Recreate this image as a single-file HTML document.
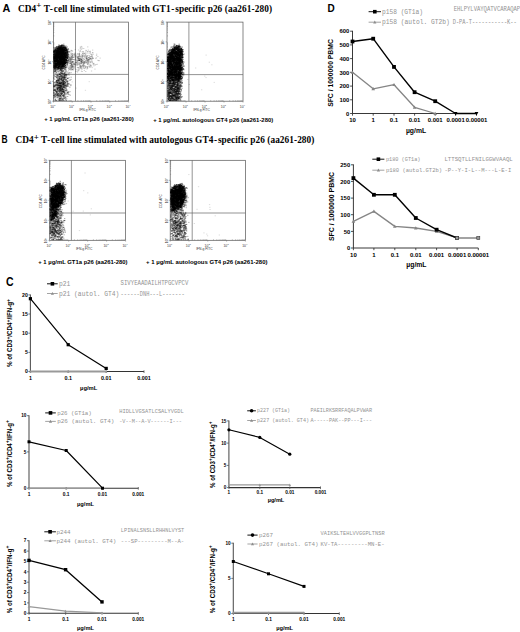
<!DOCTYPE html>
<html><head><meta charset="utf-8"><style>
html,body{margin:0;padding:0;background:#fff;}
svg{display:block;}
.S{font-family:"Liberation Sans", sans-serif;font-weight:bold;}
.R{font-family:"Liberation Serif", serif;font-weight:bold;}
.M{font-family:"Liberation Mono", monospace;}
.SN{font-family:"Liberation Sans", sans-serif;font-weight:normal;}
</style></head><body>
<svg width="520" height="632" viewBox="0 0 520 632">
<rect width="520" height="632" fill="#fff"/>
<text x="2.5" y="11.8" class="S" font-size="10.8">A</text>
<text x="18.0" y="11.6" class="R" font-size="9.3" textLength="254" lengthAdjust="spacing">CD4<tspan dy="-3.4" font-size="9">+</tspan><tspan dy="3.4"> T</tspan><tspan dx="0.7">-</tspan><tspan dx="0.7">cell line stimulated with GT1</tspan><tspan dx="0.7">-</tspan><tspan dx="0.7">specific p26 (aa261-280)</tspan></text>
<rect x="53.4" y="22.1" width="75.2" height="79.1" fill="none" stroke="#555" stroke-width="0.7"/>
<line x1="75.5" y1="22.1" x2="75.5" y2="101.2" stroke="#666" stroke-width="0.7"/>
<line x1="53.4" y1="74.4" x2="128.6" y2="74.4" stroke="#666" stroke-width="0.7"/>
<path d="M56.4 52.3h.3M60.1 58.1h.3M62.5 47.6h.3M53.9 58.4h.3M55.1 56.2h.3M67.4 58.0h.3M53.9 62.7h.3M56.2 55.4h.3M62.8 65.8h.3M59.6 51.5h.3M60.4 51.9h.3M62.7 58.1h.3M59.0 48.8h.3M64.8 60.3h.3M62.8 62.1h.3M59.8 47.8h.3M65.8 59.8h.3M59.8 56.7h.3M54.5 67.4h.3M61.4 45.3h.3M61.9 48.6h.3M59.8 45.9h.3M62.6 58.0h.3M56.3 64.3h.3M65.1 57.3h.3M55.1 57.7h.3M58.9 47.6h.3M57.7 46.7h.3M55.1 50.8h.3M61.8 63.1h.3M54.0 67.7h.3M62.5 57.5h.3M57.2 51.2h.3M67.3 52.9h.3M54.2 54.8h.3M57.0 59.5h.3M56.4 60.4h.3M62.8 68.3h.3M67.5 54.4h.3M62.9 47.8h.3M58.0 66.7h.3M53.9 47.7h.3M56.7 53.9h.3M59.5 62.0h.3M64.0 66.6h.3M53.9 52.1h.3M56.8 59.2h.3M60.6 62.8h.3M59.4 48.1h.3M56.3 51.5h.3M54.2 57.4h.3M55.4 55.9h.3M53.9 64.0h.3M61.5 48.3h.3M55.0 49.8h.3M62.9 54.7h.3M55.0 66.2h.3M53.9 66.8h.3M62.2 68.0h.3M67.4 50.1h.3M53.9 52.4h.3M64.8 52.7h.3M57.6 58.7h.3M54.6 64.1h.3M55.8 56.4h.3M62.3 60.1h.3M62.2 61.1h.3M64.5 53.5h.3M59.0 57.3h.3M57.8 50.4h.3M59.7 51.8h.3M64.9 54.4h.3M58.5 53.2h.3M58.7 46.9h.3M56.8 68.0h.3M62.0 59.0h.3M56.5 67.2h.3M54.8 60.8h.3M60.5 45.9h.3M65.9 48.7h.3M61.5 55.3h.3M60.2 50.0h.3M61.3 54.9h.3M63.8 66.6h.3M54.6 61.4h.3M62.4 61.9h.3M54.3 52.3h.3M60.0 48.5h.3M65.4 52.2h.3M66.0 60.8h.3M62.5 52.2h.3M53.9 57.9h.3M58.0 56.5h.3M55.6 66.7h.3M56.6 55.6h.3M56.5 52.6h.3M56.7 50.0h.3M56.3 65.1h.3M67.3 49.7h.3M61.8 49.8h.3M56.6 53.9h.3M61.1 61.1h.3M53.9 59.2h.3M62.3 45.2h.3M56.2 60.2h.3M53.9 61.7h.3M55.6 63.7h.3M62.3 51.4h.3M62.8 47.3h.3M56.0 54.3h.3M61.8 52.5h.3M57.9 68.3h.3M56.3 60.4h.3M56.7 54.3h.3M60.4 63.0h.3M66.3 61.2h.3M53.9 50.9h.3M61.5 51.4h.3M65.6 57.7h.3M62.0 49.7h.3M54.7 67.3h.3M67.5 56.3h.3M63.3 67.5h.3M55.3 59.8h.3M54.1 55.4h.3M66.1 60.3h.3M62.8 57.5h.3M65.4 62.1h.3M64.4 46.8h.3M66.0 47.5h.3M57.6 61.2h.3M56.0 49.7h.3M59.6 63.3h.3M60.9 63.7h.3M59.2 48.1h.3M61.8 47.0h.3M59.8 61.0h.3M56.9 61.1h.3M62.0 66.6h.3M58.9 54.5h.3M64.9 47.6h.3M57.3 63.6h.3M64.6 59.1h.3M58.8 66.7h.3M61.5 53.8h.3M62.4 45.5h.3M59.8 45.6h.3M55.9 66.5h.3M65.3 55.7h.3M62.1 60.6h.3M53.9 55.1h.3M55.3 65.1h.3M64.5 60.3h.3M63.5 52.3h.3M62.9 60.4h.3M67.9 54.0h.3M62.1 59.2h.3M57.0 51.1h.3M62.1 53.3h.3M59.5 48.9h.3M65.3 48.3h.3M57.8 55.9h.3M56.6 60.7h.3M64.7 60.9h.3M63.6 49.3h.3M64.0 55.0h.3M61.3 55.3h.3M66.3 50.3h.3M60.2 60.1h.3M61.7 51.9h.3M63.5 63.3h.3M64.9 51.0h.3M63.5 54.9h.3M64.6 62.0h.3M59.8 48.1h.3M65.1 56.4h.3M54.8 60.1h.3M66.2 51.2h.3M60.5 48.2h.3M55.2 54.9h.3M61.3 51.3h.3M58.9 53.5h.3M57.5 49.2h.3M66.1 55.0h.3M55.1 66.9h.3M63.0 45.4h.3M59.3 59.4h.3M60.8 55.8h.3M61.2 65.1h.3M57.5 62.9h.3M60.7 56.5h.3M65.5 50.5h.3M56.0 66.6h.3M53.9 65.4h.3M55.3 66.2h.3M59.5 50.1h.3M67.0 56.8h.3M53.9 56.9h.3M69.1 51.7h.3M59.8 52.0h.3M56.9 54.2h.3M59.9 49.2h.3M56.8 68.9h.3M63.1 65.0h.3M62.3 58.9h.3M56.1 58.6h.3M58.3 67.4h.3M65.7 59.3h.3M64.7 63.2h.3M58.8 44.9h.3M60.7 54.2h.3M64.0 51.3h.3M54.0 65.1h.3M56.9 62.9h.3M59.9 55.2h.3M62.2 47.1h.3M54.9 64.4h.3M54.1 52.1h.3M56.5 65.3h.3M60.0 59.1h.3M63.7 62.4h.3M62.9 58.9h.3M53.9 66.5h.3M55.0 53.4h.3M60.3 66.7h.3M66.6 59.1h.3M67.0 63.5h.3M59.8 68.4h.3M65.7 51.3h.3M60.5 61.9h.3M64.1 64.3h.3M58.4 50.6h.3M56.2 55.9h.3M61.1 66.9h.3M55.6 66.1h.3M61.6 69.1h.3M63.9 51.5h.3M67.4 55.7h.3M61.7 54.4h.3M54.3 56.5h.3M65.2 58.1h.3M67.6 51.7h.3M61.4 59.2h.3M62.6 62.7h.3M60.8 60.8h.3M55.8 67.2h.3M58.5 68.6h.3M65.0 63.3h.3M60.6 67.2h.3M62.1 46.8h.3M60.0 61.2h.3M66.7 53.1h.3M54.4 61.3h.3M59.2 61.3h.3M55.8 63.6h.3M62.9 50.9h.3M57.7 57.9h.3M57.0 61.1h.3M62.3 51.8h.3M58.1 66.3h.3M53.9 53.8h.3M60.9 47.9h.3M60.9 51.1h.3M61.7 65.6h.3M66.0 56.0h.3M65.3 50.5h.3M64.0 54.7h.3M60.3 64.2h.3M60.1 51.5h.3M59.6 63.1h.3M58.8 53.8h.3M53.9 51.4h.3M64.0 64.0h.3M57.7 50.8h.3M55.0 71.1h.3M59.8 56.8h.3M59.3 62.0h.3M57.8 64.8h.3M62.9 60.4h.3M56.3 67.8h.3M54.9 61.5h.3M62.7 56.3h.3M60.4 47.7h.3M66.9 51.0h.3M57.4 64.0h.3M53.9 55.0h.3M60.4 57.0h.3M57.3 50.9h.3M55.7 67.7h.3M58.1 64.7h.3M59.0 66.8h.3M59.8 51.9h.3M59.4 68.6h.3M55.4 64.0h.3M61.5 53.6h.3M54.2 55.2h.3M58.1 59.9h.3M58.4 66.9h.3M61.0 57.4h.3M53.9 54.3h.3M60.7 46.6h.3M60.4 52.9h.3M63.1 52.1h.3M67.4 55.9h.3M59.7 56.7h.3M60.6 50.3h.3M61.3 47.9h.3M55.9 60.6h.3M65.4 52.1h.3M64.3 60.9h.3M67.6 60.8h.3M65.4 67.4h.3M67.3 51.7h.3M55.5 70.0h.3M54.3 66.5h.3M54.7 58.2h.3M57.5 56.1h.3M63.6 51.7h.3M59.0 59.0h.3M59.6 49.1h.3M64.5 53.7h.3M62.8 61.2h.3M55.8 60.9h.3M59.2 61.4h.3M63.1 65.7h.3M64.0 57.1h.3M60.0 54.2h.3M58.3 52.1h.3M64.9 57.1h.3M57.2 57.2h.3M53.9 56.2h.3M56.9 51.9h.3M54.2 50.9h.3M64.9 65.7h.3M55.1 70.9h.3M54.6 61.6h.3M57.5 48.5h.3M60.8 55.7h.3M58.1 67.6h.3M60.3 68.0h.3M58.7 65.0h.3M54.6 50.9h.3M58.4 67.2h.3M65.9 50.6h.3M56.7 63.3h.3M56.4 65.6h.3M61.2 45.6h.3M54.8 57.2h.3M59.4 56.0h.3M61.7 65.8h.3M63.9 51.6h.3M62.6 46.3h.3M56.2 65.5h.3M57.0 59.8h.3M66.9 58.5h.3M63.5 60.1h.3M63.8 50.7h.3M59.6 52.2h.3M57.1 69.1h.3M67.0 58.2h.3M63.0 47.2h.3M62.3 63.2h.3M62.8 58.8h.3M56.7 47.2h.3M56.8 57.0h.3M61.5 59.9h.3M60.7 64.0h.3M65.2 60.5h.3M67.9 62.1h.3M66.5 60.0h.3M57.8 55.1h.3M57.5 64.6h.3M60.9 49.4h.3M64.3 61.5h.3M55.8 67.4h.3M59.6 66.8h.3M62.6 58.0h.3M66.3 49.6h.3M65.4 59.4h.3M61.0 60.9h.3M61.2 62.3h.3M55.4 59.4h.3M66.9 62.9h.3M60.5 63.6h.3M67.3 58.6h.3M54.4 51.2h.3M59.8 64.4h.3M59.2 57.4h.3M65.0 61.0h.3M62.3 54.1h.3M59.2 66.4h.3M58.2 54.2h.3M59.9 59.7h.3M58.1 61.6h.3M66.7 58.2h.3M61.2 61.8h.3M59.2 53.5h.3M56.2 50.5h.3M67.4 55.9h.3M57.8 60.8h.3M64.0 47.5h.3M62.4 55.6h.3M56.3 49.4h.3M66.8 62.0h.3M63.5 60.4h.3M61.1 53.5h.3M64.8 68.7h.3M66.6 67.6h.3M60.2 64.8h.3M62.6 50.5h.3M56.9 53.5h.3M53.9 58.8h.3M62.5 63.3h.3M59.5 47.2h.3M65.4 53.2h.3M57.8 60.8h.3M63.8 50.0h.3M57.0 61.7h.3M57.0 52.9h.3M59.5 49.4h.3M54.7 51.8h.3M55.4 49.4h.3M56.8 51.9h.3M63.7 65.1h.3M63.1 53.4h.3M63.3 52.8h.3M59.1 55.9h.3M61.1 59.5h.3M54.4 57.7h.3M57.8 54.3h.3M57.4 54.4h.3M58.6 62.5h.3M58.1 52.5h.3M62.2 63.2h.3M57.6 58.1h.3M57.9 51.1h.3M63.9 62.9h.3M54.4 58.8h.3M54.5 59.7h.3M63.1 57.2h.3M62.3 58.4h.3M65.7 56.5h.3M64.4 53.8h.3M56.2 50.6h.3M65.4 56.8h.3M58.1 61.7h.3M60.1 57.7h.3M61.7 53.4h.3M64.6 50.0h.3M56.9 53.8h.3M60.0 53.6h.3M53.9 50.3h.3M57.0 56.3h.3M68.5 54.7h.3M67.3 57.5h.3M61.3 65.2h.3M64.2 54.7h.3M65.9 60.0h.3M57.0 50.0h.3M62.5 65.9h.3M54.0 63.3h.3M60.1 60.8h.3M64.8 67.5h.3M63.1 66.4h.3M62.6 68.4h.3M55.1 63.9h.3M61.2 67.0h.3M67.3 52.2h.3M61.2 56.9h.3M61.8 45.8h.3M66.6 54.8h.3M57.2 54.7h.3M66.5 60.3h.3M59.5 54.4h.3M65.9 49.8h.3M56.3 56.6h.3M59.6 51.6h.3M64.4 64.1h.3M63.4 61.8h.3M61.6 66.6h.3M55.7 59.9h.3M53.9 51.4h.3M61.6 57.6h.3M65.9 53.1h.3M63.2 58.9h.3M57.5 64.1h.3M55.6 64.7h.3M58.9 56.4h.3M59.1 53.6h.3M60.9 48.4h.3M62.0 66.7h.3M57.7 67.0h.3M65.9 59.7h.3M58.6 64.5h.3M54.4 48.3h.3M59.0 62.6h.3M66.8 53.8h.3M55.4 65.8h.3M58.5 54.7h.3M65.0 56.7h.3M58.5 55.1h.3M63.2 57.4h.3M54.9 65.8h.3M55.7 51.3h.3M56.6 64.9h.3M64.4 66.3h.3M63.6 64.9h.3M66.1 60.5h.3M61.5 68.0h.3M54.2 60.2h.3M64.3 63.0h.3M58.0 67.9h.3M58.5 54.4h.3M59.7 63.8h.3M56.5 50.8h.3M53.9 57.2h.3M57.4 62.7h.3M64.0 64.5h.3M64.8 52.9h.3M64.7 62.8h.3M61.1 50.7h.3M63.4 59.0h.3M60.2 57.9h.3M54.3 69.0h.3M53.9 63.3h.3M65.4 50.3h.3M54.2 67.5h.3M62.8 54.7h.3M60.9 56.8h.3M61.0 57.5h.3M59.7 65.9h.3M55.1 55.9h.3M55.9 65.7h.3M60.4 57.9h.3M63.2 47.3h.3M55.4 63.5h.3M60.6 49.1h.3M62.3 61.7h.3M66.9 55.7h.3M54.6 49.7h.3M55.7 56.6h.3M57.1 54.2h.3M56.6 56.3h.3M56.4 58.0h.3M53.9 57.1h.3M56.0 58.1h.3M60.4 68.6h.3M61.9 63.4h.3M56.8 54.6h.3M55.7 63.7h.3M55.5 52.1h.3M56.2 63.5h.3M55.8 50.1h.3M60.0 48.9h.3M66.7 62.9h.3M66.0 52.6h.3M56.4 58.9h.3M55.8 51.8h.3M59.0 50.0h.3M57.8 68.5h.3M62.7 48.3h.3M55.9 66.3h.3M64.1 50.7h.3M60.5 62.3h.3M61.2 61.3h.3M56.5 52.1h.3M55.5 48.0h.3M60.0 55.9h.3M61.0 53.8h.3M61.4 45.6h.3M65.2 61.7h.3M62.6 67.1h.3M56.0 54.0h.3M63.0 62.6h.3M57.4 55.1h.3M58.1 52.8h.3M55.1 58.5h.3M64.2 61.6h.3M64.0 57.4h.3M64.9 53.8h.3M56.0 66.5h.3M55.9 61.9h.3M60.9 47.1h.3M66.9 64.5h.3M63.8 47.7h.3M66.9 56.9h.3M57.7 48.6h.3M61.0 66.2h.3M55.0 60.9h.3M61.7 61.0h.3M55.9 55.6h.3M61.7 54.3h.3M60.7 46.2h.3M59.0 66.7h.3M59.6 48.5h.3M62.3 58.8h.3M60.5 48.4h.3M60.7 47.5h.3M57.5 53.0h.3M67.1 47.0h.3M59.5 60.4h.3M67.0 50.9h.3M55.4 54.9h.3M55.0 64.9h.3M63.7 51.6h.3M57.3 59.7h.3M65.2 52.7h.3M60.2 69.6h.3M64.5 53.4h.3M61.8 49.4h.3M56.5 60.0h.3M65.2 53.0h.3M57.7 67.6h.3M55.1 60.8h.3M53.9 61.0h.3M58.2 68.9h.3M61.2 53.6h.3M64.8 55.1h.3M57.3 53.7h.3M66.1 51.9h.3M54.8 55.7h.3M56.4 56.4h.3M56.8 48.8h.3M60.1 65.7h.3M66.0 46.1h.3M60.4 47.7h.3M62.5 59.5h.3M57.9 62.7h.3M65.8 62.7h.3M60.3 65.7h.3M64.4 55.6h.3M64.8 51.2h.3M61.0 46.4h.3M57.8 67.1h.3M55.7 61.8h.3M62.1 64.6h.3M64.2 60.4h.3M55.1 62.4h.3M59.3 51.3h.3M58.4 67.6h.3M64.3 57.0h.3M62.6 56.6h.3M56.9 57.4h.3M59.8 58.5h.3M55.1 48.8h.3M63.8 68.5h.3M63.7 52.5h.3M57.7 61.5h.3M63.7 49.5h.3M54.4 67.8h.3M61.0 68.4h.3M65.7 62.6h.3M63.6 44.2h.3M53.9 66.5h.3M67.7 52.0h.3M63.0 58.8h.3M59.7 48.7h.3M58.7 61.9h.3M61.2 62.8h.3M58.7 54.0h.3M56.9 50.5h.3M55.4 64.4h.3M55.0 66.3h.3M54.9 50.4h.3M54.7 70.9h.3M63.1 58.7h.3M61.2 53.9h.3M62.2 55.9h.3M65.1 46.3h.3M54.3 57.6h.3M59.0 59.4h.3M54.6 57.3h.3M59.0 48.3h.3M56.3 61.9h.3M53.9 58.1h.3M57.1 49.4h.3M59.4 65.2h.3M64.6 59.6h.3M63.9 55.6h.3M56.5 63.7h.3M56.0 62.1h.3M60.3 54.9h.3M53.9 62.0h.3M59.7 56.2h.3M59.0 50.8h.3M66.8 48.7h.3M54.9 68.3h.3M65.4 48.6h.3M62.9 57.4h.3M61.1 53.3h.3M53.9 51.5h.3M65.7 53.0h.3M58.6 49.4h.3M66.1 62.4h.3M62.0 52.3h.3M58.3 59.9h.3M62.0 58.1h.3M61.9 67.2h.3M59.7 64.4h.3M62.9 65.0h.3M61.8 52.8h.3M59.8 70.5h.3M62.8 66.5h.3M54.6 60.0h.3M59.3 65.8h.3M60.4 49.6h.3M55.3 68.5h.3M62.9 50.9h.3M63.1 64.4h.3M59.2 64.5h.3M54.6 56.7h.3M62.6 55.3h.3M54.7 53.3h.3M55.9 57.1h.3M59.9 50.9h.3M59.6 54.3h.3M55.2 69.4h.3M66.7 55.2h.3M54.4 65.5h.3M61.2 56.7h.3M58.6 66.7h.3M62.9 63.2h.3M60.3 64.5h.3M58.5 61.6h.3M59.6 60.9h.3M62.7 66.3h.3M63.1 61.2h.3M63.0 65.1h.3M57.4 62.7h.3M56.0 56.0h.3M56.9 51.9h.3M58.7 53.7h.3M62.6 64.0h.3M59.7 51.1h.3M56.8 52.6h.3M54.6 69.0h.3M62.4 61.4h.3M55.7 53.9h.3M60.7 61.0h.3M64.2 57.1h.3M63.4 46.2h.3M54.7 67.0h.3M59.5 47.1h.3M56.1 54.3h.3M63.7 56.3h.3M58.8 55.9h.3M62.8 55.9h.3M59.1 66.3h.3M54.7 54.6h.3M60.4 70.2h.3M53.9 58.0h.3M66.1 66.6h.3M62.8 50.8h.3M60.1 50.6h.3M59.6 51.9h.3M61.5 63.6h.3M68.4 57.2h.3M53.9 63.1h.3M58.5 60.8h.3M60.0 49.5h.3M64.0 57.2h.3M64.5 49.5h.3M59.4 59.1h.3M64.3 62.2h.3M57.7 55.7h.3M55.0 60.1h.3M63.8 55.5h.3M61.2 57.7h.3M58.2 55.1h.3M57.1 54.1h.3M60.4 68.0h.3M59.0 58.4h.3M57.5 48.1h.3M66.2 54.2h.3M60.6 61.9h.3M55.9 57.0h.3M60.8 57.4h.3M66.1 59.7h.3M65.4 62.7h.3M64.6 69.4h.3M65.5 48.7h.3M65.4 67.5h.3M62.3 57.0h.3M58.2 60.4h.3M55.1 56.0h.3M66.2 56.8h.3M61.3 53.1h.3M58.2 56.8h.3M64.3 63.1h.3M56.6 47.0h.3M54.1 51.7h.3M57.3 53.2h.3M61.9 65.5h.3M56.7 68.3h.3M53.9 59.7h.3M57.5 65.9h.3M66.2 55.8h.3M63.2 62.6h.3M58.0 65.9h.3M65.4 62.0h.3M67.3 54.1h.3M58.4 64.2h.3M66.6 62.4h.3M57.4 69.5h.3M58.4 65.1h.3M53.9 56.7h.3M54.9 50.3h.3M54.9 51.3h.3M60.0 63.2h.3M56.4 47.5h.3M65.4 62.6h.3M58.5 53.1h.3M54.7 50.9h.3M57.6 65.4h.3M62.0 49.4h.3M64.4 64.5h.3M64.7 60.3h.3M62.6 53.4h.3M62.8 53.4h.3M62.8 59.3h.3M59.2 50.7h.3M56.3 57.6h.3M64.3 60.0h.3M63.3 52.8h.3M55.8 63.9h.3M58.1 48.9h.3M54.3 63.2h.3M56.5 62.9h.3M65.3 65.0h.3M57.6 67.1h.3M63.4 54.1h.3M54.9 66.6h.3M58.9 46.9h.3M59.3 48.8h.3M60.7 59.9h.3M64.7 58.8h.3M63.6 52.9h.3M63.7 60.8h.3M55.1 57.6h.3M60.8 50.8h.3M57.8 60.7h.3M61.0 70.1h.3M55.3 52.0h.3M63.8 48.4h.3M59.2 48.0h.3M53.9 62.0h.3M58.6 48.5h.3M64.5 63.3h.3M66.1 48.4h.3M55.3 57.0h.3M58.7 48.7h.3M63.5 53.8h.3M61.2 55.3h.3M55.3 56.8h.3M65.0 58.2h.3M59.5 67.9h.3M60.2 58.2h.3M65.5 55.5h.3M56.5 54.7h.3M68.2 56.4h.3M61.8 59.0h.3M62.2 50.6h.3M64.1 49.6h.3M60.4 59.4h.3M62.5 59.8h.3M55.5 56.5h.3M61.2 59.4h.3M64.0 48.7h.3M61.2 46.6h.3M62.0 51.9h.3M60.1 53.2h.3M65.2 62.0h.3M64.3 66.9h.3M54.7 58.0h.3M64.8 65.2h.3M58.3 63.1h.3M55.2 55.2h.3M55.0 58.8h.3M57.5 63.7h.3M61.2 67.9h.3M58.3 63.3h.3M56.7 57.2h.3M63.1 48.1h.3M58.8 51.9h.3M66.6 57.4h.3M58.0 51.4h.3M62.9 63.6h.3M60.0 53.6h.3M65.2 56.9h.3M62.6 54.3h.3M65.8 69.9h.3M55.9 55.3h.3M64.4 61.1h.3M60.8 67.5h.3M64.1 64.1h.3M65.3 63.6h.3M55.7 65.1h.3M53.9 53.1h.3M65.3 52.1h.3M67.6 51.4h.3M65.1 48.3h.3M58.7 47.0h.3M63.9 65.5h.3M55.1 67.7h.3M53.9 64.0h.3M62.9 50.8h.3M61.9 48.6h.3M66.2 61.8h.3M54.4 60.3h.3M58.6 57.8h.3M57.2 59.3h.3M59.9 62.3h.3M61.1 58.0h.3M55.1 59.0h.3M61.7 46.8h.3M60.7 54.5h.3M57.4 54.8h.3M58.4 50.9h.3M58.3 61.9h.3M59.3 65.0h.3M59.9 55.2h.3M59.4 64.1h.3M64.0 59.0h.3M65.0 53.5h.3M60.7 47.9h.3M58.5 51.7h.3M55.8 65.9h.3M54.2 67.6h.3M56.3 60.8h.3M58.9 47.6h.3M58.2 65.2h.3M57.6 51.0h.3M63.7 49.0h.3M59.0 65.1h.3M53.9 56.3h.3M59.5 49.1h.3M66.4 50.5h.3M58.9 49.9h.3M57.9 58.2h.3M64.1 48.0h.3M67.5 57.0h.3M60.3 53.4h.3M64.0 47.8h.3M58.0 56.0h.3M56.6 59.8h.3M61.4 52.9h.3M55.6 53.6h.3M57.3 52.9h.3M55.4 67.8h.3M55.1 66.2h.3M64.7 54.5h.3M62.6 62.4h.3M55.5 65.7h.3M58.0 62.5h.3M63.1 62.6h.3M65.5 47.4h.3M60.5 63.8h.3M63.1 47.5h.3M56.2 67.5h.3M65.1 50.7h.3M65.6 51.0h.3M61.1 57.4h.3M57.2 55.3h.3M63.4 49.8h.3M63.2 68.0h.3M55.3 50.4h.3M57.3 47.3h.3M66.3 53.0h.3M54.7 53.8h.3M53.9 61.4h.3M58.2 57.4h.3M59.5 64.5h.3M66.6 49.3h.3M56.3 59.6h.3M58.7 63.7h.3M60.7 56.5h.3M53.9 62.6h.3M60.3 56.4h.3M62.4 65.7h.3M62.7 57.2h.3M61.5 53.4h.3M61.8 53.3h.3M60.8 60.8h.3M55.1 52.4h.3M63.6 52.9h.3M60.8 67.7h.3M54.7 50.1h.3M59.0 61.1h.3M57.3 48.6h.3M66.6 51.2h.3M57.6 61.1h.3M54.6 55.3h.3M64.4 59.2h.3M65.1 52.7h.3M62.0 62.3h.3M58.8 48.9h.3M60.4 53.6h.3M61.0 52.4h.3M63.0 64.7h.3M68.6 59.4h.3M58.2 52.4h.3M64.0 59.4h.3M54.4 64.0h.3M56.5 52.2h.3M68.1 55.6h.3M56.6 56.1h.3M60.7 59.0h.3M62.9 54.5h.3M60.6 50.2h.3M61.8 47.6h.3M67.6 53.1h.3M67.6 51.2h.3M56.4 61.1h.3M60.4 66.1h.3M56.2 66.7h.3M61.6 66.9h.3M66.5 49.8h.3M53.9 65.7h.3M56.7 48.5h.3M62.9 49.9h.3M64.0 50.7h.3M60.5 59.8h.3M62.0 63.5h.3M65.6 54.1h.3M56.3 54.6h.3M62.9 66.5h.3M63.5 60.5h.3M66.3 57.9h.3M59.2 54.1h.3M57.3 55.1h.3M61.5 50.3h.3M58.7 62.4h.3M59.3 46.9h.3M64.8 58.4h.3M63.8 63.5h.3M63.1 57.4h.3M61.5 56.7h.3M57.6 59.4h.3M60.7 49.6h.3M63.9 46.6h.3M61.7 51.5h.3M63.8 54.0h.3M61.8 53.6h.3M65.3 53.6h.3M62.4 64.9h.3M66.2 61.8h.3M64.3 45.6h.3M64.1 53.6h.3M54.4 56.3h.3M53.9 60.5h.3M67.6 54.1h.3M57.6 60.8h.3M57.6 65.3h.3M54.2 58.1h.3M60.9 52.9h.3M53.9 67.4h.3M62.8 66.6h.3M56.2 56.0h.3M61.0 61.6h.3M64.2 58.1h.3M61.2 62.0h.3M62.0 65.9h.3M65.0 62.7h.3M61.2 45.4h.3M57.2 57.6h.3M53.9 67.8h.3M65.9 50.1h.3M62.6 62.2h.3M55.1 53.2h.3M64.3 56.1h.3M62.0 66.5h.3M59.4 65.1h.3M66.5 54.2h.3M56.7 59.6h.3M54.9 54.0h.3M58.1 57.8h.3M57.3 49.1h.3M65.4 63.7h.3M64.3 49.4h.3M56.9 63.1h.3M63.2 59.6h.3M63.0 61.4h.3M53.9 67.0h.3M59.5 63.4h.3M58.9 45.6h.3M64.8 46.9h.3M58.0 47.7h.3M62.5 52.8h.3M57.8 51.3h.3M53.9 59.7h.3M62.1 54.9h.3M54.6 65.8h.3M61.8 55.7h.3M57.0 65.1h.3M56.8 56.0h.3M62.8 53.2h.3M57.5 62.5h.3M61.8 48.5h.3M63.8 69.0h.3M61.2 57.8h.3M58.9 66.8h.3M67.1 52.7h.3M58.0 68.8h.3M63.4 47.1h.3M60.2 63.5h.3M61.0 47.5h.3M64.5 66.5h.3M58.2 53.1h.3M65.3 59.9h.3M60.3 52.0h.3M62.3 59.5h.3M63.6 56.5h.3M66.9 50.2h.3M58.4 47.6h.3M59.3 67.7h.3M60.4 53.2h.3M57.7 63.0h.3M64.7 61.9h.3M56.5 65.2h.3M67.2 65.8h.3M61.5 62.1h.3M55.4 61.1h.3M65.2 63.2h.3M65.0 50.4h.3M65.4 55.2h.3M55.8 54.9h.3M63.7 61.7h.3M63.6 53.6h.3M61.4 60.9h.3M53.9 54.7h.3M62.5 49.1h.3M59.4 49.7h.3M54.0 67.6h.3M64.7 50.7h.3M65.2 49.7h.3M61.9 55.4h.3M65.0 48.3h.3M63.8 54.2h.3M59.8 66.0h.3M55.4 55.1h.3M56.9 59.0h.3M61.0 58.8h.3M60.6 66.6h.3M57.6 60.8h.3M56.6 62.2h.3M58.5 52.7h.3M57.2 56.3h.3M55.5 48.8h.3M60.2 58.2h.3M61.3 63.9h.3M58.2 54.7h.3M61.2 50.6h.3M61.5 61.4h.3M53.9 52.8h.3M65.6 53.9h.3M62.6 66.9h.3M55.3 58.7h.3M55.0 68.5h.3M64.8 47.9h.3M59.9 62.6h.3M56.6 58.5h.3M60.6 47.0h.3M59.0 62.7h.3M60.0 56.4h.3M58.0 60.1h.3M58.2 49.0h.3M59.3 49.0h.3M64.7 59.7h.3M54.4 57.1h.3M64.4 60.0h.3M54.9 60.3h.3M63.7 58.0h.3M62.1 63.9h.3M57.5 67.5h.3M65.9 49.8h.3M56.9 57.9h.3M61.4 64.2h.3M57.1 65.7h.3M61.6 54.4h.3M61.4 55.0h.3M54.1 63.0h.3M63.6 48.5h.3M60.3 61.8h.3M54.7 61.7h.3M62.1 59.4h.3M56.8 55.9h.3M60.6 53.0h.3M58.7 61.5h.3M53.9 51.6h.3M56.3 46.6h.3M59.5 62.6h.3M64.3 63.6h.3M59.9 52.5h.3M57.5 48.1h.3M53.9 60.1h.3M55.4 47.6h.3M55.5 65.5h.3M65.4 47.8h.3M60.9 50.4h.3M61.9 44.7h.3M61.8 51.7h.3M53.9 52.5h.3M67.6 58.0h.3M57.4 67.5h.3M65.7 57.1h.3M58.7 57.1h.3M63.9 61.9h.3M62.1 58.7h.3M64.9 56.6h.3M59.5 64.5h.3M55.6 64.9h.3M65.7 65.5h.3M59.4 52.7h.3M58.7 56.9h.3M65.7 57.8h.3M63.0 63.7h.3M60.3 51.2h.3M62.5 61.5h.3M53.9 64.8h.3M54.9 62.8h.3M59.1 56.0h.3M61.7 55.5h.3M56.2 63.7h.3M66.1 55.9h.3M59.7 51.2h.3M65.2 66.3h.3M63.6 57.0h.3M66.6 60.6h.3M64.6 58.0h.3M58.2 53.0h.3M67.4 52.5h.3M54.5 60.5h.3M67.0 52.7h.3M59.8 58.9h.3M58.3 57.0h.3M60.2 56.0h.3M60.3 48.2h.3M67.5 64.1h.3M65.3 65.4h.3M62.4 65.2h.3M57.4 50.8h.3M59.0 56.2h.3M53.9 59.7h.3M61.8 63.4h.3M54.0 55.7h.3M60.7 56.2h.3M54.6 69.0h.3M64.9 53.8h.3M57.7 58.4h.3M63.8 51.3h.3M56.9 54.6h.3M64.5 62.6h.3M58.6 57.3h.3M59.7 64.1h.3M61.8 62.7h.3M58.0 57.0h.3M55.5 61.9h.3M62.4 52.3h.3M62.5 50.0h.3M58.1 46.3h.3M56.9 53.9h.3M57.1 48.9h.3M63.9 62.3h.3M57.7 50.7h.3M62.8 56.5h.3M57.8 59.6h.3M54.4 67.6h.3M61.0 53.5h.3M58.3 46.5h.3M57.8 66.3h.3M56.0 51.6h.3M61.1 62.8h.3M64.4 49.5h.3M53.9 64.9h.3M63.0 62.7h.3M57.7 49.0h.3M57.3 52.3h.3M56.4 48.5h.3M62.4 48.8h.3M54.4 58.5h.3M57.9 49.2h.3M55.0 57.5h.3M61.2 49.4h.3M65.4 47.8h.3M53.9 55.1h.3M53.9 62.7h.3M54.6 60.5h.3M58.5 57.6h.3M54.6 57.8h.3M64.9 48.4h.3M67.7 54.1h.3M59.4 47.0h.3M65.7 49.2h.3M63.6 52.8h.3M63.2 49.2h.3M59.3 55.5h.3M55.8 66.6h.3M54.9 63.9h.3M65.2 49.9h.3M61.5 60.9h.3M55.5 50.2h.3M58.8 68.8h.3M57.8 63.6h.3M65.6 55.3h.3M62.2 56.1h.3M65.7 54.9h.3M61.3 64.9h.3M66.4 59.7h.3M68.3 49.7h.3M61.9 49.3h.3M63.0 63.4h.3M57.9 54.1h.3M53.9 56.2h.3M61.7 59.6h.3M54.5 51.4h.3M61.7 62.7h.3M62.6 61.0h.3M63.5 45.6h.3M67.7 62.4h.3M56.6 67.8h.3M67.9 60.5h.3M60.8 50.2h.3M63.2 52.6h.3M61.3 66.9h.3M64.3 63.2h.3M58.1 52.6h.3M53.9 58.2h.3M66.1 53.3h.3M62.9 64.3h.3M62.3 48.6h.3M58.6 68.8h.3M64.3 53.0h.3M63.4 50.9h.3M62.3 66.4h.3M63.4 66.0h.3M61.1 59.8h.3M57.1 50.6h.3M60.0 49.7h.3M58.9 49.8h.3M60.9 46.6h.3M63.2 55.2h.3M63.5 59.9h.3M68.2 48.7h.3M53.9 52.3h.3M64.1 47.5h.3M58.6 47.9h.3M56.7 51.8h.3M61.9 52.2h.3M64.6 48.7h.3M62.9 47.9h.3M57.2 56.0h.3M63.0 46.1h.3M54.8 65.0h.3M54.5 51.5h.3M62.8 52.0h.3M62.7 63.7h.3M64.1 58.5h.3M59.4 66.8h.3M64.3 47.3h.3M60.7 57.3h.3M60.9 48.0h.3M53.9 65.4h.3M66.1 49.5h.3M60.1 58.3h.3M56.5 57.7h.3M62.3 53.2h.3M66.1 57.5h.3M67.2 57.4h.3M58.1 53.1h.3M62.1 56.8h.3M61.1 48.8h.3M62.6 48.5h.3M63.0 58.0h.3M64.5 57.2h.3M64.3 59.2h.3M61.9 58.3h.3M63.5 58.7h.3M56.2 52.3h.3M62.5 69.0h.3M58.4 53.2h.3M59.3 51.8h.3M54.4 53.7h.3M59.6 46.8h.3M61.5 70.5h.3M62.3 67.2h.3M61.6 68.8h.3M56.3 55.0h.3M63.1 64.9h.3M64.3 62.8h.3M60.4 52.0h.3M57.9 57.1h.3M59.1 63.5h.3M55.0 55.0h.3M56.4 60.5h.3M56.5 58.1h.3M60.5 52.0h.3M55.3 64.7h.3M66.5 51.1h.3M66.0 52.6h.3M60.5 60.5h.3" stroke="#000" stroke-opacity="0.62" stroke-width="0.7" stroke-linecap="square" fill="none"/>
<path d="M61.0 52.3h.3M60.4 59.2h.3M58.7 56.5h.3M59.9 57.9h.3M63.2 51.5h.3M63.3 53.4h.3M63.2 62.8h.3M60.8 61.5h.3M58.7 52.6h.3M62.4 58.6h.3M65.0 48.5h.3M57.5 54.8h.3M60.6 53.7h.3M66.4 55.1h.3M59.7 53.2h.3M56.8 55.7h.3M57.6 50.9h.3M60.1 53.8h.3M57.4 50.1h.3M64.7 63.5h.3M57.2 65.0h.3M61.0 51.4h.3M60.0 58.6h.3M57.5 56.7h.3M55.8 58.2h.3M54.8 66.0h.3M59.0 59.7h.3M63.6 63.4h.3M59.7 61.8h.3M60.4 53.7h.3M61.2 64.0h.3M60.9 57.8h.3M61.8 58.2h.3M64.8 61.6h.3M58.3 61.3h.3M56.9 50.6h.3M59.4 54.3h.3M62.3 53.5h.3M62.4 61.9h.3M56.7 64.1h.3M59.9 54.0h.3M59.6 57.9h.3M57.6 50.6h.3M58.2 60.6h.3M64.0 50.9h.3M60.2 64.7h.3M58.6 53.9h.3M62.0 55.1h.3M59.4 51.8h.3M64.8 58.6h.3M57.9 54.5h.3M63.7 54.3h.3M58.9 50.5h.3M58.5 54.1h.3M57.5 60.2h.3M60.5 63.9h.3M64.3 59.5h.3M58.9 51.8h.3M62.8 50.0h.3M66.2 56.6h.3M61.9 49.1h.3M61.8 56.6h.3M62.9 57.1h.3M61.2 49.8h.3M58.1 56.3h.3M57.5 52.9h.3M58.2 56.7h.3M57.7 58.8h.3M63.5 51.6h.3M65.7 58.4h.3M57.3 63.1h.3M57.3 57.3h.3M58.7 55.0h.3M62.4 53.5h.3M59.3 61.3h.3M60.1 54.7h.3M61.1 51.9h.3M61.1 64.1h.3M60.7 58.9h.3M64.2 63.5h.3M63.3 51.0h.3M62.6 59.7h.3M61.3 61.8h.3M59.3 61.2h.3M63.9 56.8h.3M60.8 63.2h.3M58.6 58.0h.3M64.6 60.7h.3M60.9 55.3h.3M62.8 52.2h.3M63.4 53.2h.3M56.4 50.9h.3M59.9 58.7h.3M63.0 54.2h.3M57.8 55.8h.3M57.5 60.6h.3M59.3 60.4h.3M64.4 55.8h.3M66.4 55.9h.3M54.8 62.3h.3M59.2 57.8h.3M64.0 52.3h.3M57.1 56.9h.3M64.7 59.1h.3M62.6 63.8h.3M55.6 54.9h.3M55.8 56.8h.3M65.1 63.3h.3M60.9 51.4h.3M61.5 50.7h.3M58.2 52.3h.3M54.3 66.0h.3M56.3 55.1h.3M57.9 52.4h.3M57.3 62.0h.3M57.1 50.0h.3M58.5 49.3h.3M65.0 55.9h.3M61.1 63.6h.3M59.5 56.2h.3M55.9 58.6h.3M55.1 64.5h.3M60.6 61.7h.3M55.8 59.9h.3M55.4 54.1h.3M61.0 52.3h.3M56.7 56.8h.3M54.9 58.6h.3M61.5 54.1h.3M56.7 60.4h.3M65.4 54.3h.3M58.7 64.4h.3M59.5 48.6h.3M61.0 57.7h.3M61.6 50.4h.3M60.4 59.9h.3M64.4 59.0h.3M60.4 59.7h.3M63.7 58.8h.3M57.5 53.0h.3M59.0 57.6h.3M62.2 57.4h.3M60.6 58.9h.3M59.5 59.6h.3M58.2 57.3h.3M61.9 58.5h.3M57.3 51.5h.3M61.7 48.0h.3M64.6 52.7h.3M56.4 52.6h.3M56.2 61.0h.3M58.6 55.3h.3M60.2 57.2h.3M60.9 56.2h.3M64.7 53.6h.3M55.9 56.9h.3M60.7 58.1h.3M58.8 55.0h.3M55.3 49.7h.3M59.7 52.7h.3M63.7 54.9h.3M64.0 60.2h.3M58.0 51.3h.3M58.7 65.4h.3M62.5 51.2h.3M59.5 59.7h.3M62.8 58.6h.3M64.7 54.2h.3M56.4 54.6h.3M62.4 65.0h.3M63.6 61.7h.3M62.6 50.3h.3M63.3 58.0h.3M56.6 65.0h.3M63.3 64.9h.3M58.0 62.7h.3M55.7 58.3h.3M61.6 51.6h.3M62.0 50.5h.3M63.7 55.1h.3M58.4 53.9h.3M60.9 52.6h.3M58.6 59.8h.3M58.1 58.7h.3M58.0 53.6h.3M65.8 52.2h.3M60.1 63.5h.3M63.2 56.0h.3M63.8 51.1h.3M57.1 61.4h.3M58.0 54.2h.3M62.7 64.3h.3M55.2 65.8h.3M57.6 56.6h.3M58.1 53.5h.3M55.7 56.4h.3M57.0 62.8h.3M64.9 56.3h.3M61.5 55.8h.3M54.7 52.1h.3M58.5 66.4h.3M56.2 63.6h.3M65.9 57.4h.3M60.7 61.1h.3M57.5 60.7h.3M58.1 62.7h.3M58.0 66.2h.3M61.6 58.5h.3M65.1 56.9h.3M57.7 56.5h.3M60.5 61.9h.3M63.6 61.6h.3M65.7 51.9h.3M56.6 52.7h.3M54.8 51.7h.3M60.8 65.6h.3M61.9 63.7h.3M64.3 58.1h.3M59.1 60.5h.3M60.5 55.5h.3M59.6 65.9h.3M58.0 50.7h.3M64.4 55.6h.3M60.5 52.8h.3M60.9 56.9h.3M55.6 61.0h.3M59.7 63.7h.3M54.3 57.7h.3M58.5 55.6h.3M62.2 55.0h.3M61.7 48.6h.3M56.2 59.2h.3M60.3 58.8h.3M58.4 63.6h.3M57.6 64.8h.3M64.6 62.1h.3M60.3 58.7h.3M58.5 49.2h.3M55.1 63.2h.3M60.5 62.9h.3M55.6 56.2h.3M57.4 60.0h.3M62.0 53.9h.3M57.5 62.1h.3M60.8 61.8h.3M62.5 57.7h.3M56.9 57.9h.3M63.2 49.8h.3M59.4 66.0h.3M64.3 49.8h.3M62.9 64.2h.3M65.1 63.6h.3M60.2 62.0h.3M61.6 50.3h.3M61.4 62.8h.3M55.4 63.1h.3M57.0 52.2h.3M59.4 52.7h.3M58.0 63.5h.3M62.2 49.9h.3M64.1 55.6h.3M58.8 50.0h.3M58.3 51.4h.3M60.8 61.1h.3M62.0 60.8h.3M57.6 51.3h.3M61.8 57.3h.3M56.2 53.7h.3M56.9 54.4h.3M58.1 54.3h.3M56.1 63.9h.3M63.2 53.1h.3M66.5 54.5h.3M58.5 61.6h.3M63.4 64.0h.3M60.1 57.5h.3M55.0 56.9h.3M61.7 61.6h.3M58.1 56.0h.3M60.0 58.9h.3M58.1 57.1h.3M61.5 58.8h.3M58.3 63.7h.3M59.9 52.2h.3M61.4 58.4h.3M62.6 49.3h.3M64.1 60.1h.3M58.7 58.5h.3M60.6 51.4h.3M55.9 63.9h.3M58.8 58.6h.3M59.3 58.8h.3M62.8 56.6h.3M64.6 55.1h.3M62.2 56.5h.3M54.7 63.2h.3M60.4 51.5h.3M60.9 49.8h.3M56.5 53.3h.3M61.5 64.6h.3M63.1 54.0h.3M63.8 60.6h.3M56.7 56.6h.3M56.6 56.3h.3M56.1 56.4h.3M55.7 61.7h.3M55.7 61.4h.3M65.7 57.3h.3M63.8 54.1h.3M64.5 55.8h.3M56.7 57.0h.3M64.5 61.4h.3M57.4 50.5h.3M56.5 64.1h.3M61.0 58.8h.3M62.5 52.5h.3M57.8 54.0h.3M63.7 65.2h.3M55.4 61.1h.3M57.9 54.0h.3M55.1 64.0h.3M61.2 52.2h.3M63.1 51.8h.3M62.2 57.1h.3M59.9 58.0h.3M62.1 58.1h.3M63.2 56.0h.3M57.2 58.9h.3M58.5 52.2h.3M58.4 54.8h.3M57.4 65.1h.3M58.8 54.0h.3M61.0 56.2h.3M60.9 59.9h.3M62.6 53.1h.3M63.2 64.0h.3M64.5 63.1h.3M64.1 53.3h.3M57.0 56.6h.3M55.4 62.2h.3M58.2 54.8h.3M56.4 54.7h.3M60.5 56.8h.3M62.9 59.2h.3M59.1 50.7h.3M64.3 58.7h.3M59.5 61.4h.3M62.1 58.0h.3M58.5 60.5h.3M58.0 54.8h.3M58.8 57.4h.3M63.2 58.1h.3M61.5 61.5h.3M62.7 61.4h.3M60.1 51.9h.3M55.1 51.1h.3M58.5 53.0h.3M55.7 63.4h.3M62.7 56.7h.3M60.9 61.9h.3M59.1 56.7h.3M53.9 54.6h.3M59.6 53.8h.3M64.5 64.3h.3M57.2 60.8h.3M56.0 57.4h.3M56.8 58.8h.3M60.0 60.8h.3M61.8 61.4h.3M60.3 56.5h.3M59.0 51.6h.3M59.1 64.9h.3M60.2 48.9h.3M58.1 53.2h.3M63.3 49.6h.3M57.1 66.1h.3M64.9 54.6h.3M61.3 51.1h.3M57.2 62.1h.3M60.4 53.6h.3M58.2 50.2h.3M59.7 49.5h.3M56.2 59.3h.3M58.0 54.6h.3M54.8 52.7h.3M60.7 55.6h.3M62.9 54.5h.3M56.1 60.7h.3M57.8 51.0h.3M63.7 52.0h.3M57.9 58.5h.3M54.7 63.8h.3M56.1 61.0h.3M55.0 61.5h.3M61.0 62.9h.3M63.5 58.5h.3M61.0 58.3h.3M56.1 56.3h.3M61.1 63.5h.3M63.4 63.0h.3M59.7 49.6h.3M63.9 65.0h.3M56.1 63.7h.3M60.5 57.7h.3M63.7 52.2h.3M63.6 61.2h.3M58.5 55.0h.3M58.1 51.4h.3M56.5 64.0h.3M64.5 55.9h.3M57.7 64.0h.3M59.7 63.0h.3M59.2 62.6h.3M64.6 63.0h.3M55.6 52.8h.3M61.8 55.7h.3M58.9 61.7h.3M59.3 53.7h.3M61.5 56.5h.3M63.0 50.7h.3M59.3 51.6h.3M55.4 52.6h.3M55.4 64.0h.3M56.2 57.2h.3M62.7 52.3h.3M64.0 64.0h.3M60.0 62.9h.3M57.5 51.0h.3M60.1 56.2h.3M62.4 56.8h.3M59.5 52.3h.3M57.0 56.6h.3M62.7 55.6h.3M56.7 53.4h.3M58.9 48.8h.3M56.9 58.4h.3M63.1 53.7h.3M62.5 52.4h.3M62.1 60.8h.3M60.8 63.1h.3M54.7 58.5h.3M61.1 57.1h.3M64.7 54.2h.3M60.9 55.8h.3M61.0 60.0h.3M61.1 53.2h.3M63.1 54.1h.3M61.4 50.8h.3M55.1 59.7h.3M60.0 58.6h.3M61.5 47.8h.3M61.7 64.4h.3M61.8 62.3h.3M59.9 54.1h.3M56.9 64.0h.3M60.6 64.6h.3M61.8 56.5h.3M58.3 54.9h.3M63.5 54.1h.3M56.6 60.6h.3M57.0 61.4h.3M59.5 51.7h.3M64.6 55.2h.3M63.3 50.4h.3M55.4 63.2h.3M59.9 65.3h.3M54.7 61.4h.3M57.3 56.2h.3M66.5 55.0h.3M61.4 56.0h.3M55.3 57.3h.3M65.2 53.0h.3M55.6 63.2h.3M66.9 53.2h.3M61.9 52.2h.3M62.3 61.2h.3M60.6 60.5h.3M55.4 56.3h.3M58.8 62.9h.3M65.3 57.6h.3M54.8 53.5h.3M59.1 62.3h.3M62.5 49.2h.3M55.2 57.5h.3M58.0 50.1h.3M63.1 63.4h.3M64.7 50.7h.3M60.0 54.0h.3M60.8 63.1h.3M60.3 54.1h.3M63.4 50.5h.3M60.6 54.4h.3M59.6 61.9h.3M61.4 52.6h.3M57.7 50.1h.3M54.9 61.1h.3M60.7 58.7h.3M54.9 57.9h.3M60.4 57.9h.3M57.8 57.2h.3" stroke="#000" stroke-opacity="0.6" stroke-width="0.7" stroke-linecap="square" fill="none"/>
<path d="M65.6 68.3h.3M64.4 74.8h.3M65.1 98.0h.3M65.7 97.3h.3M65.8 100.4h.3M58.0 75.6h.3M53.9 92.5h.3M60.7 88.3h.3M63.9 74.8h.3M62.1 89.8h.3M60.4 69.2h.3M58.6 91.0h.3M68.1 94.2h.3M67.1 72.1h.3M57.7 75.6h.3M53.9 84.7h.3M60.7 86.4h.3M55.9 69.3h.3M63.5 70.8h.3M65.2 81.1h.3M60.3 93.9h.3M61.4 72.9h.3M58.8 76.7h.3M61.5 71.0h.3M58.5 73.1h.3M60.6 98.6h.3M63.2 82.5h.3M60.4 96.4h.3M67.1 78.6h.3M57.6 88.9h.3M54.9 89.9h.3M64.7 94.6h.3M59.6 77.8h.3M67.5 78.1h.3M55.3 94.1h.3M61.6 82.8h.3M53.9 86.0h.3M59.2 87.5h.3M60.8 68.9h.3M63.3 100.5h.3M67.9 84.3h.3M59.3 82.9h.3M56.4 81.1h.3M63.2 80.2h.3M53.9 87.9h.3M57.0 97.5h.3M56.5 76.5h.3M63.1 80.7h.3M61.7 94.2h.3M65.6 86.9h.3M62.4 83.7h.3M60.4 95.6h.3M57.3 82.9h.3M59.5 74.5h.3M58.7 76.8h.3M56.9 80.8h.3M68.7 72.8h.3M64.5 76.5h.3M54.6 97.0h.3M61.3 73.0h.3M57.1 92.0h.3M61.7 80.1h.3M58.8 71.2h.3M61.6 82.7h.3M71.0 77.2h.3M64.9 75.8h.3M58.6 86.0h.3M67.1 92.6h.3M62.5 88.8h.3M54.3 68.9h.3M64.8 83.7h.3M63.3 87.6h.3M60.4 94.9h.3M59.9 99.5h.3M57.2 95.0h.3M57.6 95.4h.3M56.5 95.1h.3M55.7 95.7h.3M60.1 71.6h.3M63.7 86.5h.3M56.2 73.0h.3M64.9 81.9h.3M65.3 97.4h.3M56.5 77.5h.3M53.9 85.3h.3M56.7 71.2h.3M58.5 83.4h.3M60.1 72.8h.3M61.0 88.0h.3M66.7 84.2h.3M66.0 71.9h.3M56.2 93.3h.3M59.3 91.9h.3M54.2 69.9h.3M63.3 84.8h.3M61.8 68.7h.3M53.9 90.5h.3M63.7 77.4h.3M60.7 96.9h.3M60.8 93.4h.3M56.9 84.7h.3M64.8 92.1h.3M67.4 81.8h.3M53.9 83.7h.3M68.9 94.6h.3M62.2 74.3h.3M56.4 91.4h.3M62.6 91.6h.3M65.1 99.0h.3M64.5 73.3h.3M55.9 91.4h.3M67.9 83.6h.3M68.9 77.7h.3M53.9 72.8h.3M55.9 95.5h.3M58.2 94.2h.3M63.6 98.2h.3M64.0 73.9h.3M64.1 91.9h.3M55.0 89.6h.3M54.4 67.8h.3M61.0 92.1h.3M59.2 85.4h.3M61.3 98.6h.3M65.6 77.9h.3M61.8 99.3h.3M58.7 77.8h.3M59.5 76.1h.3M58.5 81.3h.3M68.9 75.1h.3M64.9 73.9h.3M59.2 89.0h.3M57.6 94.2h.3M63.9 84.2h.3M55.6 98.9h.3M61.2 75.7h.3M67.7 74.3h.3M55.5 100.3h.3M59.7 83.1h.3M57.1 75.5h.3M58.6 71.2h.3M58.6 91.3h.3M60.1 95.5h.3M59.2 73.7h.3M62.5 89.1h.3M60.7 89.9h.3M54.9 93.6h.3M59.4 99.9h.3M55.5 85.7h.3M58.7 69.7h.3M65.3 85.4h.3M60.9 90.1h.3M63.2 83.4h.3M63.9 97.5h.3M65.2 90.7h.3M65.8 76.1h.3M60.8 92.4h.3M64.3 77.0h.3M63.2 96.1h.3M59.6 99.2h.3M66.4 77.3h.3M55.2 70.8h.3M65.6 99.1h.3M56.2 92.7h.3M56.2 92.7h.3M61.5 70.2h.3M53.9 90.4h.3M67.7 85.0h.3M55.2 99.6h.3M61.6 81.0h.3M54.9 73.4h.3M63.3 94.4h.3M54.8 85.4h.3M67.5 78.6h.3M55.0 100.0h.3M56.3 72.3h.3M60.0 90.1h.3M66.6 84.7h.3M62.0 77.4h.3M53.9 71.0h.3M59.2 100.4h.3M62.5 95.9h.3M60.5 72.9h.3M53.9 93.2h.3M53.9 86.5h.3M61.5 90.3h.3M61.4 71.3h.3M56.5 96.1h.3M63.2 73.8h.3M55.7 97.1h.3M63.0 71.8h.3M57.6 70.8h.3M53.9 98.1h.3M63.9 76.0h.3M55.3 94.3h.3M58.2 88.8h.3M54.3 71.6h.3M57.2 73.9h.3M61.1 68.9h.3M55.2 71.1h.3M53.9 95.4h.3M56.7 100.5h.3M61.6 100.5h.3M62.3 71.9h.3M56.3 82.5h.3M66.7 86.5h.3M59.6 88.1h.3M68.0 93.1h.3M61.1 76.4h.3M54.5 82.5h.3M62.8 90.4h.3M64.1 67.8h.3M66.9 81.6h.3M61.6 85.4h.3M62.8 95.8h.3M59.5 74.2h.3M56.3 69.5h.3M59.3 78.8h.3M63.7 92.5h.3M62.8 71.5h.3M60.3 83.7h.3M59.1 99.2h.3M56.5 70.5h.3M65.1 90.0h.3M70.9 79.4h.3M58.5 93.7h.3M58.7 81.4h.3M67.5 81.1h.3M60.5 98.7h.3M62.6 81.2h.3M65.8 75.5h.3M57.4 74.5h.3M69.3 84.2h.3M57.6 93.2h.3M59.7 74.3h.3M66.7 86.4h.3M61.5 87.3h.3M60.9 69.6h.3M61.3 96.0h.3M56.8 81.2h.3M65.3 69.2h.3M63.5 81.1h.3M66.7 94.0h.3M60.9 73.3h.3M63.0 99.0h.3M64.1 75.6h.3M61.8 73.2h.3M61.5 79.1h.3M57.7 71.9h.3M58.2 84.1h.3M58.6 78.2h.3M63.9 87.0h.3M63.2 81.1h.3M61.3 73.3h.3M59.4 98.5h.3M63.7 77.7h.3M59.6 89.6h.3M60.3 91.1h.3M62.7 76.2h.3M64.3 73.3h.3M54.9 71.7h.3M66.1 74.2h.3M57.3 88.1h.3M55.6 84.3h.3M56.1 77.6h.3M54.7 76.1h.3M62.4 72.1h.3M55.0 87.2h.3M60.9 85.7h.3M62.4 98.1h.3M56.5 80.5h.3M60.7 75.3h.3M59.5 74.3h.3M66.5 89.8h.3M63.7 76.9h.3M64.6 79.1h.3M64.7 73.8h.3M53.9 86.3h.3M59.5 98.4h.3M62.3 77.9h.3M58.3 95.4h.3M56.1 80.9h.3M61.7 87.5h.3M59.8 68.0h.3M61.5 71.5h.3M60.9 79.7h.3M57.7 82.4h.3M62.2 69.0h.3M60.2 83.2h.3M55.7 91.3h.3M66.6 98.8h.3M53.9 78.3h.3M65.7 85.7h.3M57.6 76.6h.3M58.9 77.0h.3M64.3 77.2h.3M68.6 83.4h.3M54.8 91.7h.3M61.8 91.7h.3M66.0 80.7h.3M53.9 95.7h.3M62.2 93.3h.3M58.0 98.0h.3M64.4 72.9h.3M60.1 89.6h.3M53.9 89.7h.3M60.0 74.2h.3M67.4 83.7h.3M58.1 99.6h.3M56.2 100.5h.3M68.2 91.8h.3M61.1 80.7h.3M65.1 76.0h.3M66.2 74.9h.3M64.9 70.9h.3M63.9 67.8h.3M62.4 73.4h.3M66.0 90.0h.3M67.5 96.5h.3M62.5 70.8h.3M67.9 78.5h.3M54.7 88.9h.3M60.3 76.6h.3M58.9 84.9h.3M66.2 100.4h.3M59.7 100.5h.3M64.7 78.4h.3M63.1 79.5h.3M56.6 91.9h.3M61.9 86.0h.3M65.7 82.9h.3M61.3 86.4h.3M57.3 88.8h.3M62.3 75.7h.3M54.2 90.5h.3M63.5 91.3h.3M60.2 69.6h.3M57.6 96.9h.3M69.9 91.7h.3M64.6 85.7h.3M53.9 77.7h.3M65.0 82.8h.3M60.8 85.7h.3M63.1 73.4h.3M68.6 73.8h.3M70.7 85.6h.3M70.7 84.7h.3M60.5 100.5h.3M63.9 98.3h.3M65.0 74.6h.3M68.6 92.1h.3M54.0 85.5h.3M62.1 73.8h.3M54.2 75.8h.3M58.7 100.5h.3M57.3 78.5h.3M56.1 85.4h.3M54.5 94.7h.3M58.6 78.8h.3M64.2 77.3h.3M60.4 70.0h.3M58.4 95.5h.3M56.4 75.6h.3M55.6 85.3h.3M58.3 83.5h.3M66.4 93.9h.3M59.5 83.3h.3M56.0 72.1h.3M66.2 79.5h.3M59.4 78.6h.3M63.9 75.8h.3M59.6 97.9h.3M65.2 77.4h.3M59.6 100.5h.3M62.0 100.5h.3M61.4 97.7h.3M57.3 75.8h.3M63.1 79.2h.3M60.4 86.1h.3M62.6 70.3h.3M65.0 94.0h.3M59.2 94.3h.3M58.9 67.2h.3M63.1 99.4h.3M61.9 95.6h.3M55.1 96.8h.3M62.5 82.0h.3M62.4 88.5h.3M59.7 85.5h.3M63.3 82.0h.3M66.4 81.0h.3M67.4 83.0h.3M67.3 82.7h.3M64.5 93.0h.3M64.6 95.2h.3M57.4 95.8h.3M65.0 84.8h.3M67.6 81.3h.3M67.1 86.0h.3M64.8 83.2h.3M59.6 86.9h.3M56.4 94.2h.3M63.0 84.2h.3M57.2 77.7h.3M59.7 98.1h.3M65.1 72.1h.3M53.9 86.4h.3M57.8 95.9h.3M54.2 89.5h.3M58.7 96.3h.3M60.1 98.0h.3M57.0 92.7h.3M57.0 78.0h.3M70.1 95.2h.3M56.9 87.3h.3M63.7 94.9h.3M58.1 79.5h.3M53.9 93.0h.3M60.8 79.0h.3M63.7 83.3h.3M62.1 88.3h.3M64.1 89.9h.3M64.2 81.7h.3M54.7 100.3h.3M58.4 87.8h.3M64.8 72.4h.3M54.8 85.8h.3M57.0 81.6h.3M59.9 96.1h.3M62.2 77.6h.3M60.9 73.8h.3M70.2 80.2h.3M64.8 86.0h.3M57.4 88.6h.3M54.5 96.0h.3M58.7 74.4h.3M63.5 91.9h.3M55.6 76.5h.3M63.7 96.4h.3M65.3 82.6h.3M62.0 99.7h.3M57.4 86.0h.3M63.7 100.5h.3M65.4 90.6h.3M55.1 94.8h.3M59.5 78.7h.3M57.0 83.4h.3M57.3 80.2h.3M65.0 79.5h.3M63.2 78.1h.3M56.7 84.6h.3M64.6 77.6h.3M54.9 90.2h.3M66.7 90.1h.3M67.7 93.0h.3M67.8 92.3h.3M63.5 95.7h.3M69.7 87.2h.3M62.6 99.8h.3M59.9 89.1h.3M61.0 75.6h.3M56.5 93.9h.3M60.6 75.3h.3M55.0 96.4h.3M54.5 79.4h.3M59.8 85.4h.3M56.0 74.3h.3M60.0 90.3h.3M54.8 76.3h.3M57.9 85.7h.3M66.4 76.0h.3M60.7 100.0h.3M65.8 74.5h.3M59.6 88.1h.3M60.8 83.7h.3M55.3 90.5h.3M65.2 88.2h.3M64.1 95.1h.3M59.1 93.2h.3M64.4 78.6h.3M60.8 88.4h.3M60.4 94.1h.3M59.2 90.9h.3M55.4 90.0h.3M57.3 84.5h.3M63.2 95.3h.3M53.9 82.3h.3M61.2 79.9h.3M63.4 85.3h.3M57.5 94.6h.3M57.9 89.8h.3M62.8 81.3h.3M54.7 94.3h.3M53.9 86.9h.3M61.8 93.0h.3M59.3 68.3h.3M55.8 85.6h.3M65.4 74.9h.3M62.7 92.0h.3M64.1 79.0h.3M63.7 96.5h.3M56.0 86.8h.3M60.7 93.5h.3M59.8 79.5h.3M67.6 85.5h.3M59.3 87.8h.3M60.6 85.6h.3M58.7 75.1h.3M57.5 89.6h.3M64.4 96.7h.3M61.1 83.7h.3M63.0 87.5h.3M59.2 84.2h.3M62.9 91.7h.3M62.8 80.9h.3M62.1 75.9h.3M64.6 88.9h.3M68.1 86.4h.3M55.8 84.0h.3M55.9 82.8h.3M66.8 74.0h.3M60.0 74.5h.3M63.3 66.2h.3M65.8 96.3h.3M66.0 70.9h.3M66.0 87.3h.3M60.8 86.5h.3M69.1 80.1h.3M53.9 95.4h.3M57.0 80.4h.3M65.1 77.4h.3M56.3 91.0h.3M64.3 98.3h.3M54.0 97.6h.3M64.2 77.5h.3M59.3 78.1h.3M67.2 92.6h.3M65.9 74.6h.3M66.9 80.8h.3M54.4 67.5h.3M66.8 75.3h.3M62.5 93.3h.3M63.3 70.8h.3M55.2 82.0h.3M66.2 81.8h.3M60.8 72.4h.3M60.1 88.0h.3M62.7 80.3h.3M53.9 96.0h.3M63.5 82.5h.3" stroke="#000" stroke-opacity="0.45" stroke-width="0.7" stroke-linecap="square" fill="none"/>
<path d="M60.9 85.0h.3M60.5 86.2h.3M62.6 87.7h.3M63.1 84.0h.3M58.1 79.8h.3M63.2 86.0h.3M55.7 86.2h.3M62.1 91.8h.3M65.6 83.1h.3M55.0 90.4h.3M63.3 90.7h.3M56.5 92.3h.3M61.5 79.8h.3M61.5 91.7h.3M64.0 81.5h.3M63.9 79.7h.3M61.9 76.6h.3M63.0 91.3h.3M58.7 81.8h.3M56.0 81.8h.3M58.3 84.9h.3M60.4 91.0h.3M64.5 84.7h.3M56.7 91.0h.3M65.4 85.9h.3M62.6 80.2h.3M64.9 92.1h.3M58.1 84.9h.3M57.5 85.8h.3M61.6 91.8h.3M61.3 86.5h.3M61.9 82.5h.3M60.2 82.6h.3M63.0 86.7h.3M55.9 84.3h.3M61.9 86.1h.3M57.8 79.3h.3M59.0 83.0h.3M61.6 82.7h.3M56.9 85.4h.3M62.9 83.1h.3M64.8 93.8h.3M57.9 88.5h.3M59.8 79.8h.3M60.4 83.1h.3M55.1 90.1h.3M61.4 83.9h.3M61.1 90.0h.3M61.1 83.3h.3M61.9 75.8h.3M64.0 83.5h.3M62.7 82.5h.3M59.9 88.5h.3M61.9 93.9h.3M61.6 77.0h.3M65.6 84.7h.3M64.6 93.6h.3M59.6 83.4h.3M56.8 87.5h.3M63.0 89.3h.3M60.6 86.1h.3M59.8 83.3h.3M63.5 79.0h.3M61.6 89.6h.3M62.5 80.3h.3M59.6 79.5h.3M59.5 87.2h.3M59.4 85.9h.3M60.9 90.2h.3M62.6 89.3h.3M63.5 84.3h.3M63.8 86.9h.3M64.4 87.4h.3M64.8 87.1h.3M57.1 83.1h.3M61.7 86.7h.3M62.2 83.7h.3M59.8 76.1h.3M63.7 91.8h.3M63.6 74.5h.3M59.0 82.5h.3M60.8 79.1h.3M66.4 90.8h.3M60.5 83.2h.3M55.9 91.5h.3M61.7 87.7h.3M63.6 80.0h.3M59.4 89.8h.3M56.7 89.4h.3M66.0 88.3h.3M56.8 82.1h.3M55.7 84.4h.3M63.6 89.6h.3M59.5 87.1h.3M60.8 77.5h.3M58.2 87.8h.3M66.4 85.5h.3M61.1 78.5h.3M62.7 76.5h.3M61.9 88.8h.3M60.8 81.8h.3M58.7 93.8h.3M63.5 87.3h.3M63.6 83.2h.3M60.9 81.7h.3M58.8 83.9h.3M64.2 81.7h.3M59.5 85.6h.3M64.9 80.2h.3M59.9 86.8h.3M59.4 83.7h.3M58.0 97.7h.3M57.6 90.5h.3M63.0 84.6h.3M63.2 91.4h.3M63.2 76.6h.3M64.1 90.8h.3M61.6 82.4h.3M64.1 75.5h.3M64.6 87.8h.3M65.2 79.2h.3M58.7 85.1h.3M62.4 98.7h.3M57.4 90.8h.3M59.0 86.6h.3M63.1 84.5h.3M60.8 84.3h.3M60.7 87.8h.3M63.0 83.4h.3M59.5 82.8h.3M58.3 87.4h.3M64.1 93.2h.3M57.5 82.4h.3M60.4 87.5h.3M64.6 84.6h.3M57.8 93.2h.3M64.2 86.4h.3M60.1 78.8h.3M59.9 77.2h.3M60.3 85.4h.3M62.2 92.0h.3M58.4 85.5h.3M61.7 93.7h.3M58.7 90.7h.3M63.7 84.9h.3M65.7 80.2h.3M62.6 84.2h.3M61.3 88.7h.3M66.1 79.3h.3M55.9 88.3h.3M60.8 91.4h.3M59.7 88.8h.3M56.2 82.1h.3M57.4 77.0h.3M60.4 98.9h.3M59.5 91.3h.3M60.0 93.0h.3M57.6 93.6h.3M61.4 78.6h.3M57.7 91.4h.3M61.9 78.4h.3M56.8 81.7h.3M57.5 86.1h.3M58.5 88.7h.3M59.4 81.3h.3M58.1 87.0h.3M62.9 81.0h.3M59.2 96.7h.3M61.1 82.3h.3M57.4 94.2h.3M64.4 85.7h.3M64.0 85.6h.3M60.0 80.4h.3M63.5 83.2h.3M60.5 90.5h.3M64.7 75.7h.3M61.5 89.9h.3M62.6 73.5h.3M62.5 81.7h.3M63.8 95.2h.3M60.5 90.4h.3M59.0 90.7h.3M63.2 85.3h.3M61.5 79.0h.3M62.4 85.9h.3M59.4 94.6h.3M60.4 88.1h.3M61.7 77.2h.3M61.5 94.3h.3M63.2 77.5h.3M57.7 89.3h.3M61.2 97.0h.3M62.2 90.8h.3M58.1 80.1h.3M56.9 94.4h.3M61.4 89.4h.3M57.1 89.4h.3M62.6 95.6h.3M62.9 89.2h.3M60.1 95.7h.3M66.8 91.2h.3M56.7 80.7h.3M60.1 92.2h.3M62.7 86.8h.3M60.1 89.4h.3M66.0 88.7h.3M57.0 85.6h.3M63.5 92.5h.3M56.6 89.9h.3M64.6 88.0h.3M59.0 86.0h.3M59.6 87.3h.3M57.9 80.9h.3M60.4 87.6h.3M61.3 79.2h.3M62.8 84.3h.3M64.4 85.1h.3M61.7 90.7h.3M64.2 83.3h.3M62.5 84.7h.3M64.2 82.8h.3M57.9 94.7h.3M60.0 84.5h.3M63.8 78.2h.3M63.1 91.7h.3M60.5 86.2h.3M59.8 82.9h.3M61.5 89.0h.3M62.6 88.8h.3M63.2 83.7h.3M65.1 82.7h.3M57.9 87.9h.3M61.5 83.0h.3M61.3 76.4h.3M58.5 87.4h.3M63.4 91.3h.3M60.6 85.9h.3M57.0 84.3h.3M57.4 89.1h.3M61.8 80.1h.3M65.7 86.1h.3M61.2 94.4h.3M58.8 80.6h.3M61.9 85.5h.3M58.2 80.2h.3M59.3 95.3h.3M57.4 85.1h.3M59.8 96.1h.3M63.0 86.6h.3M59.1 92.5h.3M64.2 92.8h.3M60.1 81.8h.3M58.3 85.4h.3M57.3 91.9h.3M67.5 84.4h.3M56.9 88.4h.3M59.6 85.4h.3M61.3 93.1h.3M62.8 78.4h.3M57.9 82.5h.3M58.2 80.3h.3M61.5 94.2h.3M57.1 95.8h.3M61.6 93.9h.3M59.1 80.8h.3M61.5 84.2h.3M60.4 84.2h.3M60.0 91.3h.3M60.2 83.3h.3M62.8 84.4h.3M60.3 89.0h.3M63.7 90.1h.3M59.4 76.7h.3M64.3 81.4h.3M56.9 79.9h.3M57.3 83.0h.3M57.2 87.3h.3M63.9 87.6h.3M58.3 80.5h.3M58.8 85.7h.3M57.0 88.4h.3M59.1 83.7h.3M59.9 95.3h.3M59.4 89.7h.3M54.5 86.5h.3M62.5 77.7h.3M57.5 82.6h.3M58.6 96.3h.3M60.9 78.1h.3M62.6 89.4h.3M62.7 90.0h.3M58.7 87.1h.3M62.8 89.6h.3M59.3 91.1h.3M61.0 84.6h.3M59.0 80.2h.3M60.3 76.4h.3M60.3 87.9h.3M66.0 85.6h.3M58.8 80.1h.3" stroke="#000" stroke-opacity="0.42" stroke-width="0.7" stroke-linecap="square" fill="none"/>
<path d="M76.9 64.9h.3M81.3 67.1h.3M89.4 58.7h.3M85.2 67.1h.3M70.9 50.9h.3M92.3 62.9h.3M80.9 59.7h.3M90.1 56.5h.3M90.1 51.2h.3M79.2 56.1h.3M73.3 57.2h.3M75.8 62.0h.3M85.1 62.2h.3M86.8 53.3h.3M83.3 64.8h.3M77.7 60.8h.3M82.1 63.0h.3M79.5 54.1h.3M74.3 54.6h.3M87.3 60.0h.3M80.2 67.3h.3M82.1 48.7h.3M79.5 58.2h.3M72.6 57.8h.3M81.8 69.4h.3M84.5 56.7h.3M72.6 69.1h.3M82.4 62.5h.3M73.7 67.2h.3M89.9 66.7h.3M80.3 65.5h.3M79.1 60.2h.3M72.9 66.3h.3M65.4 57.9h.3M76.9 71.2h.3M91.4 59.1h.3M72.0 62.8h.3M77.1 57.5h.3M78.7 68.2h.3M82.4 56.4h.3M89.0 65.2h.3M90.7 65.1h.3M96.4 55.6h.3M80.0 66.6h.3M87.9 60.9h.3M86.8 63.7h.3M72.6 61.7h.3M79.0 59.0h.3M92.8 58.4h.3M87.0 59.8h.3M79.2 56.6h.3M71.1 58.9h.3M79.7 59.7h.3M74.7 57.9h.3M74.5 59.9h.3M83.0 67.7h.3M85.1 61.7h.3M78.3 70.9h.3M79.2 53.6h.3M89.8 67.3h.3M79.2 69.9h.3M70.4 60.3h.3M82.9 65.0h.3M73.1 62.7h.3M90.2 58.3h.3M89.4 59.5h.3M91.7 54.5h.3M80.3 58.5h.3M88.2 50.1h.3M83.0 62.4h.3M95.7 58.6h.3M78.9 63.6h.3M86.8 69.0h.3M76.0 69.4h.3M72.6 61.3h.3M71.9 62.3h.3M86.2 59.6h.3M77.7 57.0h.3M86.9 58.2h.3M81.5 59.7h.3M89.7 57.8h.3M80.7 63.7h.3M85.5 66.9h.3M92.1 62.2h.3M88.0 63.3h.3M77.9 64.2h.3M88.7 59.6h.3M80.0 57.3h.3M75.1 57.0h.3M84.2 65.2h.3M87.2 55.9h.3M81.0 61.5h.3M91.9 56.8h.3M89.1 51.5h.3M80.2 47.1h.3M78.0 69.9h.3M77.6 54.8h.3M87.5 68.0h.3M72.5 56.8h.3M86.9 62.6h.3M86.8 67.0h.3M74.2 64.9h.3M77.4 59.7h.3M92.8 58.4h.3M69.4 63.8h.3M97.1 64.3h.3M78.8 58.4h.3M91.0 56.5h.3M82.0 60.2h.3M82.6 53.5h.3M81.9 55.8h.3M74.3 68.8h.3M86.3 58.8h.3M74.9 53.8h.3M75.7 54.2h.3M90.2 58.5h.3M89.0 53.2h.3M85.5 55.2h.3M84.0 68.2h.3M77.2 65.3h.3M98.7 60.6h.3M78.3 58.0h.3M78.8 60.4h.3M79.4 65.6h.3M92.0 61.2h.3M67.9 60.6h.3M91.8 58.0h.3M85.5 54.7h.3M87.5 51.8h.3M74.7 55.7h.3M85.7 60.6h.3M87.8 57.5h.3M75.6 71.4h.3M81.6 61.2h.3M73.7 54.5h.3M84.1 62.7h.3M74.7 56.2h.3M80.9 65.9h.3M79.6 68.8h.3M87.4 67.8h.3M81.4 61.2h.3M76.9 60.0h.3M85.1 53.6h.3M79.0 60.6h.3M80.2 51.1h.3M84.5 59.2h.3M73.9 61.3h.3M77.5 57.2h.3M90.9 54.7h.3M87.7 61.0h.3M85.2 61.0h.3M88.6 60.3h.3M77.5 61.1h.3M81.7 59.7h.3M85.2 66.9h.3M84.4 66.0h.3M75.5 60.1h.3M92.4 57.5h.3M82.7 51.8h.3M88.5 62.6h.3M76.1 55.9h.3M89.2 56.0h.3M87.4 66.8h.3M83.5 66.7h.3M88.6 57.9h.3M81.2 62.3h.3M92.5 50.1h.3M74.5 55.2h.3M78.0 67.7h.3M90.5 59.0h.3M70.7 58.1h.3M87.1 60.7h.3M80.4 63.4h.3M87.9 62.4h.3M69.9 55.6h.3M86.1 58.1h.3M82.1 61.5h.3M82.5 55.5h.3M78.4 50.0h.3M80.1 48.8h.3M70.7 61.0h.3M82.6 53.6h.3M93.7 65.8h.3M85.6 71.5h.3M79.2 54.0h.3M79.4 64.2h.3M92.0 67.6h.3M67.3 55.3h.3M87.6 46.9h.3M84.7 62.2h.3M89.2 61.0h.3M83.2 56.3h.3M96.1 57.7h.3M82.0 60.9h.3M75.1 49.7h.3M79.7 60.4h.3M83.3 51.7h.3M76.4 57.1h.3M86.2 58.3h.3M88.8 57.5h.3M73.5 59.6h.3M77.5 62.8h.3M78.6 59.2h.3M93.7 63.3h.3M72.6 66.8h.3M87.4 59.6h.3M86.8 56.2h.3M88.7 61.6h.3M79.3 60.2h.3M81.4 63.4h.3M77.5 58.2h.3M81.3 68.6h.3M71.3 62.5h.3M75.5 59.0h.3M82.2 60.3h.3M87.5 64.5h.3M69.1 61.8h.3M70.7 53.8h.3M82.6 65.6h.3M79.4 60.4h.3M86.3 57.0h.3M71.6 66.8h.3M91.2 58.3h.3M86.1 56.8h.3M85.0 56.3h.3M96.5 54.2h.3M83.9 62.7h.3M72.9 65.7h.3M77.0 64.6h.3M83.7 54.1h.3M75.6 59.3h.3M83.8 61.5h.3M84.2 70.6h.3M81.2 46.4h.3M77.4 53.7h.3M81.9 51.9h.3M80.0 56.4h.3M76.6 63.2h.3M84.1 61.7h.3M83.6 48.5h.3M83.2 65.3h.3M88.8 55.4h.3M72.9 64.4h.3M80.8 61.7h.3M81.5 66.3h.3M77.9 53.9h.3M86.3 62.6h.3M78.7 64.8h.3M81.7 66.3h.3M81.2 59.3h.3M73.8 64.2h.3M77.2 67.3h.3M86.7 56.1h.3M89.7 63.0h.3M70.8 59.3h.3M76.9 61.2h.3M89.7 66.8h.3M80.7 47.8h.3M91.7 56.0h.3M88.7 57.8h.3M80.9 58.8h.3M86.5 61.9h.3M74.4 59.7h.3M94.8 69.1h.3M79.7 56.0h.3M82.1 71.5h.3M80.9 63.9h.3M78.6 60.6h.3M76.3 62.6h.3M95.9 64.5h.3M83.4 64.3h.3M82.6 56.0h.3M97.6 60.3h.3M92.4 52.8h.3M88.6 59.3h.3M83.7 58.2h.3M81.1 67.7h.3M80.7 59.8h.3M81.7 60.0h.3M74.9 53.0h.3M80.2 66.8h.3M81.0 58.9h.3M86.1 57.7h.3M88.1 61.4h.3M82.9 61.4h.3M79.2 64.3h.3M66.4 53.2h.3M85.8 50.3h.3M83.0 60.7h.3M68.8 57.1h.3M93.0 64.2h.3M87.4 58.4h.3M86.0 57.9h.3M80.7 68.5h.3M93.9 64.4h.3M78.3 56.5h.3M78.8 60.1h.3M88.7 66.4h.3M88.4 60.1h.3M70.6 65.7h.3M83.4 63.5h.3M82.9 62.6h.3M78.7 59.1h.3M82.8 68.1h.3M81.1 62.4h.3M79.6 55.3h.3M84.0 59.8h.3M67.2 59.3h.3M81.8 57.2h.3M81.1 56.9h.3M91.6 61.0h.3M79.1 58.6h.3M81.1 60.9h.3M80.8 61.3h.3M78.1 70.0h.3M80.5 66.2h.3M88.6 59.6h.3M80.8 56.7h.3M82.3 58.2h.3M81.1 61.7h.3M90.8 59.9h.3M85.5 52.1h.3M87.1 68.0h.3M67.7 61.0h.3M81.9 47.1h.3M100.0 58.1h.3M98.9 60.7h.3M91.9 59.2h.3M86.9 61.5h.3M75.6 55.2h.3M70.1 51.9h.3M84.5 53.3h.3M90.2 52.8h.3M86.2 50.8h.3M78.8 59.1h.3M77.7 56.7h.3M90.1 58.8h.3M93.1 54.2h.3M90.6 62.2h.3M90.2 51.9h.3M74.6 66.2h.3M81.9 54.5h.3M83.2 66.5h.3M86.2 60.6h.3M80.6 67.4h.3M71.7 61.5h.3M84.6 68.7h.3M84.0 62.9h.3M90.5 61.9h.3M90.7 65.8h.3M81.6 55.2h.3M84.4 53.3h.3M72.2 66.5h.3M70.3 58.9h.3M91.9 56.4h.3M76.1 64.9h.3M78.0 60.5h.3M79.4 52.0h.3M92.9 58.3h.3M86.7 58.8h.3M87.5 60.7h.3M80.4 58.9h.3M89.8 64.7h.3M75.2 62.7h.3M81.6 63.2h.3M79.2 60.5h.3M71.3 57.6h.3M85.8 62.4h.3M87.6 63.0h.3M91.4 66.2h.3M90.4 65.4h.3M83.7 63.6h.3M82.3 57.8h.3M77.9 56.2h.3M80.8 59.2h.3M83.0 58.6h.3M73.8 62.8h.3M97.7 56.6h.3M81.6 62.6h.3M80.7 60.2h.3M71.9 55.1h.3M75.0 57.0h.3M74.2 63.4h.3M68.7 54.3h.3M75.3 64.8h.3M84.6 57.2h.3M78.5 57.8h.3M82.3 56.8h.3M85.3 67.9h.3M72.3 61.9h.3M77.3 72.1h.3M82.7 65.0h.3M92.6 52.6h.3M88.3 63.9h.3M86.8 66.4h.3M84.4 55.7h.3M80.2 50.9h.3M79.0 54.4h.3M79.4 63.3h.3M88.1 59.7h.3M78.8 67.3h.3M84.3 61.9h.3M83.6 59.8h.3M75.3 63.0h.3M70.9 66.6h.3M93.4 63.6h.3M91.9 55.3h.3M76.4 62.9h.3M82.7 66.0h.3M73.0 63.5h.3M78.8 59.1h.3M78.3 58.5h.3M84.9 65.8h.3M77.1 61.1h.3M76.2 60.6h.3M77.9 67.8h.3M75.8 56.4h.3M90.1 62.0h.3M79.3 54.1h.3M90.7 53.9h.3M91.4 71.0h.3M90.0 57.1h.3M83.2 53.0h.3M77.9 57.3h.3M78.2 62.4h.3M87.5 64.1h.3M77.6 63.8h.3M83.9 63.1h.3M87.4 51.7h.3M77.0 63.1h.3M75.5 58.3h.3M79.0 55.6h.3M84.8 55.2h.3M79.9 66.8h.3M81.3 71.1h.3M71.8 67.1h.3M77.4 58.5h.3M83.2 55.0h.3M87.1 55.9h.3M86.7 58.7h.3M79.9 62.3h.3M79.3 62.2h.3M70.1 61.5h.3M80.5 65.1h.3M81.2 49.3h.3M95.1 65.1h.3M76.5 62.2h.3M72.0 55.9h.3M79.9 60.4h.3M84.8 63.5h.3" stroke="#000" stroke-opacity="0.27" stroke-width="0.7" stroke-linecap="square" fill="none"/>
<path d="M71.3 64.1h.3M71.6 61.2h.3M70.0 59.4h.3M72.6 53.5h.3M70.6 63.8h.3M71.2 57.0h.3M68.5 70.8h.3M73.4 66.3h.3M69.4 72.8h.3M71.6 67.3h.3M67.8 61.9h.3M74.1 67.3h.3M71.1 53.1h.3M72.1 57.5h.3M68.8 67.5h.3M74.3 53.9h.3M72.8 69.9h.3M68.7 63.4h.3M68.7 59.4h.3M71.0 54.4h.3M70.2 69.2h.3M71.9 66.9h.3M73.3 57.5h.3M72.0 57.1h.3M71.3 63.2h.3M72.0 53.4h.3M67.2 64.0h.3M72.1 62.4h.3M68.0 66.0h.3M72.4 65.5h.3M69.8 67.4h.3M70.5 60.8h.3M71.9 58.4h.3M72.0 54.7h.3M69.3 57.7h.3M72.3 51.0h.3M68.9 60.8h.3M70.8 59.1h.3M72.3 66.8h.3M73.2 61.7h.3M71.7 64.8h.3M69.7 57.3h.3M71.7 50.9h.3M69.2 66.3h.3M72.9 69.8h.3M70.2 59.1h.3M73.3 59.5h.3M70.9 68.7h.3M72.2 59.6h.3M70.5 68.0h.3M74.2 63.7h.3M69.9 58.7h.3M68.8 58.0h.3M67.3 58.4h.3M70.9 70.3h.3M68.5 68.8h.3M70.7 62.6h.3M70.6 66.3h.3M72.2 61.8h.3M71.5 56.3h.3M68.5 60.4h.3M71.2 69.2h.3M72.7 67.5h.3M74.3 64.6h.3M74.7 64.6h.3M67.2 60.7h.3M69.2 58.8h.3M68.8 58.9h.3M71.7 64.4h.3M71.9 65.6h.3M69.9 56.1h.3M69.4 51.9h.3M68.7 52.3h.3M70.7 67.8h.3M73.4 64.3h.3M71.3 56.6h.3M71.4 65.5h.3M72.2 69.4h.3M69.5 60.4h.3M68.9 61.4h.3M68.4 68.3h.3M70.8 65.8h.3M71.8 64.6h.3M70.2 63.3h.3M69.3 68.3h.3M66.6 64.2h.3M72.9 55.3h.3M72.8 56.2h.3M70.1 62.2h.3M70.0 62.1h.3M72.3 55.8h.3M71.9 59.6h.3M69.8 57.2h.3M68.7 60.0h.3M71.2 72.7h.3M67.3 61.4h.3M69.1 69.5h.3M71.1 50.3h.3M71.4 64.0h.3M70.1 61.6h.3M70.0 72.9h.3M66.3 60.2h.3M70.8 63.6h.3M70.7 60.2h.3M73.2 68.6h.3M67.6 58.3h.3M69.8 69.3h.3M71.2 67.8h.3M72.3 69.2h.3M67.4 62.1h.3M71.3 64.8h.3M70.6 63.5h.3M72.2 54.9h.3M71.3 69.1h.3M69.9 65.6h.3M71.4 58.1h.3M72.2 59.0h.3M69.3 63.1h.3M71.2 59.6h.3M70.2 57.8h.3" stroke="#000" stroke-opacity="0.3" stroke-width="0.7" stroke-linecap="square" fill="none"/>
<path d="M72.1 81.9h.3M76.0 88.1h.3M89.1 81.7h.3M64.3 91.3h.3M85.3 90.3h.3" stroke="#000" stroke-opacity="0.2" stroke-width="0.7" stroke-linecap="square" fill="none"/>
<path d="M59.1 101.2v-0.9M62.4 101.2v-0.9M64.7 101.2v-0.9M66.5 101.2v-0.9M68.0 101.2v-0.9M69.3 101.2v-0.9M70.4 101.2v-0.9M71.3 101.2v-0.9M77.9 101.2v-0.9M81.2 101.2v-0.9M83.5 101.2v-0.9M85.3 101.2v-0.9M86.8 101.2v-0.9M88.1 101.2v-0.9M89.2 101.2v-0.9M90.1 101.2v-0.9M96.7 101.2v-0.9M100.0 101.2v-0.9M102.3 101.2v-0.9M104.1 101.2v-0.9M105.6 101.2v-0.9M106.9 101.2v-0.9M108.0 101.2v-0.9M108.9 101.2v-0.9M115.5 101.2v-0.9M118.8 101.2v-0.9M121.1 101.2v-0.9M122.9 101.2v-0.9M124.4 101.2v-0.9M125.7 101.2v-0.9M126.8 101.2v-0.9M127.7 101.2v-0.9M53.4 95.2h0.9M53.4 91.8h0.9M53.4 89.3h0.9M53.4 87.4h0.9M53.4 85.8h0.9M53.4 84.5h0.9M53.4 83.3h0.9M53.4 82.3h0.9M53.4 75.5h0.9M53.4 72.0h0.9M53.4 69.5h0.9M53.4 67.6h0.9M53.4 66.0h0.9M53.4 64.7h0.9M53.4 63.6h0.9M53.4 62.6h0.9M53.4 55.7h0.9M53.4 52.2h0.9M53.4 49.7h0.9M53.4 47.8h0.9M53.4 46.3h0.9M53.4 44.9h0.9M53.4 43.8h0.9M53.4 42.8h0.9M53.4 35.9h0.9M53.4 32.4h0.9M53.4 30.0h0.9M53.4 28.1h0.9M53.4 26.5h0.9M53.4 25.2h0.9M53.4 24.0h0.9M53.4 23.0h0.9M53.4 101.2v1.3M72.2 101.2v1.3M91.0 101.2v1.3M109.8 101.2v1.3M128.6 101.2v1.3M53.4 101.2h-1.3M53.4 81.4h-1.3M53.4 61.7h-1.3M53.4 41.9h-1.3M53.4 22.1h-1.3" stroke="#666" stroke-width="0.5" fill="none"/>
<text x="52.8" y="107.7" class="SN" font-size="3.4" text-anchor="middle" fill="#333">10<tspan dy="-1.6" font-size="2.5">0</tspan></text>
<text x="50.8" y="101.5" class="SN" font-size="3.4" text-anchor="middle" fill="#333" transform="rotate(-90 50.8 101.5)">10<tspan dy="-1.6" font-size="2.5">0</tspan></text>
<text x="71.6" y="107.7" class="SN" font-size="3.4" text-anchor="middle" fill="#333">10<tspan dy="-1.6" font-size="2.5">1</tspan></text>
<text x="50.8" y="81.7" class="SN" font-size="3.4" text-anchor="middle" fill="#333" transform="rotate(-90 50.8 81.7)">10<tspan dy="-1.6" font-size="2.5">1</tspan></text>
<text x="90.4" y="107.7" class="SN" font-size="3.4" text-anchor="middle" fill="#333">10<tspan dy="-1.6" font-size="2.5">2</tspan></text>
<text x="50.8" y="62.0" class="SN" font-size="3.4" text-anchor="middle" fill="#333" transform="rotate(-90 50.8 62.0)">10<tspan dy="-1.6" font-size="2.5">2</tspan></text>
<text x="109.2" y="107.7" class="SN" font-size="3.4" text-anchor="middle" fill="#333">10<tspan dy="-1.6" font-size="2.5">3</tspan></text>
<text x="50.8" y="42.2" class="SN" font-size="3.4" text-anchor="middle" fill="#333" transform="rotate(-90 50.8 42.2)">10<tspan dy="-1.6" font-size="2.5">3</tspan></text>
<text x="128.0" y="107.7" class="SN" font-size="3.4" text-anchor="middle" fill="#333">10<tspan dy="-1.6" font-size="2.5">4</tspan></text>
<text x="50.8" y="22.4" class="SN" font-size="3.4" text-anchor="middle" fill="#333" transform="rotate(-90 50.8 22.4)">10<tspan dy="-1.6" font-size="2.5">4</tspan></text>
<text x="87.6" y="110.8" class="SN" font-size="3.3" text-anchor="middle" fill="#333">IFN-g FITC</text>
<text x="45.4" y="62.4" class="SN" font-size="3.3" text-anchor="middle" fill="#333" transform="rotate(-90 45.4 62.4)">CD4 APC</text>
<text x="88.9" y="121.3" class="S" font-size="6.2" text-anchor="middle" textLength="89.5" lengthAdjust="spacingAndGlyphs">+ 1 µg/mL GT1a p26 (aa261-280)</text>
<rect x="167.0" y="22.1" width="76.0" height="79.1" fill="none" stroke="#555" stroke-width="0.7"/>
<line x1="188.9" y1="22.1" x2="188.9" y2="101.2" stroke="#666" stroke-width="0.7"/>
<line x1="167.0" y1="74.6" x2="243.0" y2="74.6" stroke="#666" stroke-width="0.7"/>
<path d="M179.7 75.1h.3M170.1 59.1h.3M169.8 55.2h.3M176.4 81.8h.3M168.8 66.1h.3M181.6 52.6h.3M180.8 72.8h.3M169.2 79.8h.3M176.3 63.5h.3M170.6 59.2h.3M174.5 62.7h.3M172.9 62.8h.3M172.8 69.0h.3M182.1 50.8h.3M171.8 53.8h.3M172.4 68.4h.3M177.6 65.2h.3M180.1 71.5h.3M180.8 48.7h.3M179.3 74.0h.3M169.1 62.0h.3M182.2 73.0h.3M177.3 79.0h.3M179.4 49.5h.3M171.3 59.1h.3M169.5 60.7h.3M179.2 57.3h.3M176.6 69.7h.3M178.8 66.5h.3M171.1 73.7h.3M168.4 61.7h.3M179.5 51.8h.3M168.0 70.9h.3M182.2 53.8h.3M169.3 67.6h.3M175.4 52.4h.3M172.9 66.1h.3M171.6 62.1h.3M170.6 80.2h.3M179.1 70.3h.3M181.4 61.2h.3M177.7 69.0h.3M177.5 58.9h.3M179.6 46.1h.3M176.8 75.1h.3M175.8 65.7h.3M179.9 67.9h.3M173.5 68.9h.3M170.6 63.1h.3M180.3 66.5h.3M182.6 74.2h.3M175.3 74.6h.3M180.5 69.4h.3M178.5 52.6h.3M182.8 57.3h.3M168.1 69.4h.3M181.3 76.1h.3M174.2 75.2h.3M174.4 49.4h.3M177.5 60.4h.3M177.7 53.0h.3M173.1 79.8h.3M171.1 70.0h.3M181.6 49.9h.3M179.8 73.2h.3M169.0 67.8h.3M175.0 80.5h.3M177.5 47.5h.3M180.5 68.4h.3M171.7 72.6h.3M180.2 73.2h.3M177.6 48.2h.3M169.4 65.0h.3M171.6 54.4h.3M171.0 56.1h.3M168.1 70.1h.3M177.0 62.1h.3M172.0 66.7h.3M176.4 65.6h.3M168.6 57.3h.3M180.4 46.8h.3M178.5 46.1h.3M178.2 72.2h.3M177.8 75.5h.3M174.4 57.3h.3M169.6 50.4h.3M180.3 67.6h.3M170.9 52.4h.3M173.8 57.2h.3M168.9 60.6h.3M177.9 78.9h.3M181.1 50.4h.3M175.2 64.1h.3M179.3 49.0h.3M179.5 77.9h.3M176.1 55.8h.3M177.8 55.7h.3M173.2 66.9h.3M167.9 61.7h.3M167.8 80.9h.3M170.3 67.6h.3M178.9 64.5h.3M180.1 63.8h.3M168.3 53.4h.3M179.0 47.0h.3M178.6 68.9h.3M177.5 67.4h.3M175.1 76.4h.3M175.0 68.5h.3M178.1 59.0h.3M177.0 64.6h.3M170.3 80.9h.3M168.7 70.9h.3M170.6 62.3h.3M167.5 69.1h.3M169.4 53.7h.3M181.5 65.4h.3M176.6 52.4h.3M175.0 67.2h.3M168.5 61.5h.3M178.2 62.6h.3M176.8 59.7h.3M180.4 59.4h.3M175.4 48.0h.3M169.3 75.6h.3M167.5 55.7h.3M179.7 75.2h.3M171.5 61.0h.3M173.7 58.4h.3M170.7 64.4h.3M178.2 53.8h.3M176.1 74.4h.3M181.7 57.1h.3M168.9 71.6h.3M173.6 63.4h.3M179.2 74.5h.3M173.1 51.8h.3M179.7 71.8h.3M176.4 47.6h.3M175.1 77.4h.3M181.4 51.8h.3M171.7 71.0h.3M175.6 62.5h.3M175.9 49.3h.3M168.5 79.0h.3M171.1 50.1h.3M172.4 71.6h.3M167.5 57.5h.3M178.2 64.2h.3M175.5 59.0h.3M172.0 52.6h.3M174.9 53.3h.3M167.8 60.5h.3M173.6 69.8h.3M180.9 60.7h.3M167.5 56.5h.3M177.8 79.4h.3M177.8 49.9h.3M171.4 80.0h.3M171.0 61.4h.3M170.3 72.7h.3M176.7 73.3h.3M171.7 65.4h.3M168.0 73.8h.3M172.4 51.5h.3M181.5 58.3h.3M178.7 68.4h.3M174.0 65.0h.3M172.6 68.3h.3M175.4 70.9h.3M173.6 74.5h.3M168.1 61.6h.3M170.8 51.8h.3M176.4 74.7h.3M172.0 72.0h.3M181.0 79.1h.3M181.8 69.3h.3M170.0 67.2h.3M181.9 53.4h.3M175.9 71.5h.3M170.5 56.3h.3M179.8 75.0h.3M172.7 80.4h.3M171.4 53.1h.3M172.8 74.6h.3M181.6 54.6h.3M174.8 65.7h.3M175.0 46.8h.3M180.7 68.6h.3M180.1 63.9h.3M180.0 70.6h.3M167.5 61.0h.3M177.2 73.8h.3M180.5 51.5h.3M179.5 57.7h.3M181.2 48.4h.3M180.3 54.7h.3M176.7 58.0h.3M169.5 54.5h.3M178.1 55.6h.3M171.6 54.3h.3M172.7 80.8h.3M170.8 67.7h.3M179.2 76.5h.3M180.1 74.1h.3M178.5 50.3h.3M176.0 48.1h.3M178.2 68.7h.3M168.7 75.6h.3M179.4 62.9h.3M173.8 46.8h.3M178.9 49.4h.3M170.1 73.9h.3M181.7 62.8h.3M177.3 75.0h.3M173.0 57.6h.3M181.0 57.8h.3M169.3 62.2h.3M170.7 72.1h.3M169.2 69.0h.3M174.9 61.2h.3M168.1 58.4h.3M169.4 76.3h.3M180.3 50.9h.3M177.3 54.4h.3M178.5 73.9h.3M168.8 68.7h.3M180.8 59.3h.3M177.0 51.8h.3M177.2 72.6h.3M174.2 49.9h.3M178.0 64.1h.3M178.1 61.9h.3M172.0 79.4h.3M183.7 66.0h.3M173.2 59.5h.3M174.8 71.6h.3M181.8 53.9h.3M177.5 54.6h.3M179.3 68.3h.3M181.2 69.6h.3M179.9 77.1h.3M177.2 50.1h.3M179.3 56.5h.3M179.2 64.0h.3M178.6 50.5h.3M169.4 70.7h.3M179.1 46.7h.3M167.5 80.5h.3M179.6 77.3h.3M179.6 55.3h.3M175.0 66.9h.3M171.4 67.5h.3M176.1 71.8h.3M171.2 63.0h.3M171.6 64.5h.3M175.6 71.6h.3M177.4 73.9h.3M175.2 67.6h.3M179.4 59.1h.3M183.1 63.4h.3M181.6 52.4h.3M176.7 51.9h.3M171.0 59.0h.3M167.9 61.7h.3M176.5 67.6h.3M174.1 76.3h.3M169.0 63.1h.3M182.0 67.3h.3M179.4 52.7h.3M179.6 72.2h.3M174.3 69.7h.3M174.6 73.9h.3M175.4 57.2h.3M174.1 51.2h.3M167.9 64.1h.3M175.0 77.4h.3M173.9 77.6h.3M181.4 54.8h.3M167.7 64.7h.3M172.9 59.8h.3M177.5 74.9h.3M173.9 74.5h.3M173.0 69.6h.3M182.0 70.9h.3M172.4 58.7h.3M181.4 67.8h.3M167.7 74.0h.3M180.2 55.2h.3M181.8 62.4h.3M174.1 49.0h.3M170.6 72.3h.3M173.1 59.4h.3M170.2 57.2h.3M174.0 44.1h.3M173.3 52.8h.3M175.8 48.2h.3M178.5 45.9h.3M170.6 74.0h.3M179.2 65.3h.3M180.5 49.2h.3M171.9 52.3h.3M167.5 57.2h.3M180.0 76.7h.3M178.3 55.7h.3M175.0 58.5h.3M181.5 72.8h.3M169.5 57.5h.3M178.7 71.7h.3M176.7 52.7h.3M172.0 50.7h.3M178.0 54.1h.3M169.6 66.9h.3M171.7 79.8h.3M175.5 47.3h.3M176.9 59.0h.3M167.9 68.7h.3M175.6 63.0h.3M171.3 54.0h.3M172.8 68.1h.3M183.8 62.1h.3M171.0 77.5h.3M182.3 60.6h.3M170.9 73.3h.3M176.8 67.9h.3M171.8 68.7h.3M180.7 65.9h.3M179.7 63.5h.3M179.3 60.6h.3M169.8 60.9h.3M172.2 80.4h.3M180.3 74.7h.3M172.5 50.3h.3M169.7 60.5h.3M180.3 66.1h.3M171.2 63.9h.3M177.4 58.1h.3M168.5 72.3h.3M175.7 71.8h.3M177.9 69.7h.3M179.4 55.4h.3M180.6 60.1h.3M174.7 60.2h.3M178.0 77.3h.3M174.0 68.7h.3M181.8 78.0h.3M172.8 53.7h.3M170.6 82.8h.3M170.7 55.9h.3M177.9 56.6h.3M171.5 70.7h.3M175.1 71.3h.3M172.2 67.3h.3M179.8 54.1h.3M171.5 77.6h.3M170.1 66.4h.3M173.0 80.4h.3M171.1 61.1h.3M177.5 54.2h.3M175.7 70.8h.3M177.1 52.9h.3M170.0 78.5h.3M180.1 52.1h.3M176.5 46.1h.3M182.7 62.2h.3M182.5 54.5h.3M175.3 76.3h.3M170.3 50.8h.3M176.8 79.8h.3M174.4 47.3h.3M179.2 49.3h.3M176.5 71.4h.3M171.8 47.0h.3M178.0 79.7h.3M181.5 51.6h.3M172.2 54.8h.3M169.8 68.7h.3M174.3 62.6h.3M175.9 64.2h.3M173.9 61.5h.3M183.6 73.5h.3M171.6 60.7h.3M167.9 77.8h.3M169.2 66.4h.3M174.5 47.1h.3M171.8 51.4h.3M175.7 54.3h.3M176.7 64.3h.3M172.5 73.6h.3M171.0 55.9h.3M180.9 69.6h.3M169.9 68.9h.3M172.4 61.4h.3M167.5 59.2h.3M177.6 64.2h.3M170.0 79.8h.3M181.0 59.6h.3M174.7 66.9h.3M180.7 52.6h.3M171.8 57.5h.3M180.0 51.1h.3M167.8 76.3h.3M173.6 60.6h.3M172.6 66.6h.3M173.0 79.7h.3M170.7 55.9h.3M172.4 55.1h.3M172.7 69.3h.3M180.5 75.9h.3M173.9 61.9h.3M174.6 71.2h.3M175.3 55.8h.3M167.5 61.4h.3M169.8 55.4h.3M178.8 77.6h.3M176.3 74.4h.3M171.5 65.4h.3M176.1 72.2h.3M182.2 58.2h.3M167.5 78.9h.3M179.0 54.3h.3M181.3 71.2h.3M174.7 44.3h.3M169.8 56.6h.3M174.4 72.1h.3M176.8 78.0h.3M178.3 80.7h.3M178.9 64.4h.3M175.0 47.9h.3M167.5 59.4h.3M169.2 63.0h.3M179.6 47.7h.3M174.8 50.8h.3M181.0 64.6h.3M180.2 69.4h.3M176.1 80.5h.3M174.8 52.7h.3M179.9 70.9h.3M171.7 56.0h.3M172.5 56.6h.3M177.3 59.8h.3M176.2 54.0h.3M170.3 63.4h.3M173.4 49.8h.3M168.8 58.4h.3M178.9 77.4h.3M170.1 68.3h.3M177.2 78.5h.3M170.3 54.0h.3M169.6 52.3h.3M167.8 73.3h.3M173.3 63.6h.3M180.6 60.0h.3M182.5 57.2h.3M174.6 73.8h.3M181.0 53.0h.3M176.3 80.5h.3M181.6 56.9h.3M169.8 58.0h.3M172.3 73.0h.3M172.6 76.3h.3M177.3 63.3h.3M179.7 66.0h.3M179.9 49.6h.3M169.6 73.7h.3M170.0 64.4h.3M173.0 65.1h.3M174.0 72.0h.3M167.5 73.9h.3M174.7 53.4h.3M177.5 45.7h.3M179.5 49.2h.3M168.4 57.0h.3M182.1 63.0h.3M170.5 72.5h.3M173.4 75.6h.3M182.3 77.0h.3M170.1 56.8h.3M173.3 59.5h.3M171.6 71.5h.3M169.7 62.6h.3M167.5 54.1h.3M171.5 51.5h.3M176.7 63.4h.3M171.8 52.0h.3M179.6 66.5h.3M175.7 78.9h.3M169.4 76.8h.3M181.3 53.7h.3M179.5 51.3h.3M171.9 53.4h.3M179.8 70.0h.3M167.5 72.1h.3M173.5 56.1h.3M176.6 74.3h.3M169.7 61.3h.3M181.2 67.6h.3M171.8 66.9h.3M181.5 49.9h.3M170.6 66.1h.3M177.5 69.8h.3M170.1 75.7h.3M180.7 51.0h.3M180.5 76.2h.3M182.5 66.6h.3M174.3 58.7h.3M179.3 62.3h.3M168.3 68.8h.3M175.3 75.7h.3M180.0 63.6h.3M176.8 54.6h.3M170.9 78.2h.3M168.7 71.6h.3M176.1 64.7h.3M177.5 69.0h.3M176.1 62.7h.3M171.5 77.3h.3M173.9 59.6h.3M171.5 55.6h.3M180.0 68.4h.3M179.8 54.6h.3M177.3 59.7h.3M176.7 79.7h.3M168.2 63.7h.3M167.5 68.6h.3M174.6 64.5h.3M177.4 62.5h.3M178.8 62.7h.3M178.1 46.6h.3M172.9 60.2h.3M179.7 77.3h.3M167.5 61.5h.3M167.6 59.6h.3M176.6 68.3h.3M183.1 69.0h.3M168.4 65.4h.3M173.0 77.3h.3M169.7 65.9h.3M183.2 64.2h.3M173.7 53.3h.3M172.4 73.5h.3M175.0 59.9h.3M173.2 72.7h.3M174.9 71.9h.3M167.7 60.9h.3M168.4 58.0h.3M171.0 78.6h.3M168.5 51.8h.3M180.0 48.6h.3M171.7 54.7h.3M169.7 49.3h.3M173.4 59.5h.3M177.6 54.5h.3M168.0 61.1h.3M175.4 56.1h.3M176.0 55.6h.3M179.6 54.4h.3M172.6 51.9h.3M174.8 70.6h.3M178.2 59.7h.3M183.4 68.9h.3M179.6 55.5h.3M179.9 78.8h.3M177.6 55.7h.3M169.8 51.1h.3M180.3 54.9h.3M168.7 66.1h.3M175.5 75.7h.3M180.0 68.5h.3M178.0 67.5h.3M168.4 78.0h.3M174.5 62.3h.3M174.3 71.4h.3M175.0 63.9h.3M168.3 56.8h.3M173.4 56.5h.3M178.7 74.1h.3M173.4 81.1h.3M174.9 76.9h.3M168.7 79.6h.3M182.2 60.9h.3M181.2 73.1h.3M176.1 74.0h.3M179.0 57.6h.3M177.2 72.3h.3M174.3 60.7h.3M170.1 68.7h.3M167.9 68.6h.3M178.2 46.9h.3M180.8 72.0h.3M167.5 61.9h.3M179.8 67.6h.3M180.4 59.0h.3M176.1 79.5h.3M174.1 58.5h.3M182.2 60.3h.3M178.3 78.4h.3M174.3 68.4h.3M182.3 72.0h.3M172.6 48.9h.3M171.0 73.5h.3M179.3 72.8h.3M181.5 52.2h.3M176.1 66.0h.3M172.9 53.3h.3M182.3 53.9h.3M178.5 55.5h.3M169.7 76.6h.3M176.5 45.6h.3M175.9 76.1h.3M167.5 66.0h.3M178.5 72.4h.3M169.7 77.8h.3M178.4 48.5h.3M175.6 46.7h.3M180.2 69.8h.3M172.3 61.9h.3M176.9 59.2h.3M178.5 54.5h.3M167.5 66.0h.3M169.8 79.7h.3M177.5 82.8h.3M179.3 78.9h.3M174.2 58.6h.3M174.1 68.7h.3M174.8 74.3h.3M178.0 59.1h.3M175.4 60.3h.3M179.6 72.5h.3M172.3 52.5h.3M180.3 52.7h.3M175.1 68.4h.3M173.0 60.0h.3M172.6 64.2h.3M172.2 70.6h.3M179.2 70.4h.3M173.1 54.6h.3M179.2 80.2h.3M178.4 58.0h.3M170.6 52.9h.3M177.3 58.0h.3M178.1 69.3h.3M174.7 73.0h.3M167.5 73.5h.3M177.9 73.6h.3M173.1 58.5h.3M179.4 69.3h.3M182.2 74.6h.3M172.4 54.6h.3M171.6 54.9h.3M178.9 73.0h.3M178.2 76.8h.3M180.5 74.2h.3M176.5 61.6h.3M173.9 60.4h.3M172.1 66.6h.3M178.0 57.4h.3M180.0 55.6h.3M172.5 65.0h.3M178.4 73.5h.3M178.5 78.6h.3M170.3 74.4h.3M178.5 70.1h.3M175.4 66.7h.3M176.3 46.9h.3M177.8 75.4h.3M178.9 72.5h.3M177.1 76.3h.3M167.6 82.5h.3M168.2 69.1h.3M178.1 62.4h.3M181.3 60.6h.3M168.5 57.8h.3M179.6 76.7h.3M176.1 68.1h.3M178.0 50.7h.3M172.9 50.4h.3M170.9 72.7h.3M171.2 65.7h.3M175.0 69.2h.3M174.5 50.3h.3M167.5 66.6h.3M175.5 56.1h.3M167.5 80.8h.3M172.0 63.1h.3M172.7 63.7h.3M170.3 59.3h.3M180.8 70.4h.3M170.8 59.7h.3M178.5 77.5h.3M168.9 54.4h.3M180.3 62.4h.3M178.4 77.4h.3M174.6 66.4h.3M175.8 63.6h.3M167.5 63.9h.3M181.4 68.4h.3M171.8 70.8h.3M179.2 68.5h.3M167.7 76.7h.3M174.2 58.1h.3M174.0 77.6h.3M177.3 48.2h.3M171.8 74.4h.3M171.7 63.3h.3M169.0 59.5h.3M182.5 61.4h.3M172.0 74.1h.3M180.1 61.4h.3M176.7 76.4h.3M173.8 78.3h.3M171.7 64.6h.3M169.7 73.8h.3M173.3 52.7h.3M178.0 76.1h.3M168.1 53.7h.3M175.3 47.8h.3M175.1 65.4h.3M181.9 64.2h.3M173.4 62.0h.3M181.1 66.2h.3M174.5 51.0h.3M175.7 71.8h.3M179.5 65.7h.3M175.0 53.9h.3M179.8 55.8h.3M171.8 55.4h.3M179.9 80.5h.3M172.7 73.6h.3M182.0 53.7h.3M173.8 68.5h.3M183.7 66.2h.3M169.8 80.9h.3M175.5 57.0h.3M171.1 80.8h.3M177.6 75.4h.3M176.1 51.9h.3M172.0 66.3h.3M168.9 50.2h.3M181.3 50.0h.3M178.1 47.9h.3M177.2 75.7h.3M179.0 52.0h.3M167.5 67.9h.3M169.8 80.4h.3M179.9 53.2h.3M172.0 49.6h.3M179.9 72.0h.3M181.7 59.9h.3M181.3 49.2h.3M172.0 72.0h.3M179.2 72.6h.3M178.2 58.7h.3M173.0 51.7h.3M181.4 67.8h.3M175.0 58.8h.3M170.0 80.8h.3M176.0 69.9h.3M169.2 63.4h.3M181.8 56.0h.3M168.7 55.1h.3M172.0 72.4h.3M171.7 58.1h.3M168.6 54.3h.3M172.2 74.7h.3M172.6 53.9h.3M167.5 63.5h.3M170.2 71.5h.3M173.7 59.1h.3M173.0 77.4h.3M178.9 69.6h.3M180.2 70.6h.3M169.7 64.3h.3M169.0 61.7h.3M176.1 75.8h.3M181.7 78.3h.3M175.7 66.2h.3M171.1 71.6h.3M177.3 56.9h.3M174.3 80.0h.3M169.2 69.3h.3M177.0 61.8h.3M180.2 51.4h.3M179.2 73.7h.3M172.6 57.8h.3M171.1 67.9h.3M172.7 78.0h.3M176.8 65.1h.3M168.3 78.0h.3M170.2 69.8h.3M176.1 69.2h.3M176.2 62.4h.3M173.3 72.6h.3M172.5 70.6h.3M177.7 68.6h.3M178.9 69.8h.3M170.5 63.2h.3M179.3 63.6h.3M170.9 47.2h.3M179.1 59.8h.3M180.8 76.4h.3M169.6 61.1h.3M173.5 67.7h.3M174.2 47.4h.3M175.6 62.9h.3M177.1 61.7h.3M167.5 78.5h.3M172.3 61.0h.3M171.7 72.3h.3M178.2 67.6h.3M174.0 54.7h.3M179.1 60.3h.3M175.3 69.6h.3M177.3 56.2h.3M180.2 68.3h.3M170.1 78.4h.3M181.2 58.2h.3M174.2 49.5h.3M180.0 77.3h.3M175.2 78.7h.3M179.9 58.6h.3M175.3 62.9h.3M169.2 74.6h.3M175.4 68.3h.3M168.9 59.1h.3M178.8 56.0h.3M180.4 60.0h.3M167.5 54.7h.3M178.3 65.7h.3M174.4 48.2h.3M177.6 67.1h.3M179.1 65.8h.3M171.1 57.2h.3M180.7 82.2h.3M175.4 67.4h.3M171.2 75.8h.3M180.0 58.7h.3M180.6 53.6h.3M178.6 46.7h.3M178.6 66.8h.3M167.6 61.0h.3M168.0 59.4h.3M178.1 60.3h.3M179.7 53.5h.3M179.4 79.4h.3M176.7 75.8h.3M181.6 61.6h.3M169.3 73.8h.3M172.3 77.2h.3M169.1 61.6h.3M179.0 44.2h.3M170.3 58.3h.3M178.5 54.0h.3M178.0 74.0h.3M178.0 71.8h.3M175.3 62.6h.3M167.6 65.4h.3M181.6 78.5h.3M182.6 52.1h.3M176.2 63.1h.3M179.8 60.9h.3M178.4 54.1h.3M173.4 51.2h.3M179.6 46.3h.3M169.9 60.9h.3M172.4 74.8h.3M173.4 61.9h.3M168.9 65.1h.3M179.1 76.8h.3M179.6 55.9h.3M173.5 79.9h.3M167.5 80.4h.3M171.1 79.7h.3M181.3 59.9h.3M172.6 68.9h.3M175.1 68.0h.3M179.3 63.3h.3M171.4 72.1h.3M171.9 66.1h.3M178.9 53.3h.3M171.1 66.0h.3M170.8 61.3h.3M181.0 56.8h.3M179.8 78.9h.3M179.3 78.8h.3M177.0 82.4h.3M168.5 70.6h.3M170.2 59.2h.3M172.9 59.0h.3M180.2 61.1h.3M172.0 57.7h.3M168.0 67.4h.3M182.5 54.9h.3M173.5 71.6h.3M167.9 57.3h.3M180.6 57.3h.3M178.6 62.9h.3M168.6 71.0h.3M178.7 51.1h.3M167.5 58.5h.3M178.7 48.2h.3M176.7 54.3h.3M180.4 52.3h.3M171.9 50.0h.3M180.9 75.1h.3M175.9 45.9h.3M172.6 56.1h.3M177.8 66.8h.3M173.2 56.7h.3M174.7 73.8h.3M172.0 56.4h.3M175.6 82.4h.3M173.3 67.2h.3M173.0 49.9h.3M180.1 71.7h.3M170.9 78.2h.3M180.4 55.7h.3M169.8 57.9h.3M167.5 76.4h.3M182.8 59.4h.3M178.4 62.1h.3M179.1 56.2h.3M175.1 70.9h.3M167.5 65.7h.3M178.7 60.3h.3M181.9 72.1h.3M176.1 77.6h.3M167.7 61.0h.3M172.5 51.5h.3M167.5 70.3h.3M173.9 61.7h.3M169.5 78.8h.3M178.9 80.8h.3M178.7 50.0h.3M176.1 60.0h.3M177.2 60.6h.3M169.8 53.7h.3M175.8 74.6h.3M180.1 59.0h.3M168.2 57.4h.3M178.1 46.4h.3M172.7 49.6h.3M170.9 69.1h.3M171.0 63.8h.3M175.0 61.1h.3M178.5 77.6h.3M172.4 58.4h.3M173.2 68.2h.3M177.2 77.7h.3M174.0 45.5h.3M175.1 60.4h.3M175.7 70.3h.3M170.8 58.0h.3M175.5 72.0h.3M176.4 56.3h.3M175.7 57.4h.3M168.2 67.4h.3M168.8 57.6h.3M172.3 80.5h.3M179.6 56.5h.3M180.8 57.7h.3M175.3 50.3h.3M174.2 57.6h.3M178.2 60.4h.3M171.9 53.3h.3M182.4 67.9h.3M176.1 76.8h.3M173.6 49.9h.3M180.3 78.1h.3M171.6 56.2h.3M177.1 47.8h.3M172.0 62.4h.3M181.5 73.5h.3M178.1 60.9h.3M177.8 55.0h.3M169.8 73.9h.3M175.5 75.1h.3M178.6 51.0h.3M178.2 49.1h.3M178.3 72.5h.3M177.4 66.2h.3M178.7 47.3h.3M177.1 59.2h.3M178.0 47.2h.3M181.7 74.0h.3M173.3 49.2h.3M167.5 59.5h.3M176.1 66.8h.3M172.5 78.5h.3M175.0 79.2h.3M167.5 72.5h.3M176.3 49.3h.3M177.0 66.5h.3M175.1 80.1h.3M171.2 71.3h.3M176.4 56.7h.3M181.8 72.6h.3M179.9 75.3h.3M179.5 60.3h.3M174.5 75.2h.3M181.3 49.1h.3M172.4 66.4h.3M181.9 57.4h.3M170.0 55.7h.3M169.3 59.0h.3M170.0 57.9h.3M176.8 70.3h.3M183.0 49.7h.3M169.4 65.4h.3M175.4 78.0h.3M168.5 76.1h.3M174.5 52.3h.3M179.6 59.1h.3M178.1 55.1h.3M180.4 65.5h.3M176.4 68.1h.3M167.5 68.8h.3M178.1 78.0h.3M179.3 79.7h.3M175.5 55.7h.3M180.9 61.6h.3M177.8 68.1h.3M175.9 63.5h.3M169.6 55.0h.3M167.5 75.8h.3M176.2 73.2h.3M174.9 69.8h.3M177.6 77.4h.3M177.5 68.5h.3M179.8 72.1h.3M176.6 77.2h.3M172.3 74.4h.3M173.9 79.5h.3M173.0 49.1h.3M171.9 70.8h.3M182.8 74.6h.3M170.4 60.9h.3M171.5 52.7h.3M177.0 66.6h.3M170.5 70.4h.3M171.6 65.1h.3M178.8 77.5h.3M179.8 63.7h.3M179.6 52.1h.3M176.4 53.8h.3M181.3 56.2h.3M173.2 69.2h.3M170.3 75.2h.3M175.8 64.3h.3M179.1 71.6h.3M167.5 57.4h.3M175.7 69.0h.3M170.0 56.8h.3M176.5 53.6h.3M182.5 54.6h.3M179.2 75.0h.3M177.8 62.2h.3M179.0 76.6h.3M179.3 64.0h.3M176.5 47.0h.3M176.3 54.5h.3M174.1 75.5h.3M172.3 69.4h.3M176.7 59.5h.3M168.2 53.1h.3M174.7 67.5h.3M173.1 62.4h.3M173.4 63.1h.3M173.0 46.8h.3M172.3 53.0h.3M169.4 66.0h.3M181.2 73.7h.3M169.7 59.7h.3M172.0 72.0h.3M170.5 57.3h.3M170.7 68.9h.3M176.1 48.8h.3M170.6 72.8h.3M169.3 76.1h.3M177.8 57.9h.3M175.4 63.0h.3M177.4 56.4h.3M176.4 62.0h.3M180.9 63.8h.3M167.5 64.6h.3M174.7 72.5h.3M169.7 81.8h.3M180.7 57.3h.3M176.0 74.3h.3M178.7 64.2h.3M181.7 51.2h.3M182.0 55.8h.3M183.7 74.8h.3M179.6 66.8h.3M180.0 65.9h.3M180.2 69.2h.3M178.3 79.3h.3M174.2 48.6h.3M174.0 78.8h.3M173.2 56.1h.3M179.2 70.6h.3M179.2 58.1h.3M172.1 60.4h.3M173.1 69.5h.3M174.0 63.2h.3M168.9 80.7h.3M177.3 52.6h.3M170.3 70.9h.3M170.7 57.8h.3M176.1 69.2h.3M177.3 79.4h.3M173.0 48.1h.3M176.1 73.1h.3M170.4 74.6h.3M169.3 63.1h.3M174.7 53.0h.3M174.6 59.7h.3M178.9 70.3h.3M168.1 76.7h.3M168.8 75.1h.3M170.6 82.5h.3M176.0 49.7h.3M176.6 79.0h.3M172.2 68.4h.3M179.8 52.4h.3M178.1 75.7h.3M178.9 72.8h.3M172.6 70.4h.3M179.0 74.1h.3M179.4 60.1h.3M180.3 56.0h.3M174.0 66.0h.3M178.4 77.7h.3M176.1 64.6h.3M180.1 82.2h.3M171.3 78.2h.3M180.7 74.9h.3M170.0 72.8h.3M168.8 62.1h.3M179.4 77.6h.3M170.8 63.2h.3M168.5 79.0h.3M171.2 55.2h.3M182.0 51.6h.3M168.4 54.6h.3M174.5 48.9h.3M182.6 57.8h.3M167.5 61.3h.3M181.8 53.5h.3M169.5 74.1h.3M178.3 58.0h.3M168.6 74.1h.3M168.0 78.5h.3M172.9 80.2h.3M171.7 73.9h.3M173.7 50.2h.3M173.8 66.2h.3M168.7 58.6h.3M175.6 72.2h.3M180.6 68.4h.3M180.1 60.5h.3M176.5 49.3h.3M175.0 68.8h.3M168.7 75.9h.3M174.7 80.4h.3M175.9 78.1h.3M174.0 52.7h.3M173.0 70.3h.3M179.2 62.7h.3M176.8 72.0h.3M169.9 71.5h.3M178.0 81.3h.3M174.5 75.1h.3M171.2 71.8h.3M176.4 58.2h.3M180.3 62.3h.3M176.3 53.0h.3M172.5 79.9h.3M169.9 75.4h.3M176.0 59.9h.3M180.4 63.9h.3M168.8 72.7h.3M181.6 70.5h.3M173.7 67.3h.3M180.4 56.5h.3M179.7 58.8h.3M179.7 76.1h.3M176.9 73.3h.3M174.6 79.9h.3M172.9 55.8h.3M178.6 52.3h.3M177.9 72.1h.3M176.0 78.9h.3M169.6 62.7h.3M167.5 58.3h.3M169.0 52.9h.3M174.3 62.7h.3M175.0 70.2h.3M178.8 55.3h.3M172.8 68.3h.3M181.3 78.5h.3M172.4 51.3h.3M180.7 52.5h.3M176.5 64.5h.3M170.0 63.0h.3M171.4 73.1h.3M170.7 54.8h.3M170.0 76.3h.3M181.3 54.3h.3M170.5 57.5h.3M174.5 80.2h.3M170.2 55.9h.3M178.3 55.3h.3M180.0 72.7h.3M177.5 64.3h.3M176.0 67.5h.3M170.4 54.5h.3M173.1 61.2h.3M176.3 64.9h.3M175.7 67.1h.3M176.9 68.7h.3M175.1 71.6h.3M175.9 61.3h.3M169.2 65.6h.3M170.5 55.9h.3M171.6 64.2h.3M169.2 75.6h.3M177.5 67.1h.3M178.5 54.3h.3M169.1 78.7h.3M174.8 58.6h.3M180.2 73.6h.3M171.6 76.2h.3M178.9 75.6h.3M175.6 79.8h.3M174.6 49.7h.3M178.5 77.3h.3M168.8 60.7h.3M171.4 54.6h.3M172.8 79.2h.3M179.4 67.4h.3M172.0 79.5h.3M179.6 46.8h.3M168.8 50.9h.3M172.6 61.4h.3M182.3 57.4h.3M176.6 75.4h.3M176.6 53.6h.3M174.2 66.6h.3M174.0 66.7h.3M180.3 52.5h.3M170.0 60.9h.3M177.9 54.8h.3M170.9 51.1h.3M180.0 77.7h.3M178.4 78.8h.3M173.4 61.8h.3M173.8 58.7h.3M175.5 71.6h.3M173.5 56.2h.3M181.8 62.8h.3M176.2 56.6h.3M177.4 56.7h.3M179.8 52.3h.3M169.6 68.4h.3M167.6 60.0h.3M176.2 60.9h.3M179.9 73.3h.3M172.3 69.8h.3M170.7 68.3h.3M172.5 51.5h.3M169.1 66.9h.3M172.0 75.3h.3M181.7 69.4h.3M175.9 74.9h.3M172.2 58.0h.3M173.0 52.9h.3M182.1 68.0h.3M180.3 50.8h.3M172.2 61.8h.3M174.7 64.0h.3M172.2 79.2h.3M174.5 52.3h.3M174.5 76.3h.3M178.5 80.2h.3M173.6 61.6h.3M176.7 71.4h.3M178.2 80.4h.3M171.1 61.9h.3M174.7 64.9h.3M170.2 53.0h.3M178.6 74.6h.3M168.1 64.5h.3M176.4 63.7h.3M182.1 55.1h.3M167.9 54.6h.3M168.6 57.3h.3M178.2 51.4h.3M173.1 52.6h.3M170.8 62.6h.3M173.3 58.4h.3M178.0 53.6h.3M177.0 66.2h.3M174.4 65.9h.3M175.1 48.4h.3M171.6 69.2h.3M174.3 67.4h.3M169.6 68.0h.3M175.5 59.4h.3M170.3 63.2h.3M180.2 49.8h.3M172.7 50.4h.3M169.9 64.7h.3M182.5 61.8h.3M172.8 58.7h.3M174.6 68.8h.3M171.6 76.5h.3M177.6 49.6h.3M167.7 64.0h.3M174.0 72.8h.3M179.8 67.4h.3M176.8 65.9h.3M178.4 77.3h.3M173.7 51.9h.3M173.4 67.0h.3M176.7 53.9h.3M174.8 73.7h.3M169.3 72.1h.3M174.7 52.0h.3M178.1 50.1h.3M169.1 71.7h.3M167.5 64.2h.3M167.8 56.7h.3M179.1 66.5h.3M178.7 79.4h.3M180.4 70.0h.3M181.6 48.1h.3M174.5 59.7h.3M177.3 64.3h.3M173.8 49.1h.3M167.5 74.8h.3M172.1 76.1h.3M174.3 67.4h.3M172.2 75.0h.3M172.6 77.7h.3M174.4 70.3h.3M174.5 71.3h.3M176.8 63.2h.3M176.1 58.5h.3M168.8 76.4h.3M180.3 57.5h.3M176.2 45.4h.3M168.2 62.7h.3M177.8 55.4h.3M178.4 51.1h.3M176.6 51.9h.3M179.8 52.9h.3M170.6 65.1h.3M173.2 70.7h.3M177.5 53.3h.3M175.0 75.8h.3M178.5 67.1h.3M171.4 55.4h.3M171.1 55.6h.3M170.9 73.7h.3M176.0 66.2h.3M175.6 67.8h.3M173.0 74.6h.3M177.5 49.1h.3M183.5 72.4h.3M169.0 51.9h.3M176.9 63.9h.3M180.8 51.5h.3M171.5 52.7h.3M175.8 54.6h.3M167.5 74.3h.3M172.5 60.1h.3M173.8 54.1h.3M179.4 81.0h.3M175.3 80.7h.3M178.5 72.9h.3M172.8 68.1h.3M172.0 76.1h.3M169.8 71.0h.3M180.8 73.2h.3M172.9 74.9h.3M171.9 55.0h.3M181.9 77.2h.3M175.7 61.2h.3M181.5 64.8h.3M170.8 66.4h.3M180.4 73.4h.3M168.6 57.5h.3M180.3 63.4h.3M170.2 68.3h.3M177.9 50.8h.3M178.3 53.8h.3M175.2 66.7h.3M179.7 75.2h.3M178.0 64.0h.3M178.2 58.5h.3M174.8 69.8h.3M182.2 62.1h.3M177.8 64.0h.3M173.8 67.9h.3M181.5 66.2h.3M179.4 60.2h.3M180.6 79.1h.3M176.7 52.2h.3M181.2 65.8h.3M177.0 65.2h.3M181.9 69.6h.3M174.8 51.4h.3M178.4 65.7h.3M168.4 77.8h.3M170.9 60.4h.3M178.4 58.1h.3M180.0 60.2h.3M175.1 72.8h.3M177.9 68.7h.3M175.4 51.9h.3M173.5 60.8h.3M170.1 57.1h.3M176.7 58.0h.3M180.1 58.8h.3M173.7 52.0h.3M179.4 56.6h.3M173.4 63.8h.3M172.2 65.8h.3M169.8 66.3h.3M172.3 66.7h.3M179.7 58.7h.3M174.9 79.6h.3M175.6 62.0h.3M176.4 52.6h.3M174.4 72.0h.3M177.1 48.3h.3M178.8 80.8h.3M169.6 65.1h.3M173.3 77.3h.3M167.5 67.6h.3M177.4 63.1h.3M179.6 62.6h.3M172.8 61.2h.3M170.0 78.5h.3M182.4 59.3h.3M175.9 52.2h.3M179.5 62.1h.3M172.0 72.9h.3M177.8 78.1h.3M179.3 77.4h.3M178.2 49.3h.3M172.8 65.4h.3M181.1 49.8h.3M179.7 78.7h.3M172.2 55.3h.3M169.1 73.8h.3M178.5 68.4h.3M171.7 74.9h.3M172.9 52.4h.3M176.2 63.8h.3M169.6 80.5h.3M171.7 52.3h.3M174.1 65.5h.3M171.4 65.6h.3M171.5 73.9h.3M178.3 54.8h.3M174.5 53.0h.3M180.4 52.4h.3M175.6 75.0h.3M168.3 58.6h.3M179.3 68.9h.3M178.3 71.9h.3M176.0 51.9h.3M171.4 76.0h.3M172.4 55.5h.3M171.9 79.4h.3M180.7 49.2h.3M171.0 73.3h.3M174.1 47.5h.3M176.7 58.5h.3M176.0 78.9h.3M176.5 59.9h.3M178.8 63.3h.3M177.4 64.8h.3M177.0 66.6h.3M181.0 51.7h.3M177.9 73.8h.3M180.7 74.0h.3M177.0 76.2h.3M168.7 72.7h.3M175.0 78.8h.3M170.3 62.2h.3M174.6 70.7h.3M170.7 69.5h.3M169.8 53.8h.3M181.2 48.8h.3M174.9 57.0h.3M182.7 75.8h.3M172.9 67.1h.3M169.7 53.4h.3M174.0 54.1h.3M182.7 68.4h.3M180.2 57.9h.3M175.4 68.8h.3M181.1 53.9h.3M178.2 79.2h.3M168.9 57.0h.3M181.6 51.9h.3M176.0 48.3h.3M178.3 75.7h.3M171.8 55.5h.3M174.9 49.4h.3M171.3 69.5h.3M171.9 72.2h.3M182.6 65.1h.3M168.5 53.8h.3M180.8 53.8h.3M181.0 62.2h.3M177.0 58.3h.3M172.8 58.9h.3M170.6 73.1h.3M173.5 77.4h.3M179.9 59.5h.3M172.1 79.3h.3M180.1 65.2h.3M171.5 78.8h.3M178.5 66.9h.3M167.5 68.7h.3M177.7 63.3h.3M175.3 55.3h.3M170.6 58.4h.3M174.3 78.4h.3M179.7 79.0h.3M168.1 83.0h.3M169.2 74.2h.3M180.5 56.3h.3M179.4 61.5h.3M175.9 72.0h.3M177.8 75.7h.3M172.7 58.9h.3M171.6 80.0h.3M169.0 56.5h.3M182.6 56.7h.3M174.3 52.8h.3M179.3 60.3h.3M178.1 79.0h.3M180.2 67.3h.3M170.7 63.0h.3M179.6 69.3h.3M173.8 60.4h.3M174.8 69.4h.3M177.9 73.7h.3M174.5 56.9h.3M173.6 52.0h.3M179.2 78.2h.3M168.5 78.4h.3M176.2 77.0h.3M181.9 56.9h.3M174.4 75.0h.3M170.0 59.9h.3M171.9 68.9h.3M172.3 48.7h.3M177.9 75.1h.3M180.6 65.0h.3M173.3 61.4h.3M174.2 79.0h.3M170.8 57.9h.3M177.1 47.7h.3M171.7 69.7h.3M180.4 66.4h.3M179.0 73.7h.3M177.1 71.5h.3M177.1 47.9h.3M175.3 78.7h.3M178.5 81.0h.3M179.0 77.6h.3M174.8 80.2h.3M172.6 48.3h.3M171.3 71.1h.3M177.0 74.9h.3M181.8 70.7h.3M171.7 78.8h.3M173.1 80.1h.3M170.5 52.5h.3M171.3 51.7h.3M171.6 54.0h.3M178.3 78.8h.3M174.5 48.8h.3M174.8 71.9h.3M180.7 61.1h.3M173.9 73.9h.3M179.1 69.5h.3M181.7 55.8h.3M178.7 48.2h.3M173.9 71.1h.3M177.8 63.8h.3M169.3 76.7h.3M176.2 73.3h.3M170.4 76.5h.3M179.1 74.4h.3M178.1 76.7h.3M171.5 71.8h.3M180.5 54.8h.3M175.3 58.5h.3M172.2 74.8h.3M175.8 78.0h.3M182.9 69.3h.3M171.1 81.0h.3M180.8 68.6h.3M167.5 69.6h.3M170.9 57.3h.3M174.6 65.5h.3M181.9 69.8h.3M169.9 64.8h.3M176.7 75.8h.3M172.0 55.6h.3M176.4 59.3h.3M172.3 65.5h.3M168.9 72.7h.3M170.7 56.6h.3M168.3 71.3h.3M182.0 47.0h.3M171.6 61.2h.3M170.9 64.5h.3M167.8 61.5h.3M177.0 48.4h.3M168.0 62.8h.3M175.9 54.3h.3M177.6 50.3h.3M178.0 62.4h.3M181.5 67.7h.3M176.5 79.8h.3M170.1 58.0h.3M180.7 51.9h.3M176.1 53.5h.3M181.2 59.9h.3M172.6 78.6h.3M182.4 50.9h.3M180.2 51.5h.3M178.9 61.1h.3M183.7 69.8h.3M181.3 73.0h.3M177.2 62.7h.3M178.0 75.9h.3M172.3 66.4h.3M179.2 59.5h.3M180.5 53.6h.3M175.5 77.3h.3M178.4 67.1h.3M174.3 68.0h.3M177.6 60.7h.3M170.2 57.0h.3M168.3 70.2h.3M168.8 60.4h.3M176.0 77.4h.3M172.9 81.0h.3M177.6 57.8h.3M167.7 65.3h.3M179.5 51.6h.3M181.6 69.3h.3M176.8 49.0h.3M178.6 58.7h.3M176.4 48.2h.3M179.7 58.0h.3M178.9 48.0h.3M175.5 68.4h.3M178.5 50.0h.3M169.1 61.5h.3M167.5 77.6h.3M172.3 55.2h.3M173.4 62.0h.3M173.3 60.5h.3M172.5 70.3h.3M171.5 72.7h.3M177.9 63.2h.3M170.6 56.6h.3M179.7 69.8h.3M180.7 54.9h.3M179.1 75.3h.3M174.4 66.3h.3M170.4 73.6h.3M177.1 78.3h.3M176.5 63.4h.3M178.7 63.1h.3M170.1 74.5h.3M170.8 77.8h.3M174.8 48.5h.3M176.4 78.3h.3M177.9 66.0h.3M174.6 61.7h.3M173.4 74.3h.3M180.2 76.2h.3M178.6 60.1h.3M177.1 67.7h.3M172.0 56.4h.3M183.8 54.1h.3M175.8 50.9h.3M179.1 45.4h.3M177.8 65.9h.3M175.8 79.2h.3M178.1 80.8h.3M171.3 50.1h.3M174.0 56.1h.3M175.7 68.6h.3M172.9 73.6h.3M173.7 50.3h.3M179.7 76.0h.3M176.9 45.4h.3M176.8 63.3h.3M175.2 58.3h.3M167.5 73.9h.3M178.0 59.6h.3M176.4 53.1h.3M172.6 52.8h.3M174.0 69.5h.3M178.7 55.9h.3M168.1 66.8h.3M173.7 79.8h.3M171.9 65.7h.3M169.8 55.6h.3M177.1 70.7h.3M179.1 74.5h.3M173.2 69.5h.3M179.2 58.0h.3M178.7 75.4h.3M180.2 60.1h.3M177.8 49.4h.3M176.4 57.3h.3M175.4 47.2h.3M180.7 68.9h.3M180.9 54.1h.3M174.4 59.6h.3M168.0 79.4h.3M170.0 54.2h.3M174.7 51.9h.3M171.5 64.3h.3M170.2 60.8h.3M178.0 46.7h.3M178.5 61.0h.3M179.8 78.2h.3M180.5 73.0h.3M177.8 53.2h.3M171.1 55.0h.3M173.0 81.3h.3M173.6 53.6h.3M177.5 67.1h.3M171.5 52.3h.3M181.0 48.9h.3M172.3 60.1h.3M178.8 75.8h.3M175.7 55.5h.3M175.7 58.4h.3M179.7 56.5h.3M177.4 54.9h.3M179.9 68.4h.3M181.8 62.0h.3M171.5 74.4h.3M176.2 53.9h.3M170.5 58.2h.3M169.3 62.6h.3M174.5 74.8h.3M178.5 73.0h.3M172.8 56.8h.3M173.7 81.0h.3M175.9 51.3h.3M168.2 54.4h.3M173.9 59.6h.3M170.5 78.5h.3M167.5 73.6h.3M178.9 53.1h.3M174.0 55.6h.3M168.6 69.9h.3M176.4 78.6h.3M172.8 53.7h.3M178.5 61.9h.3M178.9 77.8h.3M172.0 49.6h.3M177.8 46.3h.3M170.1 69.0h.3M175.4 56.7h.3M170.8 67.8h.3M180.6 60.2h.3M178.6 46.1h.3M177.1 47.4h.3M171.1 57.0h.3M182.4 49.7h.3M173.2 69.1h.3M169.9 53.0h.3M182.3 55.1h.3M181.5 79.1h.3M171.9 56.2h.3M173.0 76.0h.3M167.5 63.5h.3M178.7 76.4h.3M178.4 62.9h.3M177.7 79.9h.3M173.1 52.6h.3M168.5 58.3h.3M179.9 78.4h.3M170.6 59.3h.3M180.4 50.6h.3M175.6 53.1h.3M175.5 62.6h.3M167.9 76.9h.3M173.5 76.7h.3M172.2 72.9h.3M180.3 47.8h.3M179.9 76.1h.3M178.1 62.0h.3M178.0 66.9h.3M180.5 79.4h.3M182.4 52.4h.3M180.3 51.3h.3M168.9 64.4h.3M178.2 75.9h.3M173.1 49.5h.3M174.5 81.9h.3M173.0 56.3h.3M174.7 74.7h.3M176.8 63.0h.3M171.4 55.3h.3M179.2 63.5h.3M174.4 68.2h.3M172.4 57.2h.3M178.7 75.7h.3M167.5 76.5h.3M169.5 67.0h.3M179.7 63.8h.3M176.0 52.4h.3M171.6 74.8h.3M178.0 47.3h.3M171.1 52.9h.3M177.3 54.0h.3M181.6 55.3h.3M172.3 53.5h.3M178.4 62.2h.3M174.0 75.1h.3M170.9 70.3h.3M177.0 57.5h.3M174.0 64.5h.3M179.0 47.0h.3M181.9 77.6h.3M172.3 52.5h.3M170.2 52.8h.3M171.7 54.9h.3M171.7 67.3h.3M175.2 62.4h.3M172.1 58.2h.3M167.6 77.6h.3M170.6 54.5h.3M167.8 79.8h.3M176.4 49.6h.3M175.7 76.9h.3M178.6 75.3h.3M172.4 77.7h.3M170.4 63.9h.3M171.2 64.8h.3M172.2 60.8h.3M170.9 58.5h.3M168.8 59.9h.3M182.3 51.2h.3M173.7 71.3h.3M168.4 57.3h.3M180.0 75.5h.3M170.7 58.1h.3M176.5 76.8h.3M181.7 69.0h.3M168.6 73.0h.3M168.4 64.5h.3M170.4 63.7h.3M175.6 64.5h.3M178.4 69.7h.3M173.9 46.1h.3M173.0 79.3h.3M171.8 71.2h.3M168.2 60.7h.3M168.1 67.0h.3M177.4 51.4h.3M173.5 53.8h.3M170.6 66.0h.3M169.8 74.8h.3M172.1 49.5h.3M180.2 65.4h.3M171.3 60.4h.3M176.5 63.5h.3M174.8 60.0h.3M175.9 76.5h.3M168.6 51.3h.3M173.6 49.6h.3M170.0 65.2h.3M179.5 78.4h.3M171.7 61.9h.3M171.0 72.5h.3M178.9 46.7h.3M178.5 67.1h.3M180.2 55.1h.3M175.6 73.9h.3M182.3 61.5h.3M171.3 76.3h.3M171.4 55.6h.3M168.9 79.2h.3M173.5 78.2h.3M173.6 50.1h.3M170.1 53.0h.3M175.6 67.2h.3M171.8 52.3h.3M175.9 67.0h.3M170.4 77.8h.3M174.0 72.2h.3M167.5 61.9h.3M179.6 78.2h.3M170.9 56.1h.3M178.9 51.4h.3M173.4 74.5h.3M171.9 70.1h.3M168.8 62.9h.3M173.3 74.5h.3M170.1 67.4h.3M176.8 46.8h.3M178.0 50.5h.3M172.7 57.6h.3M169.6 62.5h.3M173.9 63.3h.3M172.5 55.5h.3M172.4 57.2h.3M171.8 53.1h.3M180.4 68.8h.3M177.3 80.1h.3M169.0 66.1h.3M170.4 79.3h.3M179.5 65.8h.3M176.4 55.9h.3M167.5 68.2h.3M181.0 68.9h.3M178.3 52.2h.3M179.6 69.2h.3M173.2 49.4h.3M176.2 51.3h.3M174.3 47.7h.3M180.3 69.5h.3M174.9 74.2h.3M178.8 54.6h.3M177.1 50.6h.3M176.7 56.9h.3M171.1 68.9h.3M169.9 61.9h.3M176.2 46.9h.3M177.7 59.8h.3M170.8 56.5h.3M180.5 53.6h.3M176.3 53.7h.3M178.6 55.7h.3M179.9 52.7h.3M177.2 66.5h.3M174.9 64.5h.3M169.0 64.6h.3M177.6 74.5h.3M182.1 49.7h.3M176.7 61.0h.3M168.0 75.9h.3M177.8 66.0h.3M175.2 69.8h.3M176.9 60.8h.3M176.6 71.0h.3M179.7 66.9h.3M174.2 62.8h.3M173.7 50.8h.3M169.3 53.6h.3M178.8 73.2h.3M181.2 76.5h.3M167.5 71.5h.3M180.8 76.5h.3M171.5 51.4h.3M179.2 77.9h.3M172.3 52.5h.3M180.3 70.6h.3M177.0 58.4h.3M180.1 65.8h.3M178.3 71.3h.3M176.1 69.9h.3M167.5 66.5h.3M172.0 55.5h.3M171.4 69.5h.3M168.2 70.5h.3M176.2 51.6h.3M172.8 60.2h.3M181.1 51.0h.3M181.9 50.0h.3M179.1 76.9h.3M172.5 70.0h.3M178.8 69.2h.3M179.3 60.2h.3M177.9 80.2h.3M171.7 74.6h.3M174.5 60.3h.3M169.6 50.0h.3M177.7 75.6h.3M178.0 62.9h.3M179.4 77.7h.3" stroke="#000" stroke-opacity="0.66" stroke-width="0.7" stroke-linecap="square" fill="none"/>
<path d="M173.5 54.9h.3M177.0 75.1h.3M174.4 53.0h.3M171.5 59.9h.3M172.1 73.4h.3M178.3 59.5h.3M175.7 59.4h.3M178.3 67.9h.3M170.6 73.3h.3M176.1 68.8h.3M175.0 72.5h.3M174.4 68.3h.3M172.3 73.6h.3M179.3 50.2h.3M176.6 70.1h.3M180.3 74.5h.3M172.9 65.1h.3M178.6 52.9h.3M176.4 66.8h.3M174.6 64.4h.3M175.7 56.5h.3M170.9 64.5h.3M178.3 72.3h.3M177.8 55.1h.3M175.0 66.7h.3M179.6 49.7h.3M179.7 53.4h.3M174.6 76.6h.3M170.1 61.4h.3M171.8 58.4h.3M169.8 62.3h.3M171.2 59.5h.3M169.3 63.5h.3M170.5 58.6h.3M176.9 74.5h.3M175.0 75.0h.3M177.4 59.9h.3M179.3 51.2h.3M175.9 74.3h.3M176.6 63.2h.3M167.5 60.4h.3M176.8 57.0h.3M178.0 52.9h.3M174.1 50.9h.3M177.4 67.7h.3M170.9 75.4h.3M179.3 59.0h.3M179.2 72.5h.3M172.4 72.8h.3M178.7 58.6h.3M174.7 55.6h.3M173.4 63.0h.3M171.6 75.1h.3M168.7 64.1h.3M173.8 68.0h.3M173.5 74.9h.3M177.1 52.5h.3M176.6 53.5h.3M168.8 62.6h.3M172.7 70.3h.3M173.0 65.8h.3M180.5 68.0h.3M177.2 51.0h.3M170.0 60.7h.3M180.6 50.4h.3M175.1 75.6h.3M175.5 53.0h.3M176.8 76.1h.3M170.1 69.2h.3M171.8 67.1h.3M171.9 54.0h.3M171.8 59.1h.3M170.6 75.4h.3M167.5 60.8h.3M179.0 49.2h.3M168.3 65.6h.3M173.0 51.5h.3M170.6 71.4h.3M168.2 64.1h.3M168.4 64.3h.3M169.1 70.8h.3M168.1 70.5h.3M182.1 67.5h.3M176.3 63.4h.3M177.9 52.9h.3M173.6 71.3h.3M180.0 66.8h.3M180.8 60.8h.3M172.2 74.1h.3M174.4 53.7h.3M177.4 49.5h.3M176.4 72.7h.3M176.1 70.7h.3M170.3 54.8h.3M171.4 63.5h.3M170.7 77.8h.3M171.7 50.9h.3M179.8 62.9h.3M170.4 77.7h.3M169.9 61.5h.3M168.2 75.3h.3M176.7 72.9h.3M175.1 69.9h.3M178.6 53.1h.3M176.8 73.7h.3M167.7 77.1h.3M177.5 67.1h.3M169.9 75.6h.3M178.8 71.7h.3M170.9 71.6h.3M169.9 65.9h.3M169.2 52.8h.3M179.7 69.5h.3M168.6 77.4h.3M172.5 65.0h.3M180.5 53.2h.3M169.3 77.6h.3M174.3 75.6h.3M177.5 50.8h.3M170.5 57.4h.3M172.1 59.5h.3M177.0 68.2h.3M178.8 68.5h.3M167.5 60.4h.3M173.3 64.5h.3M177.7 53.1h.3M175.2 58.5h.3M174.3 77.5h.3M171.6 59.2h.3M171.5 72.5h.3M181.4 65.1h.3M175.4 51.6h.3M176.8 53.8h.3M177.5 74.5h.3M177.1 64.2h.3M172.2 67.7h.3M169.6 59.6h.3M170.7 59.5h.3M178.7 65.5h.3M178.5 50.6h.3M179.3 72.4h.3M172.4 73.6h.3M170.3 56.4h.3M170.8 60.0h.3M176.1 67.1h.3M178.1 55.1h.3M175.3 60.1h.3M174.4 55.2h.3M183.0 51.5h.3M173.8 50.7h.3M169.0 75.0h.3M170.5 75.5h.3M178.9 48.7h.3M178.4 60.2h.3M176.4 73.2h.3M174.9 55.1h.3M179.7 75.6h.3M174.2 65.5h.3M172.0 58.3h.3M173.6 57.5h.3M175.4 69.9h.3M172.0 50.6h.3M178.8 62.2h.3M172.6 56.2h.3M179.6 76.6h.3M178.9 61.7h.3M172.5 57.3h.3M176.3 52.5h.3M170.9 67.9h.3M172.2 57.6h.3M170.8 77.7h.3M176.0 77.4h.3M174.9 74.4h.3M173.8 68.3h.3M179.2 58.9h.3M174.6 62.3h.3M180.4 53.2h.3M174.3 57.0h.3M174.3 71.2h.3M177.7 65.7h.3M169.0 60.3h.3M177.3 64.3h.3M174.5 52.6h.3M175.9 72.3h.3M177.0 58.7h.3M177.7 55.7h.3M169.5 59.3h.3M171.0 65.8h.3M169.7 57.7h.3M170.7 70.6h.3M172.5 58.0h.3M170.8 64.7h.3M172.0 71.7h.3M174.8 57.3h.3M170.8 53.8h.3M176.6 65.6h.3M176.8 58.4h.3M169.6 58.0h.3M176.6 62.0h.3M179.6 65.8h.3M177.4 55.5h.3M168.8 57.9h.3M172.7 73.0h.3M169.6 54.6h.3M175.4 64.1h.3M168.7 60.3h.3M169.0 65.9h.3M175.7 77.0h.3M175.7 68.2h.3M174.5 59.1h.3M175.0 50.8h.3M174.3 66.7h.3M177.9 61.1h.3M171.9 77.5h.3M175.2 75.5h.3M174.3 56.8h.3M174.2 71.2h.3M173.7 68.3h.3M182.6 55.0h.3M175.3 75.7h.3M172.5 60.4h.3M171.7 56.5h.3M176.5 71.8h.3M179.6 64.7h.3M171.9 56.0h.3M174.3 49.7h.3M173.5 68.9h.3M176.9 51.9h.3M179.1 56.9h.3M174.3 50.0h.3M177.0 69.2h.3M178.0 50.3h.3M174.1 54.3h.3M170.5 66.1h.3M172.5 67.5h.3M179.8 59.9h.3M177.5 76.3h.3M175.8 71.1h.3M173.3 60.3h.3M175.8 67.0h.3M174.8 53.5h.3M179.2 50.8h.3M175.1 66.1h.3M175.8 72.6h.3M175.1 78.3h.3M169.1 74.9h.3M168.6 63.5h.3M170.9 68.4h.3M177.8 54.4h.3M172.1 55.5h.3M178.7 78.5h.3M173.8 71.7h.3M171.4 61.7h.3M175.3 66.6h.3M180.6 62.3h.3M168.1 65.5h.3M168.8 67.9h.3M169.3 70.9h.3M172.4 75.7h.3M173.9 71.7h.3M168.2 64.8h.3M178.2 74.3h.3M175.4 58.2h.3M170.4 53.2h.3M177.2 76.7h.3M175.0 68.4h.3M176.9 47.9h.3M170.2 64.1h.3M172.5 49.8h.3M173.0 67.2h.3M168.7 70.4h.3M175.3 75.1h.3M175.9 74.6h.3M168.8 60.0h.3M170.7 70.1h.3M180.0 77.4h.3M173.4 74.0h.3M172.1 75.0h.3M177.6 79.5h.3M177.2 53.7h.3M175.0 77.6h.3M168.9 59.5h.3M172.3 67.6h.3M168.6 56.4h.3M177.8 58.9h.3M177.1 70.6h.3M176.6 69.2h.3M172.0 56.9h.3M175.7 50.8h.3M172.9 66.5h.3M179.4 69.8h.3M178.3 58.0h.3M178.8 50.6h.3M176.7 71.5h.3M176.0 73.7h.3M170.2 62.0h.3M171.0 77.2h.3M171.8 66.2h.3M180.5 66.7h.3M175.5 67.3h.3M173.6 67.8h.3M170.7 61.4h.3M174.1 56.5h.3M168.2 64.5h.3M172.1 56.3h.3M175.6 63.3h.3M173.2 57.0h.3M179.8 54.4h.3M176.5 65.7h.3M176.1 69.6h.3M179.7 67.3h.3M172.8 60.4h.3M178.5 74.8h.3M179.4 54.7h.3M174.3 49.4h.3M179.1 54.2h.3M179.2 61.5h.3M167.8 73.4h.3M168.9 65.9h.3M175.1 66.6h.3M178.5 48.9h.3M170.5 67.0h.3M178.3 58.1h.3M171.4 63.0h.3M173.7 53.0h.3M172.0 65.2h.3M176.8 57.3h.3M168.4 75.2h.3M179.0 61.5h.3M174.8 54.1h.3M174.8 52.3h.3M179.2 51.4h.3M173.2 57.2h.3M179.1 51.1h.3M175.0 52.0h.3M169.7 59.5h.3M179.7 59.7h.3M177.9 52.4h.3M175.3 53.4h.3M176.8 65.1h.3M172.7 72.1h.3M175.0 72.8h.3M175.4 54.2h.3M177.7 59.0h.3M171.3 74.6h.3M168.8 66.1h.3M171.4 70.7h.3M172.6 55.1h.3M180.8 54.5h.3M170.5 67.5h.3M170.0 70.5h.3M170.6 63.4h.3M174.7 55.7h.3M181.0 59.1h.3M174.3 73.0h.3M172.8 68.0h.3M168.5 64.1h.3M174.9 77.6h.3M175.1 62.9h.3M178.1 72.8h.3M173.1 55.5h.3M180.1 60.7h.3M172.5 50.9h.3M167.5 70.0h.3M171.5 74.3h.3M172.8 51.3h.3M180.1 61.0h.3M174.6 53.3h.3M174.8 56.6h.3M174.2 53.7h.3M180.3 65.4h.3M168.2 64.7h.3M174.7 53.9h.3M175.1 67.4h.3M170.7 55.1h.3M169.4 58.2h.3M173.5 75.1h.3M178.1 62.9h.3M171.2 58.9h.3M173.4 67.3h.3M168.1 59.2h.3M177.4 53.8h.3M173.5 74.1h.3M173.5 69.7h.3M177.8 57.8h.3M170.1 73.5h.3M170.5 71.7h.3M178.0 53.2h.3M172.2 55.7h.3M171.3 57.7h.3M172.0 77.1h.3M169.8 56.4h.3M174.4 78.2h.3M175.8 62.7h.3M179.8 63.4h.3M169.2 57.3h.3M178.6 51.5h.3M173.6 68.4h.3M171.8 53.9h.3M178.7 56.4h.3M171.0 60.2h.3M172.5 75.8h.3M175.2 58.9h.3M170.8 63.7h.3M173.0 71.1h.3M168.2 75.0h.3M174.5 54.1h.3M171.2 53.4h.3M175.3 75.7h.3M170.6 69.3h.3M179.1 66.4h.3M176.7 60.2h.3M175.0 48.8h.3M170.0 72.6h.3M169.7 72.1h.3M173.2 76.0h.3M177.8 50.8h.3M178.8 57.5h.3M177.9 65.1h.3M176.6 66.7h.3M170.0 77.2h.3M175.7 52.1h.3M176.0 58.8h.3M174.2 58.0h.3M173.1 63.1h.3M181.2 55.1h.3M170.7 67.5h.3M174.8 66.9h.3M172.5 77.2h.3M171.0 61.8h.3M176.5 57.9h.3M176.9 68.8h.3M174.9 61.1h.3M178.8 59.4h.3M176.0 55.0h.3M168.3 64.7h.3M178.0 74.4h.3M171.7 72.6h.3M176.6 57.1h.3M178.5 56.9h.3M170.8 67.5h.3M176.9 78.3h.3M178.5 68.9h.3M173.9 52.3h.3M181.0 59.3h.3M178.3 73.1h.3M174.3 74.1h.3M169.8 62.8h.3M175.4 49.9h.3M169.7 56.2h.3M170.7 49.1h.3M174.8 62.7h.3M170.7 49.9h.3M174.4 69.2h.3M171.9 67.6h.3M176.9 55.4h.3M175.5 67.9h.3M168.5 71.7h.3M171.2 67.1h.3M171.6 77.3h.3M168.2 68.2h.3M178.2 74.9h.3M169.9 73.0h.3M170.2 68.5h.3M178.6 68.0h.3M177.4 75.1h.3M171.0 63.0h.3M176.6 73.8h.3M179.5 75.7h.3M175.5 54.9h.3M172.3 77.2h.3M171.5 71.7h.3M172.4 57.8h.3M171.8 69.8h.3M173.7 50.3h.3M170.4 66.5h.3M173.1 68.5h.3M173.9 74.5h.3M174.4 73.4h.3M170.0 66.4h.3M169.5 64.0h.3M174.5 66.6h.3M169.7 76.9h.3M176.5 75.6h.3M169.1 55.8h.3M181.0 73.5h.3M169.8 56.3h.3M176.0 56.4h.3M176.5 49.4h.3M175.8 54.7h.3M170.1 63.4h.3M179.1 67.8h.3M169.0 54.2h.3M172.7 54.3h.3M178.8 75.8h.3M172.3 77.8h.3M168.8 61.9h.3M179.1 68.8h.3M179.9 49.8h.3M170.4 71.2h.3M177.6 75.8h.3M176.6 70.5h.3M169.3 55.7h.3M176.1 49.2h.3M177.9 57.8h.3M169.2 76.8h.3M169.4 74.0h.3M178.5 55.9h.3M167.5 63.1h.3M179.7 59.6h.3M171.5 55.2h.3M169.9 63.5h.3M178.2 52.6h.3M168.2 54.3h.3M176.9 57.9h.3M168.9 60.5h.3M168.6 55.2h.3M174.2 69.5h.3M170.4 62.0h.3M169.0 67.9h.3M178.6 65.3h.3M174.4 57.3h.3M179.8 70.8h.3M171.2 69.4h.3M180.8 53.0h.3M174.0 73.1h.3M179.4 62.2h.3M179.8 59.9h.3M174.1 71.8h.3M176.7 58.1h.3M174.7 67.3h.3M174.8 65.4h.3M178.3 63.8h.3M170.5 57.5h.3M168.7 55.5h.3M169.3 65.1h.3M177.6 68.9h.3M179.9 69.8h.3M175.3 52.2h.3M181.0 62.2h.3M176.6 57.4h.3M172.2 57.9h.3M173.8 66.8h.3M174.9 70.0h.3M172.7 58.8h.3M169.3 74.5h.3M174.4 72.8h.3M172.7 64.3h.3M179.7 57.0h.3M178.7 66.2h.3M174.3 60.9h.3M179.8 64.7h.3M177.4 48.6h.3M176.0 51.2h.3M175.5 63.0h.3M178.2 75.6h.3M179.2 70.8h.3M179.5 57.5h.3M177.9 54.9h.3M173.5 58.7h.3M174.1 65.4h.3M176.1 51.7h.3M180.1 76.3h.3M174.8 59.2h.3M169.6 61.0h.3M179.5 65.4h.3M179.8 61.8h.3M175.9 55.5h.3M177.0 53.6h.3M177.2 67.1h.3M170.6 60.9h.3M175.0 58.9h.3M181.8 57.5h.3M174.7 53.2h.3M176.7 62.1h.3M179.2 65.4h.3M169.6 65.9h.3M172.8 53.2h.3M169.0 74.3h.3M178.6 76.0h.3M168.2 69.0h.3M178.5 60.8h.3M179.0 64.5h.3M176.3 61.5h.3M173.7 66.5h.3M173.6 59.9h.3M167.9 76.7h.3M169.9 61.1h.3M177.0 67.2h.3M178.8 66.9h.3M174.6 75.6h.3M176.5 60.7h.3M179.2 64.5h.3M169.8 73.0h.3M176.0 72.0h.3M179.8 61.9h.3M168.6 62.2h.3M178.7 71.4h.3M180.5 58.2h.3M180.8 64.4h.3M169.8 63.8h.3M173.6 69.5h.3M179.7 68.4h.3M175.7 65.9h.3M179.8 64.9h.3M174.7 64.1h.3M177.6 69.2h.3M174.1 62.9h.3M169.2 66.7h.3M172.6 68.6h.3M167.5 73.2h.3M173.4 60.9h.3M174.1 62.7h.3M181.1 67.6h.3M175.0 77.5h.3M174.9 52.8h.3M172.9 58.3h.3M178.8 56.9h.3M173.3 68.3h.3M169.8 63.0h.3M176.3 70.1h.3M169.9 73.1h.3M173.6 63.2h.3M179.3 68.9h.3M176.3 48.6h.3M178.4 71.4h.3M174.4 50.4h.3M176.5 69.2h.3M169.8 67.3h.3M169.2 66.3h.3M169.7 68.7h.3M178.0 57.3h.3M171.6 67.5h.3M171.3 63.3h.3M170.7 63.1h.3M171.1 57.9h.3M177.7 58.1h.3M180.3 52.2h.3M169.8 68.1h.3M174.8 53.5h.3M171.5 63.8h.3M176.1 48.6h.3M178.8 55.3h.3M170.8 55.2h.3M178.0 62.5h.3M172.8 64.1h.3M172.1 65.4h.3M172.7 73.8h.3M173.1 69.8h.3M174.0 52.5h.3M173.7 59.6h.3M168.9 72.3h.3M175.2 65.8h.3M175.6 49.3h.3M174.6 76.2h.3M172.8 51.5h.3M177.1 69.9h.3M171.5 56.7h.3M172.8 72.7h.3M180.2 54.0h.3M179.6 58.2h.3M172.5 57.7h.3M175.2 50.7h.3M177.9 69.8h.3M179.7 64.0h.3M173.8 53.0h.3M168.4 71.3h.3M172.1 65.3h.3M169.8 55.1h.3M178.2 62.7h.3M176.9 52.2h.3M169.8 70.9h.3M170.5 59.5h.3M173.4 77.4h.3M175.6 75.4h.3M176.3 54.5h.3M171.6 51.2h.3M168.7 74.3h.3M174.7 61.0h.3M174.1 49.0h.3M176.9 60.8h.3M180.3 61.2h.3M174.8 54.5h.3M176.6 57.3h.3M176.8 77.8h.3M175.8 67.4h.3M168.2 75.2h.3M175.6 75.4h.3M178.4 75.2h.3M179.5 69.2h.3M176.3 67.3h.3M176.6 64.7h.3M173.2 59.3h.3M173.1 74.3h.3M170.1 71.5h.3M178.8 73.2h.3M168.2 62.0h.3M170.5 57.9h.3M179.6 58.7h.3M176.2 60.6h.3M178.2 68.2h.3M168.6 61.9h.3M174.5 68.9h.3M176.4 70.1h.3M173.8 75.3h.3M172.7 75.0h.3M179.8 70.3h.3M171.0 52.0h.3M174.8 74.5h.3M177.6 61.1h.3M169.6 72.3h.3M175.7 49.3h.3M174.6 59.7h.3M170.7 71.2h.3M171.2 52.6h.3M174.3 74.5h.3M172.9 75.3h.3M177.3 61.0h.3M177.3 62.4h.3M171.5 66.3h.3M170.9 59.2h.3M171.9 77.4h.3M172.1 64.4h.3M180.1 73.7h.3M175.6 59.6h.3M181.6 63.5h.3M179.5 62.3h.3M178.0 60.9h.3M170.6 71.8h.3M173.3 72.8h.3M173.8 58.1h.3M179.6 74.2h.3M171.4 50.1h.3M168.2 62.0h.3M168.2 59.7h.3M169.1 70.2h.3M179.6 76.8h.3M172.5 58.0h.3M174.2 74.7h.3M172.0 54.7h.3M180.3 71.4h.3M175.4 66.2h.3M173.2 68.5h.3M171.8 58.3h.3M170.7 74.9h.3M168.3 71.9h.3M174.1 75.3h.3M169.4 59.0h.3M171.7 69.0h.3M177.6 69.5h.3M178.2 75.9h.3M179.1 54.5h.3M173.9 70.2h.3M173.4 72.6h.3M173.3 60.8h.3M170.0 53.4h.3M172.0 69.3h.3M171.6 73.7h.3M176.6 70.1h.3M178.7 66.9h.3M175.4 53.4h.3M175.8 56.4h.3M177.5 59.0h.3M172.9 64.7h.3M171.3 65.1h.3M171.9 72.8h.3M172.1 75.0h.3M176.5 64.1h.3M178.0 67.8h.3M179.3 62.0h.3M178.6 63.2h.3M171.7 71.1h.3M179.2 68.4h.3M169.8 68.2h.3M180.4 59.8h.3M177.7 54.5h.3M179.8 72.5h.3M176.1 65.7h.3M168.0 57.4h.3M175.7 60.9h.3M171.4 64.3h.3M177.0 51.2h.3M175.2 61.3h.3M179.0 59.1h.3M172.4 60.2h.3M169.8 76.7h.3M170.0 62.4h.3M173.1 72.5h.3M173.5 70.8h.3M181.3 60.4h.3M170.5 74.3h.3M177.6 71.0h.3M178.1 58.5h.3M169.5 73.1h.3M177.0 60.1h.3M176.5 58.4h.3M169.3 73.0h.3M170.0 66.7h.3M180.4 68.3h.3M177.5 54.8h.3" stroke="#000" stroke-opacity="0.6" stroke-width="0.7" stroke-linecap="square" fill="none"/>
<path d="M171.0 86.1h.3M170.4 92.8h.3M170.0 99.4h.3M173.2 82.5h.3M171.3 89.7h.3M170.9 88.8h.3M172.7 94.3h.3M177.8 97.2h.3M167.5 91.1h.3M172.0 93.8h.3M175.8 87.2h.3M171.1 88.4h.3M176.5 85.1h.3M178.0 81.1h.3M179.1 86.9h.3M179.3 81.3h.3M176.5 82.2h.3M180.0 81.9h.3M172.0 96.9h.3M167.5 93.3h.3M171.2 87.7h.3M171.9 82.3h.3M174.6 100.5h.3M170.7 93.3h.3M174.4 90.4h.3M173.0 90.9h.3M169.0 92.8h.3M176.9 82.2h.3M175.4 97.2h.3M179.6 99.1h.3M171.4 100.5h.3M174.6 99.3h.3M170.5 88.8h.3M173.7 83.6h.3M174.7 84.0h.3M175.6 87.7h.3M171.1 96.4h.3M176.6 90.0h.3M167.5 85.9h.3M172.9 91.5h.3M167.9 79.8h.3M172.0 93.2h.3M178.3 87.2h.3M176.4 99.5h.3M174.9 91.3h.3M176.2 95.8h.3M177.6 85.6h.3M169.4 80.9h.3M169.7 85.7h.3M174.5 99.3h.3M176.5 98.1h.3M172.6 88.6h.3M179.8 88.8h.3M168.6 99.5h.3M171.3 87.5h.3M169.6 87.4h.3M174.4 92.6h.3M173.4 99.4h.3M173.7 99.8h.3M173.6 88.8h.3M171.1 89.4h.3M175.0 98.7h.3M175.2 99.5h.3M173.5 82.9h.3M172.8 86.5h.3M180.6 80.9h.3M174.5 90.7h.3M175.2 91.5h.3M175.7 91.1h.3M170.3 98.1h.3M173.4 84.1h.3M177.0 81.7h.3M169.9 85.0h.3M171.8 86.3h.3M172.2 100.0h.3M170.9 96.3h.3M175.0 84.6h.3M174.4 84.7h.3M175.1 92.7h.3M180.6 86.4h.3M169.8 92.5h.3M175.6 94.6h.3M176.4 94.6h.3M167.5 94.3h.3M173.0 98.6h.3M177.9 84.1h.3M175.5 86.7h.3M171.3 97.1h.3M174.1 95.0h.3M179.4 100.2h.3M168.3 93.3h.3M176.9 87.9h.3M172.3 94.1h.3M169.3 92.8h.3M172.7 86.2h.3M177.4 99.0h.3M175.0 82.5h.3M176.2 97.6h.3M168.8 92.2h.3M175.8 96.9h.3M172.1 90.4h.3M176.6 85.9h.3M173.1 95.2h.3M167.8 97.3h.3M181.0 97.3h.3M170.4 87.3h.3M173.3 86.2h.3M178.7 98.3h.3M167.5 84.4h.3M178.2 92.9h.3M175.2 94.2h.3M173.2 95.4h.3M172.6 97.7h.3M169.5 81.5h.3M172.4 95.8h.3M174.5 95.4h.3M170.2 88.5h.3M177.6 85.4h.3M177.6 88.4h.3M168.8 97.4h.3M171.2 98.2h.3M168.8 82.6h.3M178.3 92.6h.3M175.7 98.3h.3M167.8 88.3h.3M167.6 95.2h.3M173.7 100.2h.3M175.1 96.4h.3M177.3 99.6h.3M168.1 93.5h.3M179.6 87.6h.3M178.4 81.6h.3M167.5 83.2h.3M169.7 81.1h.3M173.1 95.5h.3M173.5 92.0h.3M177.3 86.0h.3M179.6 84.4h.3M177.1 80.9h.3M178.6 98.4h.3M176.1 100.5h.3M177.9 91.4h.3M173.6 82.5h.3M174.3 85.6h.3M169.4 97.3h.3M171.6 93.8h.3M175.2 89.4h.3M178.0 87.3h.3M174.4 86.3h.3M167.5 90.2h.3M176.7 96.9h.3M169.6 95.1h.3M169.4 96.8h.3M178.0 87.1h.3M173.7 87.0h.3M167.7 81.6h.3M178.1 84.6h.3M177.8 98.5h.3M176.8 91.3h.3M172.3 92.2h.3M175.5 87.6h.3M170.3 87.6h.3M178.5 85.5h.3M168.2 92.3h.3M170.7 84.7h.3M168.5 79.8h.3M174.9 86.9h.3M180.9 85.4h.3M172.3 83.1h.3M174.7 90.6h.3M170.5 81.0h.3M173.5 88.5h.3M168.9 100.5h.3M176.9 87.4h.3M176.8 83.9h.3M175.7 79.3h.3M171.7 80.8h.3M172.5 93.2h.3M171.3 89.7h.3M177.9 81.8h.3M179.4 85.8h.3M171.2 87.0h.3M175.2 93.2h.3M172.2 94.5h.3M170.3 97.8h.3M178.3 90.2h.3M177.1 81.1h.3M180.1 88.1h.3M174.6 85.8h.3M177.6 90.3h.3M176.4 92.5h.3M170.0 83.3h.3M170.0 83.2h.3M170.4 87.9h.3M170.9 91.5h.3M169.7 96.1h.3M177.6 85.0h.3M170.8 95.5h.3M168.5 83.7h.3M169.0 83.3h.3M169.2 92.2h.3M171.0 93.6h.3M175.0 95.0h.3M172.1 88.9h.3M174.3 89.6h.3M172.3 100.5h.3M168.0 96.0h.3M178.4 93.3h.3M173.4 96.4h.3M180.5 84.2h.3M169.4 91.0h.3M171.2 89.0h.3M175.1 82.2h.3M168.1 88.1h.3M173.9 90.2h.3M180.6 100.5h.3M178.4 95.7h.3M169.2 91.8h.3M176.6 93.6h.3M174.6 81.6h.3M178.5 97.3h.3M172.9 95.5h.3M174.6 94.3h.3M173.1 97.1h.3M175.3 83.9h.3M180.4 85.8h.3M173.7 94.9h.3M167.5 91.7h.3M167.5 87.9h.3M177.3 90.6h.3M175.2 92.8h.3M172.3 92.2h.3M171.6 89.2h.3M173.4 85.9h.3M171.6 94.9h.3M175.2 86.6h.3M178.2 90.3h.3M170.6 100.1h.3M179.0 94.3h.3M178.2 82.2h.3M176.8 100.5h.3M178.1 93.1h.3M171.7 98.9h.3M172.8 90.3h.3M175.6 91.4h.3M174.0 91.1h.3M168.6 99.3h.3M174.2 93.6h.3M172.1 97.2h.3M170.6 96.2h.3M167.9 94.6h.3M174.9 89.9h.3M172.3 85.1h.3M174.2 84.5h.3M169.2 89.9h.3M169.5 95.0h.3M177.5 88.5h.3M172.0 95.3h.3M176.4 99.7h.3M168.2 99.1h.3M178.3 98.4h.3M176.0 89.7h.3M176.9 86.7h.3M172.0 97.7h.3M176.6 93.6h.3M168.4 91.4h.3M176.5 86.7h.3M172.6 83.8h.3M179.5 82.4h.3M172.6 86.0h.3M176.6 96.1h.3M173.6 96.1h.3M170.9 86.8h.3M176.3 98.4h.3M181.9 86.0h.3M175.0 96.1h.3M171.3 98.0h.3M177.2 93.8h.3M171.6 92.2h.3M173.8 89.0h.3M168.8 86.2h.3M172.2 89.3h.3M172.5 100.5h.3M168.2 96.3h.3M170.8 91.3h.3M176.0 94.8h.3M168.9 84.8h.3M174.8 84.3h.3M179.1 94.1h.3M175.5 82.8h.3M170.5 83.9h.3M174.8 99.5h.3M173.2 83.5h.3M180.8 82.6h.3M179.9 92.4h.3M181.4 83.3h.3M173.8 86.0h.3M174.6 96.3h.3M177.0 87.3h.3M179.7 91.2h.3M179.0 90.2h.3M168.1 92.5h.3M169.5 94.3h.3M173.8 93.9h.3M167.9 85.8h.3M173.1 90.1h.3M178.5 94.7h.3M167.5 92.4h.3M178.5 88.1h.3M172.0 84.1h.3M169.9 100.0h.3M175.7 89.7h.3M175.9 91.6h.3M169.4 83.6h.3M178.1 95.0h.3M178.5 89.2h.3M177.1 81.9h.3M170.1 100.5h.3M175.0 82.9h.3M171.6 86.4h.3M175.2 86.9h.3M168.6 94.6h.3M175.5 94.9h.3M170.2 81.0h.3M168.9 84.2h.3M177.0 89.3h.3M168.3 98.5h.3M176.7 91.0h.3M174.7 90.0h.3M175.2 91.6h.3M169.7 81.1h.3M169.9 100.5h.3M180.6 85.0h.3M171.1 89.6h.3M171.9 98.7h.3M178.3 93.1h.3M172.9 95.8h.3M174.6 82.9h.3M177.7 88.8h.3M180.1 94.2h.3M177.4 91.7h.3M170.2 100.3h.3M178.7 88.3h.3M176.1 96.2h.3M174.2 92.3h.3M180.6 83.3h.3M169.0 94.7h.3M171.9 85.3h.3M174.2 89.1h.3M171.2 96.8h.3M176.4 98.3h.3M173.0 85.0h.3M173.9 98.1h.3M169.9 88.8h.3M175.3 81.5h.3M172.9 97.2h.3M181.4 81.3h.3M172.8 83.2h.3M176.0 84.8h.3M178.1 96.8h.3M178.1 86.9h.3M174.2 95.6h.3M170.1 83.6h.3M178.5 98.0h.3M167.8 82.6h.3M173.5 84.6h.3M173.9 83.1h.3M170.5 93.3h.3M178.5 87.8h.3M172.0 90.8h.3M179.1 89.3h.3M178.1 83.4h.3M169.6 82.2h.3M170.6 99.0h.3M172.1 85.3h.3M179.8 93.3h.3M173.6 92.6h.3M178.9 89.8h.3M170.8 88.7h.3M167.5 98.5h.3M174.0 83.2h.3M178.9 82.8h.3M177.0 93.1h.3M181.2 89.8h.3M178.8 83.7h.3M176.3 79.7h.3M176.4 92.8h.3M176.9 97.0h.3M178.6 88.2h.3M170.0 98.9h.3M177.5 91.9h.3M169.6 84.3h.3M168.9 97.2h.3M169.2 96.9h.3M179.8 89.0h.3M179.1 98.5h.3M180.3 95.5h.3M168.1 86.9h.3M177.9 97.3h.3M176.0 84.1h.3M169.6 93.0h.3M177.6 84.4h.3M177.9 99.8h.3M182.1 96.7h.3M167.8 81.5h.3M180.9 91.4h.3M173.3 95.0h.3M169.3 96.7h.3M169.6 88.6h.3M175.8 93.7h.3M179.9 86.1h.3M169.7 87.1h.3M172.7 88.3h.3M175.1 97.7h.3M172.3 98.8h.3M182.1 82.5h.3M169.3 89.4h.3M172.3 85.9h.3M178.3 93.8h.3M178.6 91.3h.3M176.0 88.9h.3M171.2 92.3h.3M173.2 81.8h.3M172.5 87.4h.3M179.8 81.9h.3M177.0 85.3h.3M177.4 82.8h.3M170.6 81.5h.3M177.5 97.4h.3M171.5 85.3h.3M168.4 89.8h.3M176.7 93.4h.3M178.0 98.0h.3M172.7 90.4h.3M178.2 99.7h.3M176.0 90.9h.3M179.3 97.1h.3M174.7 84.6h.3M172.4 98.8h.3M176.4 97.7h.3M170.1 89.1h.3M177.6 94.8h.3M173.3 83.0h.3M173.2 95.4h.3M171.8 90.3h.3M177.1 85.3h.3M168.3 89.2h.3M180.7 86.8h.3M172.3 100.5h.3M176.3 88.9h.3M176.8 86.4h.3M170.4 99.7h.3M179.2 85.8h.3M169.4 98.8h.3M170.0 92.1h.3M177.3 98.2h.3M175.8 92.6h.3M179.3 91.6h.3M179.8 93.4h.3M168.2 84.7h.3M170.0 82.3h.3M178.5 88.7h.3M174.6 88.6h.3M174.4 99.1h.3M168.2 95.6h.3M177.8 88.5h.3M172.1 91.3h.3M170.1 86.4h.3M168.6 93.6h.3M177.0 91.1h.3M177.3 87.5h.3M171.2 99.9h.3M174.1 81.8h.3M173.6 94.1h.3M176.9 91.4h.3M177.4 94.4h.3M173.5 85.6h.3M171.1 93.2h.3M181.2 90.3h.3M168.0 95.9h.3M176.6 90.5h.3M173.0 80.5h.3M173.4 98.9h.3M170.2 85.8h.3M174.5 92.2h.3M179.9 81.8h.3M177.3 84.2h.3M176.7 85.0h.3M171.1 87.2h.3M175.7 87.9h.3M173.3 95.8h.3M169.2 100.4h.3M174.8 95.9h.3M168.4 80.9h.3M171.8 99.0h.3M176.9 88.0h.3M179.2 87.2h.3M168.5 85.9h.3M176.1 93.2h.3M172.0 87.8h.3M172.6 95.8h.3M170.6 96.1h.3M175.0 83.4h.3M176.2 91.6h.3M170.1 100.5h.3M169.3 98.4h.3M178.1 89.7h.3M169.9 91.4h.3M168.2 94.3h.3M168.2 90.8h.3M169.5 85.7h.3M169.2 83.2h.3M176.2 91.5h.3M172.3 88.0h.3M168.7 90.9h.3M180.3 99.4h.3M169.0 90.2h.3M181.9 88.3h.3M175.6 95.9h.3M174.3 83.7h.3M170.5 86.2h.3M169.0 89.1h.3M179.1 96.3h.3M176.1 93.3h.3M170.1 98.4h.3M181.8 80.4h.3M175.1 89.7h.3M175.4 93.8h.3M179.8 97.3h.3M178.8 98.8h.3M173.3 91.4h.3M172.9 91.9h.3M173.1 83.9h.3M174.0 100.5h.3M170.7 85.2h.3M177.6 100.0h.3M172.5 89.5h.3M177.5 88.9h.3M169.5 90.3h.3M176.8 94.8h.3M172.0 84.0h.3M178.2 91.5h.3M176.3 92.5h.3M168.5 98.6h.3M180.2 87.0h.3M170.5 89.6h.3M174.6 88.2h.3M171.9 97.5h.3M178.8 96.2h.3M168.9 93.4h.3M169.4 85.8h.3M170.7 91.3h.3M169.2 83.3h.3M173.2 99.2h.3M169.8 85.5h.3M169.1 93.7h.3M181.4 96.9h.3M179.7 89.3h.3M168.7 81.0h.3M178.6 92.1h.3M174.8 88.5h.3M167.9 85.7h.3M173.4 82.8h.3M178.1 98.0h.3M179.5 89.2h.3M169.5 90.0h.3M176.0 82.5h.3M168.8 84.4h.3M180.5 98.7h.3M171.2 93.8h.3M167.9 95.5h.3M167.8 100.5h.3M180.7 85.5h.3M177.2 83.8h.3M178.1 93.7h.3M168.2 85.7h.3M174.0 85.3h.3M178.4 97.2h.3M171.3 81.9h.3M176.1 98.1h.3M175.4 100.5h.3M173.1 92.8h.3M178.6 91.4h.3M174.1 91.9h.3M169.4 93.2h.3M170.0 83.4h.3M175.2 89.4h.3M174.8 86.3h.3M177.1 90.2h.3M172.4 80.7h.3M176.6 97.8h.3M168.6 97.9h.3M176.0 86.6h.3M177.6 83.4h.3M178.8 84.0h.3M171.3 87.5h.3M179.3 90.7h.3M172.1 83.5h.3M177.1 83.3h.3M172.2 94.3h.3M167.5 90.8h.3M170.4 92.1h.3M173.3 79.9h.3M177.7 86.0h.3M169.9 93.6h.3M171.3 85.3h.3M177.4 85.2h.3M172.5 97.0h.3M168.6 97.6h.3M171.8 83.7h.3M175.5 85.7h.3M174.7 97.2h.3M171.5 86.2h.3M175.9 98.0h.3M175.8 96.7h.3M176.3 100.5h.3M169.5 86.9h.3M176.2 99.9h.3M181.6 86.5h.3M180.6 93.0h.3M177.1 89.4h.3M172.3 80.7h.3M169.1 95.4h.3M171.5 97.9h.3M174.4 87.9h.3M178.6 98.2h.3M177.1 97.4h.3M170.0 83.5h.3M173.8 99.1h.3M170.6 90.5h.3M175.4 95.8h.3M173.3 82.9h.3M176.8 84.3h.3M180.9 89.5h.3M171.3 96.1h.3M177.6 96.3h.3M177.8 98.0h.3M172.8 85.4h.3M168.9 93.9h.3M167.5 96.4h.3M171.8 83.6h.3M170.4 90.2h.3M168.3 90.7h.3M168.2 88.3h.3M177.8 81.9h.3M176.8 91.1h.3M172.2 86.8h.3M177.7 88.6h.3M172.4 84.5h.3M172.6 86.3h.3M174.1 96.7h.3M171.9 93.2h.3M169.3 87.5h.3M172.3 88.2h.3M169.8 93.5h.3M175.3 87.1h.3M174.6 94.8h.3M174.9 87.3h.3M177.7 85.0h.3M171.5 85.7h.3M178.5 86.1h.3M176.5 99.8h.3M173.6 95.4h.3M179.2 83.6h.3M171.5 83.8h.3M177.9 91.5h.3M174.0 90.3h.3M176.8 98.3h.3M173.4 89.7h.3M174.2 84.2h.3M171.7 83.5h.3M174.8 83.8h.3M176.8 90.9h.3M170.3 92.6h.3M176.1 82.2h.3M182.2 83.4h.3M168.8 84.3h.3M170.5 96.1h.3M170.9 95.6h.3M179.2 86.4h.3M177.9 81.9h.3M176.4 94.3h.3M177.6 94.2h.3M173.7 81.0h.3M173.8 89.9h.3M170.3 92.7h.3M178.2 89.6h.3M178.9 90.6h.3M167.9 86.1h.3M174.8 94.0h.3M177.7 87.9h.3M168.6 87.8h.3M179.5 88.1h.3M169.6 86.2h.3M173.4 81.9h.3M173.4 84.7h.3M170.6 92.8h.3M177.6 93.2h.3M173.6 83.4h.3M170.7 88.4h.3M177.1 86.1h.3M174.8 95.9h.3M171.5 87.1h.3M174.6 91.7h.3M169.3 83.5h.3M167.5 88.4h.3M178.9 84.9h.3M173.5 89.1h.3M174.0 95.7h.3M174.0 88.2h.3M176.8 88.4h.3M175.3 89.3h.3M175.4 100.5h.3M182.1 82.3h.3M169.3 96.0h.3M179.6 85.6h.3M169.6 95.8h.3M177.5 96.2h.3M179.7 96.6h.3M176.5 87.0h.3M174.9 81.6h.3M171.4 100.2h.3M177.2 95.1h.3M174.6 95.3h.3M177.0 89.9h.3M176.6 100.5h.3M180.4 87.0h.3M172.6 86.0h.3M168.0 94.2h.3M173.7 81.0h.3M179.9 96.7h.3M179.0 97.6h.3M177.3 95.7h.3M167.5 86.7h.3M171.5 96.4h.3M177.3 93.8h.3M170.6 83.7h.3M176.4 89.2h.3M178.6 100.5h.3M178.4 88.1h.3M176.5 91.0h.3M172.1 82.3h.3M175.3 84.0h.3M181.0 94.5h.3M168.8 82.6h.3M172.4 96.3h.3M171.3 98.8h.3M173.1 86.0h.3M175.0 97.3h.3M173.1 100.5h.3M169.5 89.2h.3M175.7 87.0h.3M178.0 88.5h.3M180.4 95.1h.3M179.7 94.1h.3M180.8 97.1h.3M172.3 87.1h.3M175.5 92.6h.3M170.8 96.0h.3M175.5 98.4h.3M168.9 92.3h.3M170.7 96.4h.3M177.1 89.5h.3M178.9 93.5h.3M179.7 97.0h.3M177.5 84.4h.3M173.2 92.7h.3M180.7 84.8h.3M169.2 96.9h.3M177.1 80.5h.3M177.0 95.3h.3M178.9 93.2h.3M173.8 100.4h.3M170.4 83.0h.3M171.2 97.7h.3M170.0 92.4h.3M170.1 82.0h.3M168.9 92.2h.3M176.5 98.7h.3M169.5 95.9h.3M168.0 99.5h.3M172.7 98.5h.3M172.5 98.8h.3M168.9 92.5h.3M172.2 88.5h.3M175.0 97.1h.3M179.7 91.5h.3M169.5 100.5h.3M179.3 94.0h.3M173.9 82.3h.3M168.6 99.4h.3M175.6 99.9h.3M171.9 81.9h.3M177.1 97.0h.3M173.9 90.9h.3M167.9 96.3h.3M170.4 98.4h.3M173.5 98.0h.3M172.2 96.0h.3M175.2 91.2h.3" stroke="#000" stroke-opacity="0.55" stroke-width="0.7" stroke-linecap="square" fill="none"/>
<path d="M195.5 68.0h.3M209.2 62.2h.3M205.9 77.6h.3M204.6 76.1h.3M214.1 82.4h.3M201.5 89.8h.3M206.0 55.1h.3M211.7 64.8h.3M189.2 84.5h.3M187.6 79.5h.3" stroke="#000" stroke-opacity="0.2" stroke-width="0.7" stroke-linecap="square" fill="none"/>
<path d="M172.7 101.2v-0.9M176.1 101.2v-0.9M178.4 101.2v-0.9M180.3 101.2v-0.9M181.8 101.2v-0.9M183.1 101.2v-0.9M184.2 101.2v-0.9M185.1 101.2v-0.9M191.7 101.2v-0.9M195.1 101.2v-0.9M197.4 101.2v-0.9M199.3 101.2v-0.9M200.8 101.2v-0.9M202.1 101.2v-0.9M203.2 101.2v-0.9M204.1 101.2v-0.9M210.7 101.2v-0.9M214.1 101.2v-0.9M216.4 101.2v-0.9M218.3 101.2v-0.9M219.8 101.2v-0.9M221.1 101.2v-0.9M222.2 101.2v-0.9M223.1 101.2v-0.9M229.7 101.2v-0.9M233.1 101.2v-0.9M235.4 101.2v-0.9M237.3 101.2v-0.9M238.8 101.2v-0.9M240.1 101.2v-0.9M241.2 101.2v-0.9M242.1 101.2v-0.9M167.0 95.2h0.9M167.0 91.8h0.9M167.0 89.3h0.9M167.0 87.4h0.9M167.0 85.8h0.9M167.0 84.5h0.9M167.0 83.3h0.9M167.0 82.3h0.9M167.0 75.5h0.9M167.0 72.0h0.9M167.0 69.5h0.9M167.0 67.6h0.9M167.0 66.0h0.9M167.0 64.7h0.9M167.0 63.6h0.9M167.0 62.6h0.9M167.0 55.7h0.9M167.0 52.2h0.9M167.0 49.7h0.9M167.0 47.8h0.9M167.0 46.3h0.9M167.0 44.9h0.9M167.0 43.8h0.9M167.0 42.8h0.9M167.0 35.9h0.9M167.0 32.4h0.9M167.0 30.0h0.9M167.0 28.1h0.9M167.0 26.5h0.9M167.0 25.2h0.9M167.0 24.0h0.9M167.0 23.0h0.9M167.0 101.2v1.3M186.0 101.2v1.3M205.0 101.2v1.3M224.0 101.2v1.3M243.0 101.2v1.3M167.0 101.2h-1.3M167.0 81.4h-1.3M167.0 61.7h-1.3M167.0 41.9h-1.3M167.0 22.1h-1.3" stroke="#666" stroke-width="0.5" fill="none"/>
<text x="166.4" y="107.7" class="SN" font-size="3.4" text-anchor="middle" fill="#333">10<tspan dy="-1.6" font-size="2.5">0</tspan></text>
<text x="164.4" y="101.5" class="SN" font-size="3.4" text-anchor="middle" fill="#333" transform="rotate(-90 164.4 101.5)">10<tspan dy="-1.6" font-size="2.5">0</tspan></text>
<text x="185.4" y="107.7" class="SN" font-size="3.4" text-anchor="middle" fill="#333">10<tspan dy="-1.6" font-size="2.5">1</tspan></text>
<text x="164.4" y="81.7" class="SN" font-size="3.4" text-anchor="middle" fill="#333" transform="rotate(-90 164.4 81.7)">10<tspan dy="-1.6" font-size="2.5">1</tspan></text>
<text x="204.4" y="107.7" class="SN" font-size="3.4" text-anchor="middle" fill="#333">10<tspan dy="-1.6" font-size="2.5">2</tspan></text>
<text x="164.4" y="62.0" class="SN" font-size="3.4" text-anchor="middle" fill="#333" transform="rotate(-90 164.4 62.0)">10<tspan dy="-1.6" font-size="2.5">2</tspan></text>
<text x="223.4" y="107.7" class="SN" font-size="3.4" text-anchor="middle" fill="#333">10<tspan dy="-1.6" font-size="2.5">3</tspan></text>
<text x="164.4" y="42.2" class="SN" font-size="3.4" text-anchor="middle" fill="#333" transform="rotate(-90 164.4 42.2)">10<tspan dy="-1.6" font-size="2.5">3</tspan></text>
<text x="242.4" y="107.7" class="SN" font-size="3.4" text-anchor="middle" fill="#333">10<tspan dy="-1.6" font-size="2.5">4</tspan></text>
<text x="164.4" y="22.4" class="SN" font-size="3.4" text-anchor="middle" fill="#333" transform="rotate(-90 164.4 22.4)">10<tspan dy="-1.6" font-size="2.5">4</tspan></text>
<text x="201.6" y="110.8" class="SN" font-size="3.3" text-anchor="middle" fill="#333">IFN-g FITC</text>
<text x="159.0" y="62.4" class="SN" font-size="3.3" text-anchor="middle" fill="#333" transform="rotate(-90 159.0 62.4)">CD4 APC</text>
<text x="213.2" y="121.5" class="S" font-size="6.2" text-anchor="middle" textLength="120.1" lengthAdjust="spacingAndGlyphs">+ 1 µg/mL autologous GT4 p26 (aa261-280)</text>
<text x="1.5" y="143.0" class="S" font-size="10.8" textLength="6.1" lengthAdjust="spacingAndGlyphs">B</text>
<text x="15.4" y="143.3" class="R" font-size="9.3" textLength="299" lengthAdjust="spacing">CD4<tspan dy="-3.4" font-size="9">+</tspan><tspan dy="3.4"> T</tspan><tspan dx="0.7">-</tspan><tspan dx="0.7">cell line stimulated with autologous GT4</tspan><tspan dx="0.7">-</tspan><tspan dx="0.7">specific p26 (aa261-280)</tspan></text>
<rect x="49.7" y="160.3" width="75.9" height="80.0" fill="none" stroke="#555" stroke-width="0.7"/>
<line x1="71.4" y1="160.3" x2="71.4" y2="240.3" stroke="#666" stroke-width="0.7"/>
<line x1="49.7" y1="213.0" x2="125.6" y2="213.0" stroke="#666" stroke-width="0.7"/>
<path d="M61.0 197.0h.3M54.7 205.4h.3M50.3 202.9h.3M57.2 184.8h.3M50.4 203.0h.3M55.7 214.4h.3M61.1 190.1h.3M56.9 185.4h.3M56.5 209.1h.3M51.1 188.7h.3M62.0 189.5h.3M54.1 217.6h.3M61.5 196.2h.3M52.3 216.3h.3M52.2 201.5h.3M58.4 204.7h.3M59.9 192.6h.3M51.6 189.7h.3M55.9 206.8h.3M50.9 210.5h.3M64.4 190.1h.3M60.6 203.9h.3M58.0 196.2h.3M60.4 190.3h.3M56.7 190.9h.3M53.3 192.6h.3M62.2 201.9h.3M63.3 194.8h.3M56.3 187.4h.3M60.5 201.0h.3M51.3 202.2h.3M56.2 191.4h.3M50.5 210.6h.3M56.9 204.0h.3M51.8 200.4h.3M62.8 188.3h.3M52.9 201.0h.3M60.1 199.7h.3M53.0 216.2h.3M54.9 193.3h.3M58.9 191.0h.3M53.5 188.0h.3M51.1 191.8h.3M55.4 215.4h.3M60.7 193.8h.3M61.3 200.8h.3M52.0 196.4h.3M55.9 194.0h.3M55.1 209.0h.3M61.7 191.0h.3M58.0 210.3h.3M56.5 193.6h.3M61.5 196.2h.3M60.5 185.4h.3M56.7 198.7h.3M60.8 201.6h.3M62.8 198.6h.3M57.5 194.9h.3M56.0 199.9h.3M52.8 212.4h.3M62.6 187.1h.3M54.9 194.2h.3M60.5 196.1h.3M57.9 185.6h.3M53.6 199.1h.3M61.2 201.7h.3M58.3 187.2h.3M61.1 195.0h.3M58.4 189.9h.3M54.2 191.3h.3M56.1 204.5h.3M52.8 214.0h.3M59.5 207.2h.3M55.1 208.8h.3M59.4 184.2h.3M54.2 206.0h.3M63.0 193.2h.3M56.0 200.6h.3M58.0 193.2h.3M58.4 187.6h.3M56.1 204.0h.3M63.4 193.6h.3M50.7 201.6h.3M60.9 203.7h.3M53.8 191.5h.3M54.2 194.4h.3M61.1 203.5h.3M62.7 195.4h.3M53.7 206.5h.3M58.5 199.3h.3M55.5 187.5h.3M53.8 199.6h.3M52.0 189.0h.3M54.6 203.0h.3M57.3 187.1h.3M54.8 201.8h.3M51.4 211.7h.3M50.6 204.4h.3M51.4 191.2h.3M51.3 192.4h.3M61.5 190.8h.3M53.0 215.0h.3M59.7 194.7h.3M50.5 215.3h.3M56.8 186.0h.3M51.4 200.9h.3M55.5 189.9h.3M63.5 192.3h.3M58.2 205.3h.3M55.8 196.4h.3M60.0 189.6h.3M52.0 219.5h.3M58.7 197.8h.3M59.1 197.7h.3M55.3 186.9h.3M62.4 201.0h.3M52.7 204.4h.3M50.2 193.7h.3M56.0 201.0h.3M50.9 198.5h.3M59.2 192.1h.3M60.5 195.4h.3M62.4 200.1h.3M55.5 190.0h.3M62.8 186.4h.3M60.8 196.1h.3M62.4 194.6h.3M54.9 199.1h.3M51.0 187.3h.3M52.6 193.3h.3M62.2 198.6h.3M54.2 207.8h.3M61.6 186.2h.3M57.9 199.0h.3M52.1 217.3h.3M62.5 186.5h.3M52.1 215.3h.3M58.0 207.3h.3M53.4 204.4h.3M54.4 196.2h.3M57.4 187.3h.3M52.4 218.0h.3M56.6 205.2h.3M57.4 183.7h.3M56.9 200.5h.3M56.8 194.3h.3M58.6 201.1h.3M58.8 195.5h.3M52.6 199.8h.3M53.2 195.0h.3M57.5 193.7h.3M60.9 202.4h.3M53.0 210.1h.3M60.1 203.6h.3M53.1 205.5h.3M53.1 201.3h.3M53.7 186.4h.3M60.8 185.5h.3M60.4 187.8h.3M55.6 196.4h.3M61.3 191.0h.3M59.8 186.4h.3M50.5 201.3h.3M61.5 198.9h.3M53.1 190.2h.3M56.5 199.7h.3M62.0 187.7h.3M51.5 195.4h.3M50.6 197.5h.3M56.8 192.6h.3M56.9 200.2h.3M51.9 209.9h.3M57.7 205.8h.3M60.9 196.5h.3M63.2 193.0h.3M56.6 189.3h.3M52.1 214.4h.3M59.7 196.3h.3M53.9 200.6h.3M61.3 197.5h.3M61.8 185.0h.3M64.3 189.7h.3M53.8 197.3h.3M53.5 203.6h.3M54.8 189.8h.3M61.5 198.2h.3M57.5 192.5h.3M57.0 191.5h.3M51.8 202.8h.3M50.9 192.6h.3M51.6 199.8h.3M53.1 193.7h.3M55.8 189.4h.3M56.0 208.0h.3M58.1 210.7h.3M55.8 188.4h.3M52.3 197.2h.3M53.6 205.7h.3M54.8 186.1h.3M58.1 206.1h.3M50.5 206.8h.3M62.3 201.3h.3M52.1 201.5h.3M52.9 217.3h.3M60.0 190.0h.3M50.5 207.2h.3M58.1 206.0h.3M52.0 199.7h.3M63.7 197.3h.3M56.8 201.1h.3M58.1 204.0h.3M52.2 209.1h.3M64.7 199.4h.3M53.3 195.1h.3M58.5 194.8h.3M54.1 192.5h.3M62.6 190.9h.3M62.6 192.8h.3M55.1 191.3h.3M61.4 187.4h.3M52.6 205.3h.3M56.7 212.6h.3M62.0 199.4h.3M54.0 196.4h.3M60.7 203.0h.3M51.7 199.4h.3M51.9 202.7h.3M55.1 214.6h.3M50.2 196.2h.3M56.4 200.1h.3M51.6 202.1h.3M61.7 192.6h.3M57.7 206.4h.3M52.6 206.2h.3M56.5 207.6h.3M51.4 203.3h.3M53.7 214.1h.3M59.3 199.1h.3M52.4 194.4h.3M65.2 195.3h.3M61.0 186.0h.3M50.4 199.9h.3M56.5 189.6h.3M65.4 194.8h.3M54.7 208.2h.3M54.7 215.8h.3M55.6 207.8h.3M56.7 184.0h.3M57.6 209.2h.3M60.1 181.3h.3M51.7 208.1h.3M53.9 199.2h.3M51.0 218.6h.3M59.4 198.8h.3M56.5 213.7h.3M59.6 199.6h.3M53.7 199.2h.3M52.9 207.6h.3M51.8 198.9h.3M53.9 208.8h.3M53.5 211.4h.3M58.3 187.7h.3M55.0 206.1h.3M61.1 195.9h.3M52.7 190.3h.3M56.0 215.2h.3M52.5 216.0h.3M53.6 200.0h.3M55.5 209.8h.3M57.7 206.7h.3M51.4 208.2h.3M63.1 196.0h.3M57.3 187.8h.3M57.1 197.5h.3M50.9 193.0h.3M54.2 196.0h.3M51.8 208.7h.3M57.6 196.5h.3M60.4 200.9h.3M59.4 191.3h.3M50.5 207.6h.3M57.0 197.4h.3M63.7 187.0h.3M55.0 211.7h.3M59.4 198.1h.3M58.3 196.8h.3M64.0 197.3h.3M61.9 190.5h.3M54.7 190.0h.3M55.9 204.2h.3M58.7 185.7h.3M51.0 191.4h.3M50.2 187.9h.3M63.8 192.7h.3M62.4 192.6h.3M55.9 184.9h.3M53.7 191.1h.3M51.8 206.0h.3M52.9 215.3h.3M51.1 189.2h.3M54.3 207.5h.3M56.7 190.0h.3M54.7 213.2h.3M53.0 199.2h.3M64.0 194.6h.3M52.2 218.4h.3M56.8 191.4h.3M57.6 198.1h.3M53.1 209.9h.3M59.4 198.4h.3M60.2 189.0h.3M59.6 200.7h.3M55.9 206.4h.3M57.7 190.8h.3M54.1 210.5h.3M62.5 198.1h.3M54.8 186.3h.3M59.2 186.3h.3M52.7 194.4h.3M54.8 213.9h.3M54.0 194.5h.3M51.3 201.1h.3M54.3 197.4h.3M58.1 188.8h.3M54.3 205.4h.3M57.9 206.0h.3M55.3 207.8h.3M61.8 187.6h.3M55.5 191.9h.3M60.8 196.3h.3M59.2 206.0h.3M60.0 189.3h.3M59.6 198.6h.3M53.9 192.2h.3M53.1 206.8h.3M54.9 214.5h.3M51.5 204.8h.3M64.6 194.6h.3M55.8 192.2h.3M58.3 207.0h.3M53.4 203.6h.3M52.6 194.9h.3M51.2 200.2h.3M56.2 206.7h.3M51.8 188.8h.3M54.2 207.1h.3M52.1 203.1h.3M62.6 195.7h.3M64.8 191.9h.3M55.5 213.1h.3M60.7 203.5h.3M55.6 205.2h.3M54.7 187.5h.3M54.5 204.5h.3M54.4 202.1h.3M58.4 202.5h.3M51.5 202.7h.3M60.3 190.7h.3M57.9 188.7h.3M61.0 195.1h.3M52.5 209.7h.3M50.6 221.0h.3M58.3 188.2h.3M61.3 194.7h.3M53.1 200.5h.3M53.7 199.7h.3M61.3 196.4h.3M51.7 190.4h.3M63.6 188.6h.3M52.2 186.9h.3M50.2 206.0h.3M60.8 193.8h.3M52.2 195.7h.3M54.2 199.5h.3M52.4 216.3h.3M54.9 205.9h.3M61.2 202.3h.3M59.6 186.0h.3M61.4 195.6h.3M62.9 196.0h.3M59.9 183.5h.3M53.6 189.3h.3M61.6 190.6h.3M61.0 186.8h.3M56.6 196.6h.3M61.6 195.1h.3M55.5 215.7h.3M52.8 216.2h.3M59.3 188.4h.3M54.1 191.1h.3M56.3 206.0h.3M52.8 189.5h.3M56.2 186.4h.3M55.3 201.8h.3M51.8 202.6h.3M60.8 195.6h.3M61.9 185.2h.3M50.2 214.4h.3M50.2 199.8h.3M55.6 209.4h.3M61.0 185.3h.3M53.0 200.2h.3M57.8 197.2h.3M51.3 198.4h.3M54.8 218.5h.3M58.0 195.7h.3M59.9 185.8h.3M58.0 205.5h.3M52.0 197.8h.3M60.1 198.7h.3M60.1 186.6h.3M51.6 220.3h.3M62.7 195.5h.3M58.7 193.7h.3M58.2 192.3h.3M53.3 216.7h.3M58.7 201.2h.3M58.9 202.9h.3M56.7 209.0h.3M51.1 202.8h.3M53.3 214.0h.3M54.2 212.5h.3M56.9 198.8h.3M59.6 192.7h.3M60.8 198.0h.3M56.5 209.6h.3M53.9 215.7h.3M61.7 194.5h.3M60.8 193.1h.3M61.7 187.7h.3M51.3 189.6h.3M60.0 195.8h.3M58.3 200.8h.3M52.6 213.8h.3M56.5 201.4h.3M55.9 203.4h.3M61.5 203.0h.3M58.8 194.2h.3M54.8 200.3h.3M58.5 206.5h.3M54.3 191.6h.3M58.2 204.7h.3M58.5 186.8h.3M54.5 214.1h.3M55.5 194.0h.3M52.1 194.6h.3M56.5 211.5h.3M61.5 188.4h.3M59.7 201.0h.3M54.9 197.9h.3M53.7 203.9h.3M60.8 195.8h.3M57.1 206.5h.3M56.8 185.2h.3M51.4 218.9h.3M57.6 202.3h.3M62.9 190.2h.3M62.3 191.5h.3M53.8 190.1h.3M58.7 194.7h.3M53.1 195.6h.3M55.3 194.4h.3M58.6 198.5h.3M63.9 189.5h.3M59.3 184.5h.3M50.3 206.6h.3M55.1 199.9h.3M58.9 190.1h.3M53.1 218.5h.3M57.3 195.8h.3M56.9 201.5h.3M57.7 206.6h.3M50.2 213.9h.3M60.3 202.2h.3M54.0 192.8h.3M53.2 201.8h.3M56.0 205.3h.3M53.1 199.2h.3M62.6 193.2h.3M50.6 214.8h.3M55.6 215.9h.3M53.1 187.2h.3M58.1 199.3h.3M59.8 204.4h.3M55.0 207.0h.3M55.1 203.3h.3M61.0 203.3h.3M50.4 196.4h.3M58.0 183.9h.3M51.6 215.1h.3M50.2 190.0h.3M62.3 193.7h.3M52.1 213.0h.3M59.0 209.1h.3M57.3 201.1h.3M57.6 191.1h.3M51.4 215.0h.3M55.7 205.4h.3M56.6 201.3h.3M57.7 198.7h.3M55.2 206.7h.3M52.0 199.4h.3M59.1 190.2h.3M64.2 196.2h.3M56.7 211.7h.3M54.6 192.4h.3M52.5 206.7h.3M61.8 195.6h.3M56.4 213.2h.3M51.2 214.1h.3M60.6 194.1h.3M55.1 207.9h.3M62.3 188.5h.3M60.1 202.3h.3M61.6 197.4h.3M66.3 193.9h.3M57.4 197.7h.3M51.9 211.5h.3M59.5 205.5h.3M52.9 201.0h.3M52.0 208.9h.3M59.4 204.9h.3M51.0 201.2h.3M61.2 196.6h.3M61.1 200.8h.3M56.0 200.4h.3M64.9 188.3h.3M52.8 216.3h.3M53.1 190.6h.3M56.2 198.4h.3M55.7 186.0h.3M64.9 197.2h.3M51.6 192.1h.3M53.2 214.2h.3M51.7 194.0h.3M55.9 191.4h.3M57.1 195.2h.3M56.4 209.9h.3M57.1 209.0h.3M54.2 196.5h.3M58.2 185.7h.3M51.1 196.7h.3M57.5 206.6h.3M50.6 213.7h.3M57.0 205.4h.3M59.8 194.0h.3M52.8 192.8h.3M62.4 195.5h.3M55.3 215.2h.3M57.5 196.7h.3M64.1 195.1h.3M57.7 201.0h.3M51.0 206.6h.3M61.8 194.2h.3M59.1 205.3h.3M50.9 197.7h.3M59.7 192.3h.3M54.8 212.1h.3M60.6 200.6h.3M57.2 185.4h.3M61.9 188.8h.3M62.1 194.9h.3M65.0 193.3h.3M50.2 206.0h.3M58.4 197.0h.3M50.4 198.6h.3M55.2 187.2h.3M58.9 192.7h.3M51.1 220.5h.3M59.1 203.3h.3M63.4 202.3h.3M59.9 183.5h.3M58.5 183.0h.3M53.7 207.4h.3M58.4 194.0h.3M56.0 213.2h.3M51.6 192.5h.3M54.2 210.4h.3M63.1 185.3h.3M52.3 188.3h.3M57.9 204.2h.3M63.2 193.8h.3M60.5 194.9h.3M50.8 189.9h.3M55.8 198.4h.3M51.9 202.4h.3M56.4 201.3h.3M50.8 203.4h.3M57.7 192.4h.3M52.1 198.7h.3M62.6 197.7h.3M56.5 197.8h.3M50.2 205.6h.3M53.1 198.8h.3M59.0 192.6h.3M52.5 202.1h.3M61.9 188.5h.3M59.0 190.8h.3M51.0 198.9h.3M60.1 185.2h.3M51.1 207.9h.3M63.1 194.1h.3M63.1 184.0h.3M52.7 189.9h.3M50.2 206.0h.3M59.2 191.6h.3M58.5 184.2h.3M55.6 200.8h.3M56.1 208.7h.3M50.3 204.8h.3M51.0 196.3h.3M58.1 187.3h.3M55.6 215.0h.3M51.5 212.6h.3M56.3 186.3h.3M55.5 200.8h.3M53.0 209.5h.3M62.8 188.0h.3M56.8 210.1h.3M58.2 209.6h.3M58.7 188.6h.3M52.5 189.0h.3M54.9 213.0h.3M52.3 212.2h.3M58.3 207.2h.3M58.9 198.8h.3M54.8 194.6h.3M59.3 187.4h.3M54.0 187.4h.3M50.8 203.6h.3M55.0 213.0h.3M52.2 195.0h.3M58.9 186.6h.3M58.9 185.1h.3M56.8 217.2h.3M58.3 200.6h.3M57.7 185.5h.3M50.5 215.4h.3M52.7 202.0h.3M53.4 193.7h.3M56.5 209.8h.3M58.1 189.2h.3M55.6 196.1h.3M53.9 190.8h.3M53.8 210.8h.3M58.7 189.4h.3M50.5 220.1h.3M60.8 196.4h.3M56.9 183.3h.3M51.3 190.4h.3M58.8 206.2h.3M55.2 195.8h.3M62.1 203.3h.3M59.8 203.7h.3M55.9 213.0h.3M62.6 198.1h.3M58.2 205.8h.3M52.9 194.7h.3M52.3 189.3h.3M63.2 193.9h.3M61.5 190.6h.3M62.1 201.1h.3M54.9 215.9h.3M60.3 209.0h.3M54.2 202.8h.3M58.0 201.5h.3M63.9 190.8h.3M56.8 185.9h.3M54.8 193.2h.3M55.0 189.2h.3M53.5 202.3h.3M54.6 202.0h.3M52.9 202.2h.3M52.4 202.8h.3M55.6 186.3h.3M63.1 194.9h.3M55.5 211.5h.3M56.2 195.4h.3M59.1 196.3h.3M55.8 201.1h.3M60.8 203.1h.3M62.4 187.3h.3M50.2 191.7h.3M63.3 193.9h.3M54.3 200.6h.3M58.7 198.4h.3M50.7 206.6h.3M63.8 192.8h.3M51.4 188.2h.3M59.8 196.9h.3M50.2 195.0h.3M60.3 200.4h.3M54.1 188.8h.3M52.0 219.2h.3M64.3 186.4h.3M54.1 203.8h.3M63.0 191.1h.3M53.6 190.1h.3M59.5 185.6h.3M61.5 196.9h.3M55.9 192.4h.3M56.6 183.8h.3M61.3 187.7h.3M54.3 212.7h.3M51.1 209.5h.3M55.7 206.4h.3M53.5 189.6h.3M61.1 194.4h.3M55.5 214.6h.3M54.6 201.5h.3M59.1 184.1h.3M60.3 203.9h.3M57.2 212.4h.3M54.4 203.5h.3M51.5 216.8h.3M52.3 188.7h.3M54.0 190.3h.3M57.1 201.6h.3M51.6 188.6h.3M57.2 189.7h.3M55.2 212.0h.3M61.6 190.9h.3M51.9 188.3h.3M53.8 200.6h.3M63.4 199.7h.3M55.5 187.0h.3M52.5 206.8h.3M50.2 198.3h.3M57.2 203.0h.3M55.0 187.3h.3M55.1 185.9h.3M53.1 188.7h.3M52.8 196.0h.3M51.2 210.8h.3M61.7 199.5h.3M57.9 194.4h.3M50.2 202.2h.3M55.2 199.7h.3M51.6 200.1h.3M59.5 202.8h.3M53.5 207.3h.3M62.4 199.2h.3M63.1 194.8h.3M57.4 206.1h.3M50.3 201.0h.3M63.5 190.9h.3M59.2 203.4h.3M61.7 191.7h.3M53.7 204.8h.3M61.4 191.0h.3M53.7 193.2h.3M59.2 193.2h.3M57.3 197.7h.3M62.2 188.8h.3M55.6 213.6h.3M50.2 198.5h.3M60.2 192.3h.3M50.2 212.0h.3M52.9 203.7h.3M60.5 205.2h.3M61.1 186.7h.3M57.6 204.3h.3M54.9 199.1h.3M57.7 205.4h.3M63.1 194.0h.3M51.3 207.3h.3M61.4 191.2h.3M63.3 191.4h.3M51.6 216.5h.3M61.4 190.1h.3M50.2 190.4h.3M57.2 184.9h.3M60.1 200.7h.3M54.4 189.7h.3M50.4 206.5h.3M60.7 188.0h.3M61.4 195.6h.3M62.1 187.5h.3M64.0 191.8h.3M60.8 187.5h.3M51.1 203.9h.3M55.9 201.6h.3M60.7 194.7h.3M60.0 204.1h.3M58.1 203.4h.3M54.2 190.9h.3M53.2 216.4h.3M57.9 199.3h.3M57.5 195.7h.3M62.3 200.2h.3M60.0 198.1h.3M55.9 193.7h.3M53.7 192.3h.3M53.1 207.3h.3M52.8 212.1h.3M57.6 200.0h.3M61.9 193.9h.3M56.8 192.3h.3M55.7 204.1h.3M59.9 185.0h.3M60.5 189.1h.3M59.5 187.8h.3M60.4 193.7h.3M56.9 205.4h.3M60.1 189.7h.3M55.3 216.2h.3M54.0 203.5h.3M61.7 202.5h.3M58.9 203.4h.3M61.2 191.0h.3M57.1 191.9h.3M56.4 204.8h.3M61.1 188.5h.3M62.6 185.0h.3M56.5 195.6h.3M54.3 211.0h.3M57.8 196.2h.3M60.7 195.6h.3M56.1 201.6h.3M58.7 193.6h.3M58.9 200.4h.3M50.2 190.1h.3M59.0 185.7h.3M51.5 199.5h.3M61.4 185.9h.3M61.6 190.6h.3M56.8 200.0h.3M61.7 200.5h.3M55.2 185.7h.3M63.4 187.6h.3M58.3 185.8h.3M58.6 196.4h.3M55.2 215.4h.3M62.5 193.1h.3M58.2 196.0h.3M52.1 208.1h.3M58.5 202.8h.3M52.8 199.9h.3M53.3 196.1h.3M56.0 202.8h.3M56.1 211.7h.3M58.8 202.6h.3M54.5 217.4h.3M56.7 186.9h.3M52.6 186.6h.3M52.2 189.0h.3M55.9 190.7h.3M53.6 208.2h.3M62.7 196.2h.3M53.2 217.5h.3M55.7 197.4h.3M57.2 191.7h.3M60.0 196.8h.3M57.5 201.4h.3M54.3 195.6h.3M54.5 215.2h.3M62.7 198.0h.3M53.4 211.3h.3M59.4 202.4h.3M53.8 209.2h.3M53.4 189.1h.3M55.2 197.4h.3M51.4 219.5h.3M57.3 187.5h.3M51.7 196.2h.3M51.3 203.4h.3M54.6 206.4h.3M50.8 191.0h.3M53.4 200.3h.3M58.6 183.2h.3M55.5 187.8h.3M56.1 200.2h.3M52.9 205.5h.3M52.3 214.4h.3M52.6 202.0h.3M55.9 208.8h.3M50.2 212.7h.3M55.8 211.5h.3M50.6 199.0h.3M60.7 193.0h.3M62.3 199.5h.3M51.5 209.9h.3M52.8 197.5h.3M55.6 202.4h.3M50.2 208.7h.3M51.3 206.7h.3M55.6 198.1h.3M60.4 186.4h.3M60.4 191.4h.3M54.0 205.2h.3M53.0 195.3h.3M57.1 201.0h.3M61.4 196.9h.3M57.9 197.4h.3M50.9 211.5h.3M50.2 208.9h.3M56.6 202.5h.3M57.1 198.5h.3M51.3 219.1h.3M52.8 206.0h.3M51.1 194.8h.3M52.9 205.6h.3M56.2 214.9h.3M53.1 201.9h.3M52.2 189.3h.3M63.5 194.1h.3M52.6 202.5h.3M50.4 212.9h.3M51.1 198.2h.3M62.2 200.2h.3M59.3 202.1h.3M56.8 206.3h.3M62.8 199.9h.3M56.7 205.0h.3M61.8 187.7h.3M55.8 200.3h.3M61.1 196.9h.3M63.8 195.6h.3M50.2 201.9h.3M55.6 186.5h.3M52.6 195.8h.3M57.5 196.7h.3M62.8 198.1h.3M55.9 193.5h.3M59.9 192.7h.3M62.1 189.8h.3M57.6 194.2h.3M57.3 202.8h.3M59.9 206.0h.3M57.1 207.5h.3M60.9 190.5h.3M54.3 202.4h.3M58.0 204.9h.3M61.9 187.2h.3M63.1 188.1h.3M53.1 194.3h.3M57.0 200.5h.3M50.2 191.5h.3M54.0 191.1h.3M53.7 197.6h.3M52.1 192.9h.3M52.7 189.4h.3M50.7 216.1h.3M59.4 200.4h.3M57.0 196.7h.3M55.2 185.4h.3M55.4 193.9h.3M58.6 187.6h.3M53.0 211.6h.3M61.2 192.8h.3M59.3 183.2h.3M54.0 205.1h.3M63.0 190.4h.3M57.3 208.2h.3M52.3 192.9h.3M60.3 189.3h.3M61.4 193.4h.3M65.8 190.8h.3M50.6 210.1h.3M59.5 190.4h.3M52.8 196.8h.3M61.3 200.6h.3M57.4 188.2h.3M59.7 188.8h.3M63.7 192.1h.3M55.5 212.3h.3M55.6 207.8h.3M50.3 215.1h.3M57.6 186.2h.3M53.9 202.3h.3M58.1 196.1h.3M65.2 199.1h.3M51.5 189.5h.3M59.9 209.1h.3M55.3 206.2h.3M53.1 205.3h.3M60.6 187.3h.3M54.5 203.9h.3M59.9 185.6h.3M52.3 212.8h.3M61.4 198.2h.3M62.9 189.2h.3M59.6 198.9h.3M52.6 188.5h.3M60.4 203.5h.3M51.8 208.6h.3M57.1 196.6h.3M53.0 195.8h.3M59.3 195.3h.3M60.8 191.9h.3M57.6 189.3h.3M52.7 215.7h.3M61.5 194.5h.3M63.6 195.6h.3M52.6 217.8h.3M51.8 188.6h.3M52.3 215.7h.3M55.9 214.0h.3M60.9 191.6h.3M53.3 201.5h.3M50.2 204.7h.3M51.1 195.6h.3M52.7 197.7h.3M60.0 184.1h.3M55.3 212.0h.3M54.0 201.7h.3M56.5 200.9h.3M50.2 187.7h.3M59.9 202.2h.3M62.5 193.0h.3M52.7 192.2h.3M54.7 202.1h.3M50.9 196.3h.3M54.6 211.7h.3M62.3 193.9h.3M51.7 198.4h.3M61.2 196.5h.3M61.7 195.6h.3M55.3 189.3h.3M60.2 184.1h.3M51.5 215.2h.3M55.0 214.4h.3M54.3 190.5h.3M56.1 202.7h.3M62.2 185.8h.3M58.4 195.4h.3M62.3 187.2h.3M54.2 214.8h.3M54.3 212.0h.3M56.2 208.0h.3M57.3 191.5h.3M50.8 189.5h.3M58.3 191.1h.3M52.2 187.9h.3M51.8 210.5h.3M62.1 187.7h.3M55.0 210.5h.3M51.1 201.5h.3M51.5 202.2h.3M50.2 196.0h.3M54.8 195.4h.3M50.4 197.0h.3M61.3 199.0h.3M56.4 195.3h.3M53.8 218.6h.3M60.9 202.4h.3M53.8 193.0h.3M59.6 185.0h.3M50.2 209.0h.3M57.8 193.0h.3M58.1 188.6h.3M56.7 204.6h.3M60.6 194.2h.3M54.0 189.7h.3M60.3 194.6h.3M53.6 213.3h.3M55.4 210.5h.3M55.6 205.6h.3M51.8 207.8h.3M58.6 209.9h.3M53.1 210.1h.3M54.3 211.4h.3M57.5 209.4h.3M52.4 199.7h.3M65.0 188.0h.3M51.4 204.2h.3M52.5 192.4h.3M53.5 200.5h.3M55.8 201.8h.3M62.5 191.1h.3M54.1 216.0h.3M56.0 203.6h.3M53.1 214.1h.3M51.1 192.2h.3M54.4 218.2h.3M50.2 199.4h.3M61.2 194.8h.3M56.0 211.2h.3M55.9 205.3h.3M59.2 187.0h.3M58.4 202.4h.3M64.3 192.4h.3M52.2 218.0h.3M59.9 189.1h.3M53.0 201.4h.3M59.9 194.5h.3M51.0 210.0h.3M59.8 203.1h.3M56.1 185.7h.3M51.0 195.0h.3M61.8 193.4h.3M56.3 200.3h.3M63.6 197.1h.3M55.3 199.3h.3M55.7 210.4h.3M57.1 194.8h.3M57.0 205.1h.3M52.1 206.0h.3M57.6 203.6h.3M60.5 190.5h.3M61.2 199.1h.3M54.5 213.4h.3M59.2 191.4h.3M55.5 213.6h.3M61.8 186.7h.3M59.6 191.4h.3M50.2 200.7h.3M55.1 204.3h.3M60.7 188.5h.3M52.9 192.0h.3M52.0 211.8h.3M52.5 196.5h.3M58.6 196.0h.3M56.3 190.6h.3M53.1 200.2h.3M60.3 196.3h.3M60.0 192.3h.3M58.8 204.8h.3M51.8 216.1h.3M62.7 198.1h.3M59.9 199.4h.3M53.0 195.4h.3M51.0 199.9h.3M57.2 205.3h.3M64.4 197.1h.3M52.4 202.4h.3M52.6 200.3h.3M63.8 194.6h.3M57.1 197.0h.3M60.5 183.1h.3M51.2 192.0h.3M56.9 200.5h.3M52.0 202.4h.3M50.2 215.9h.3M50.3 190.3h.3M56.4 211.1h.3M61.9 197.3h.3M54.0 188.5h.3M53.1 204.1h.3M57.6 192.1h.3M52.5 210.4h.3M56.2 195.4h.3M51.7 190.1h.3M58.4 184.6h.3M57.1 194.0h.3M63.2 197.2h.3M53.9 209.8h.3M53.3 195.3h.3M56.5 190.3h.3M55.1 187.6h.3M53.0 194.3h.3M52.6 198.6h.3M59.0 194.8h.3M56.7 192.6h.3M62.3 197.3h.3M62.0 190.2h.3M53.7 195.9h.3M60.6 191.8h.3M55.1 206.1h.3M61.7 195.4h.3M63.8 193.5h.3M55.9 206.6h.3M57.8 202.1h.3M60.2 197.3h.3M58.0 209.0h.3M54.5 195.2h.3M50.7 208.9h.3M50.8 207.9h.3M62.1 193.9h.3M52.2 197.3h.3M63.1 192.5h.3M64.1 196.5h.3M51.7 193.3h.3M52.6 194.9h.3M58.6 201.0h.3M54.9 202.2h.3M51.0 204.8h.3M55.4 212.0h.3M54.9 198.2h.3M54.7 214.3h.3M52.1 187.4h.3M59.6 184.2h.3M56.5 203.9h.3M50.6 196.7h.3M57.4 189.6h.3M54.2 196.7h.3M53.1 201.1h.3M51.4 201.0h.3M55.6 207.8h.3M61.7 189.9h.3M58.5 199.7h.3M62.0 197.6h.3M55.9 203.1h.3M56.6 199.0h.3M52.3 212.4h.3M64.0 189.5h.3M62.5 200.8h.3M52.4 205.3h.3M53.0 192.0h.3M55.6 187.0h.3M53.3 205.9h.3M54.1 199.1h.3M59.0 192.6h.3M55.7 206.6h.3M58.5 186.3h.3M60.3 186.2h.3M57.9 201.4h.3M52.0 193.9h.3M56.6 184.8h.3M51.1 195.7h.3M55.4 198.1h.3M52.9 203.8h.3M55.8 196.3h.3M54.0 203.7h.3M52.7 203.5h.3M61.4 199.9h.3M60.9 207.3h.3M54.4 213.9h.3M54.5 208.0h.3M52.9 190.6h.3M62.5 185.8h.3M54.6 189.3h.3M50.7 199.2h.3M56.1 211.2h.3M61.4 201.0h.3M65.1 192.9h.3M63.5 187.5h.3M56.1 212.7h.3M53.3 214.9h.3M56.2 216.2h.3M62.7 188.0h.3M55.5 202.8h.3M61.4 188.5h.3M55.4 199.8h.3M64.8 196.4h.3M55.5 211.0h.3M59.2 184.4h.3M56.4 183.3h.3M59.4 192.4h.3M50.2 203.1h.3M51.0 210.1h.3M53.0 218.2h.3M53.7 213.9h.3M56.4 209.3h.3M58.7 191.9h.3M55.0 196.0h.3M53.3 190.9h.3M60.8 197.3h.3M53.2 208.4h.3M61.0 197.1h.3M62.8 188.5h.3M57.9 185.3h.3M53.2 199.0h.3M59.2 203.5h.3M53.4 212.8h.3M62.6 202.9h.3M61.6 200.2h.3M63.9 197.1h.3M53.7 205.1h.3M62.3 186.5h.3M54.2 209.9h.3M63.3 188.2h.3M59.9 202.7h.3M55.3 196.2h.3M50.2 212.0h.3M51.3 219.2h.3M64.4 197.1h.3M60.1 196.2h.3M57.3 204.0h.3M58.2 207.1h.3M51.1 216.0h.3M56.7 187.3h.3M61.8 189.1h.3M61.0 192.0h.3M58.7 203.0h.3M50.2 209.2h.3M54.8 199.8h.3M54.2 204.8h.3M52.5 209.6h.3M56.1 195.0h.3M58.8 191.4h.3M53.9 188.0h.3M52.0 198.4h.3M60.1 192.9h.3M55.7 214.0h.3M60.2 184.8h.3M63.3 188.6h.3M60.0 189.6h.3M58.2 188.8h.3M55.9 203.2h.3M50.2 209.2h.3M62.1 194.1h.3M53.1 188.6h.3M51.7 203.9h.3M53.0 196.4h.3M62.6 183.8h.3M55.0 193.5h.3M52.7 207.8h.3M52.0 209.0h.3M57.1 201.5h.3M51.8 212.0h.3M57.9 187.4h.3M59.1 187.1h.3M54.2 192.3h.3M50.2 210.5h.3M61.0 192.4h.3M55.2 197.7h.3M55.2 200.3h.3M55.5 197.6h.3M63.0 197.4h.3M58.2 197.0h.3M55.1 191.3h.3M50.2 219.8h.3M57.4 198.6h.3M52.8 209.2h.3M63.8 187.0h.3M57.6 206.6h.3M57.2 195.5h.3M61.1 194.3h.3M51.6 220.7h.3M51.0 219.4h.3M64.5 192.7h.3M61.8 186.7h.3M58.2 191.9h.3M51.2 188.1h.3M52.5 190.6h.3M61.4 195.6h.3M55.0 188.7h.3M52.5 214.7h.3M53.0 196.0h.3M53.4 201.1h.3M63.1 193.6h.3M56.2 191.9h.3M60.9 201.9h.3M54.4 191.7h.3M52.3 191.7h.3M57.4 196.2h.3M57.5 189.3h.3M61.0 194.7h.3M61.0 189.4h.3M53.0 200.2h.3M56.1 192.1h.3M54.0 206.5h.3M58.5 188.1h.3M50.2 217.4h.3M57.6 200.3h.3M63.3 187.0h.3M59.4 197.5h.3M55.3 186.0h.3M55.0 205.1h.3M60.2 202.6h.3M58.5 202.3h.3M55.8 196.5h.3M52.7 198.3h.3M53.9 192.6h.3M58.3 201.7h.3M55.7 207.4h.3M52.0 193.3h.3M54.2 203.7h.3M53.6 189.0h.3M53.5 213.7h.3M62.5 188.1h.3M50.2 204.0h.3M56.6 199.8h.3M58.0 204.7h.3M57.8 201.0h.3M61.7 188.2h.3M59.5 196.7h.3M53.8 200.8h.3M51.2 200.9h.3M63.9 196.1h.3M56.0 194.0h.3M57.5 199.0h.3M61.6 197.3h.3M57.1 192.6h.3M62.2 194.5h.3M57.3 193.1h.3M56.1 185.2h.3M62.7 190.0h.3M61.3 192.5h.3M55.8 213.7h.3M57.3 184.9h.3M54.9 212.0h.3M53.2 186.4h.3M64.9 184.5h.3M51.3 198.2h.3M59.4 196.7h.3M58.7 192.4h.3M53.3 196.4h.3M56.9 214.5h.3M56.4 196.1h.3M62.7 187.9h.3M55.5 186.5h.3M53.4 216.4h.3M57.4 187.4h.3M54.2 210.2h.3M63.1 182.7h.3M54.2 192.6h.3M50.2 216.5h.3M57.4 185.9h.3M53.8 191.4h.3M50.2 210.1h.3M54.9 188.2h.3M51.4 199.9h.3M65.6 198.4h.3M51.7 217.4h.3M57.5 193.2h.3M50.6 212.6h.3M53.5 218.5h.3M59.8 202.3h.3M52.6 213.3h.3M54.8 204.8h.3M65.8 184.8h.3M52.1 189.4h.3M57.0 217.4h.3M53.4 194.1h.3M50.3 195.3h.3M54.1 205.1h.3M63.0 192.3h.3M54.9 193.8h.3M56.5 199.1h.3M54.7 196.7h.3M61.2 186.4h.3M61.1 193.3h.3M62.9 196.0h.3M53.5 208.8h.3M60.4 202.8h.3M57.3 187.0h.3M57.6 205.2h.3M50.2 209.3h.3M51.1 201.6h.3M62.5 203.8h.3M52.3 206.1h.3M61.6 194.6h.3M50.5 217.7h.3M52.5 200.1h.3M56.7 191.3h.3M53.5 210.3h.3M57.2 188.0h.3M56.5 195.0h.3M51.8 201.2h.3M54.0 216.2h.3M62.6 189.4h.3M52.6 198.0h.3M50.2 215.5h.3M55.2 198.0h.3M51.7 187.8h.3M62.6 193.8h.3M52.0 209.0h.3M51.4 217.3h.3M63.7 191.3h.3M55.4 202.3h.3M55.3 197.2h.3M54.0 201.1h.3M61.7 192.1h.3M58.9 193.2h.3M54.4 205.0h.3M62.8 193.8h.3M60.6 186.3h.3M53.3 214.9h.3M60.4 202.2h.3M57.2 191.5h.3M55.3 193.3h.3M61.6 190.6h.3M54.0 209.3h.3M64.3 189.1h.3M55.5 200.8h.3M53.1 191.7h.3M52.4 188.9h.3M54.1 196.0h.3M55.7 195.5h.3M57.6 214.5h.3M63.7 186.1h.3M58.8 187.0h.3M61.6 189.0h.3M53.2 192.4h.3M59.6 194.9h.3M51.4 205.0h.3M58.3 203.4h.3M52.7 217.1h.3M60.4 200.1h.3M53.0 207.0h.3M61.8 199.5h.3M62.3 191.8h.3M57.5 193.4h.3M54.0 193.9h.3M52.9 210.4h.3M52.2 198.1h.3M58.1 213.6h.3M58.4 183.3h.3M61.7 187.8h.3M54.2 206.1h.3M62.5 197.1h.3M53.6 196.2h.3M53.8 197.5h.3M55.3 199.9h.3M52.1 204.6h.3M53.3 195.3h.3M54.9 197.6h.3M62.9 190.1h.3" stroke="#000" stroke-opacity="0.66" stroke-width="0.7" stroke-linecap="square" fill="none"/>
<path d="M55.3 196.4h.3M54.7 207.4h.3M56.5 194.6h.3M63.7 191.6h.3M57.1 197.0h.3M55.3 193.4h.3M60.7 199.8h.3M51.9 190.8h.3M56.9 199.7h.3M63.2 192.2h.3M61.5 190.1h.3M54.8 191.3h.3M58.9 197.3h.3M54.9 203.8h.3M53.4 202.8h.3M50.9 205.6h.3M53.2 207.1h.3M58.3 193.1h.3M58.4 188.3h.3M51.8 199.0h.3M52.6 203.7h.3M59.6 193.8h.3M58.7 202.5h.3M55.8 207.0h.3M54.3 197.3h.3M58.7 194.5h.3M54.4 204.2h.3M56.5 193.2h.3M57.7 190.3h.3M56.3 190.7h.3M52.7 205.7h.3M57.4 186.6h.3M59.6 191.2h.3M61.2 194.9h.3M57.6 196.4h.3M61.3 192.0h.3M51.3 194.2h.3M51.1 190.4h.3M62.5 199.7h.3M57.9 190.9h.3M50.6 204.2h.3M51.4 191.5h.3M53.0 205.7h.3M57.7 191.7h.3M56.6 189.9h.3M60.9 199.8h.3M52.4 199.0h.3M56.0 188.1h.3M52.8 191.5h.3M60.0 191.4h.3M62.2 193.8h.3M58.4 195.8h.3M52.3 206.8h.3M56.0 202.2h.3M56.9 192.7h.3M61.7 198.2h.3M58.9 190.7h.3M60.4 188.8h.3M52.4 190.4h.3M59.0 192.4h.3M56.2 195.9h.3M53.8 191.8h.3M59.8 190.5h.3M52.0 206.1h.3M52.9 201.6h.3M53.1 188.8h.3M59.5 195.4h.3M54.9 190.8h.3M56.7 207.5h.3M53.0 201.1h.3M59.6 189.9h.3M51.9 194.8h.3M52.7 204.7h.3M56.8 194.2h.3M53.5 195.8h.3M62.5 190.1h.3M59.1 201.3h.3M52.3 189.4h.3M60.5 195.4h.3M60.4 187.3h.3M56.2 190.8h.3M56.3 188.7h.3M52.8 204.8h.3M55.6 191.5h.3M51.1 188.4h.3M51.9 190.9h.3M53.4 191.0h.3M56.8 190.3h.3M51.3 200.0h.3M57.1 190.2h.3M53.5 207.2h.3M52.8 208.5h.3M54.1 193.4h.3M53.9 190.3h.3M55.6 206.0h.3M55.3 204.2h.3M57.8 192.2h.3M52.0 197.8h.3M53.8 198.8h.3M57.0 196.0h.3M57.5 205.5h.3M54.6 195.3h.3M56.9 188.9h.3M53.5 190.5h.3M50.2 204.2h.3M56.0 190.3h.3M53.6 208.9h.3M55.9 199.3h.3M59.4 192.8h.3M57.3 198.2h.3M51.6 195.2h.3M52.7 208.6h.3M57.8 205.3h.3M61.4 192.9h.3M56.6 197.9h.3M56.6 203.7h.3M52.5 203.2h.3M60.2 196.9h.3M55.2 202.5h.3M60.7 191.3h.3M52.5 208.0h.3M52.7 199.4h.3M52.4 189.4h.3M58.1 199.6h.3M59.6 187.8h.3M56.6 196.8h.3M53.5 208.5h.3M60.7 191.6h.3M53.8 199.7h.3M60.2 188.8h.3M56.3 204.3h.3M52.4 196.9h.3M61.5 190.4h.3M56.3 188.6h.3M59.0 203.2h.3M54.9 195.2h.3M51.3 194.8h.3M53.7 204.3h.3M56.4 207.3h.3M58.2 194.2h.3M51.9 194.4h.3M52.3 204.4h.3M52.2 207.2h.3M52.1 194.5h.3M53.2 189.3h.3M59.5 201.0h.3M59.8 192.9h.3M58.8 186.6h.3M56.3 193.1h.3M59.7 192.0h.3M58.7 203.8h.3M56.8 186.9h.3M59.4 187.7h.3M52.3 188.5h.3M56.7 205.5h.3M53.0 194.5h.3M53.7 208.4h.3M55.1 193.2h.3M56.0 191.2h.3M58.3 197.4h.3M58.0 202.9h.3M53.9 191.6h.3M50.9 188.9h.3M53.5 198.2h.3M50.9 205.6h.3M50.6 193.7h.3M57.1 205.8h.3M56.0 194.9h.3M58.2 204.8h.3M54.7 189.8h.3M56.2 198.0h.3M56.9 192.3h.3M59.8 197.4h.3M56.0 192.4h.3M52.1 189.0h.3M56.2 199.4h.3M53.3 205.3h.3M54.3 200.4h.3M51.8 189.6h.3M59.8 195.7h.3M55.4 189.2h.3M51.9 207.3h.3M50.4 203.4h.3M51.5 198.2h.3M61.2 199.6h.3M62.8 192.9h.3M59.2 188.1h.3M57.1 193.5h.3M55.3 193.9h.3M53.2 199.8h.3M60.0 200.2h.3M55.7 194.9h.3M53.6 191.2h.3M61.6 198.3h.3M54.8 188.8h.3M59.3 201.6h.3M51.3 207.6h.3M53.4 190.2h.3M53.4 198.5h.3M57.8 191.3h.3M53.7 206.7h.3M59.1 203.3h.3M60.2 192.6h.3M56.0 196.6h.3M61.0 188.2h.3M57.3 205.1h.3M59.6 199.3h.3M53.4 199.1h.3M53.2 191.0h.3M56.1 203.5h.3M57.3 204.3h.3M58.0 203.4h.3M58.3 198.0h.3M54.2 204.7h.3M55.9 189.5h.3M56.8 206.1h.3M60.1 190.9h.3M58.7 193.2h.3M50.4 201.3h.3M58.3 197.6h.3M54.1 196.0h.3M55.0 198.3h.3M57.0 205.5h.3M56.1 194.5h.3M53.7 196.3h.3M57.7 197.9h.3M57.3 194.1h.3M60.9 191.1h.3M55.2 196.6h.3M58.5 201.2h.3M53.5 189.6h.3M53.0 207.6h.3M55.3 199.0h.3M51.2 204.7h.3M53.2 207.2h.3M57.0 192.5h.3M51.4 198.2h.3M51.8 205.0h.3M56.6 198.7h.3M59.5 198.5h.3M53.0 197.4h.3M51.6 196.4h.3M55.9 197.2h.3M59.6 200.4h.3M52.4 207.4h.3M52.6 193.7h.3M58.2 197.9h.3M52.3 200.4h.3M56.4 203.0h.3M54.7 200.6h.3M51.4 199.2h.3M61.5 191.3h.3M61.0 193.6h.3M59.0 187.2h.3M56.5 193.1h.3M54.1 200.1h.3M58.5 189.2h.3M56.3 201.5h.3M54.7 192.7h.3M52.4 194.9h.3M54.8 200.1h.3M56.1 188.6h.3M51.9 204.1h.3M53.7 206.0h.3M53.2 205.7h.3M54.8 199.0h.3M58.1 193.6h.3M58.6 190.5h.3M50.3 204.6h.3M54.8 196.5h.3M57.7 187.2h.3M56.5 199.0h.3M54.0 191.3h.3M59.5 196.5h.3M56.7 195.3h.3M53.1 199.0h.3M62.7 193.7h.3M51.3 189.6h.3M59.9 193.5h.3M60.9 188.1h.3M57.4 199.7h.3M55.2 201.6h.3M50.2 200.7h.3M61.3 191.3h.3M55.1 192.5h.3M55.5 197.9h.3M51.1 198.3h.3M58.4 190.0h.3M54.0 192.3h.3M55.9 196.2h.3M55.4 202.4h.3M54.3 189.0h.3M61.8 199.9h.3M54.6 199.5h.3M57.5 188.3h.3M53.3 206.2h.3M55.8 198.4h.3M61.8 198.2h.3M51.5 200.5h.3M57.7 188.8h.3M52.0 194.5h.3M52.9 198.9h.3M58.3 188.5h.3M54.8 207.4h.3M52.5 193.4h.3M52.0 192.8h.3M51.3 203.5h.3M55.8 199.5h.3M61.4 196.1h.3M59.8 199.6h.3M57.9 188.6h.3M56.1 200.0h.3M61.6 191.3h.3M52.9 199.0h.3M59.1 201.7h.3M55.4 185.7h.3M60.1 205.3h.3M54.9 195.4h.3M57.8 195.7h.3M52.5 197.9h.3M54.7 207.1h.3M54.5 191.9h.3M59.5 194.9h.3M56.7 189.7h.3M58.2 195.9h.3M57.9 197.8h.3M61.2 190.0h.3M51.2 192.0h.3M52.1 205.8h.3M60.9 193.6h.3M54.6 190.9h.3M60.6 194.0h.3M50.6 203.8h.3M56.8 188.0h.3M57.8 192.3h.3M52.0 207.0h.3M60.2 198.7h.3M55.6 188.6h.3M54.2 190.9h.3M52.9 192.8h.3M54.6 205.5h.3M58.2 190.2h.3M55.5 197.8h.3M54.9 192.3h.3M58.1 202.3h.3M55.5 205.8h.3M58.6 190.1h.3M50.8 201.9h.3M58.0 186.9h.3M52.1 197.2h.3M52.9 191.8h.3M54.5 199.4h.3M57.6 196.2h.3M58.1 202.5h.3M53.9 204.1h.3M52.0 194.6h.3M54.9 204.7h.3M53.9 194.0h.3M52.8 201.2h.3M56.6 192.5h.3M55.1 204.7h.3M58.5 189.4h.3M55.1 202.9h.3M60.7 198.9h.3M57.4 194.2h.3M54.1 195.6h.3M61.3 192.7h.3M54.3 198.3h.3M60.3 192.5h.3M53.1 198.5h.3M52.7 194.5h.3M54.4 205.1h.3M55.0 200.2h.3M56.5 205.3h.3M55.3 189.2h.3M54.4 206.8h.3M53.3 202.7h.3M56.6 196.3h.3M55.2 204.0h.3M51.4 201.6h.3M57.9 194.5h.3M52.6 204.2h.3M54.7 194.2h.3M55.3 198.9h.3M59.5 188.5h.3M58.6 191.1h.3M58.0 193.4h.3M61.5 190.5h.3M57.2 198.3h.3M51.9 203.8h.3M53.5 195.8h.3M57.4 198.5h.3M55.6 198.4h.3M53.7 194.4h.3M56.8 189.2h.3M56.6 192.4h.3M56.7 195.7h.3M61.5 192.3h.3M53.7 194.7h.3M56.0 197.0h.3M55.9 196.1h.3M54.3 207.3h.3M58.8 196.7h.3M55.7 209.1h.3M54.9 197.9h.3M54.0 193.2h.3M60.3 193.6h.3M55.6 200.4h.3M52.2 194.7h.3M55.5 201.2h.3M53.1 201.1h.3M59.6 197.4h.3M53.6 195.8h.3M60.4 193.8h.3M53.1 194.4h.3M51.0 190.7h.3M53.1 200.1h.3M57.6 204.1h.3M53.8 206.2h.3M51.4 194.2h.3M57.1 205.6h.3M52.7 206.2h.3M54.9 196.3h.3M53.7 192.6h.3M54.6 192.5h.3M56.5 206.9h.3M59.1 193.5h.3M50.2 190.3h.3M51.9 201.2h.3M52.9 192.4h.3M57.6 200.3h.3M60.2 197.0h.3M56.2 190.2h.3M53.7 207.2h.3M54.5 200.7h.3M59.1 198.1h.3M56.2 190.1h.3M56.3 189.3h.3M59.0 196.5h.3M55.4 204.4h.3M53.5 195.9h.3M50.9 203.5h.3M56.3 199.1h.3M58.8 196.6h.3M56.4 199.5h.3M59.4 192.9h.3M58.9 189.5h.3M61.4 193.9h.3M55.6 196.5h.3M60.3 187.2h.3M55.6 195.2h.3M50.2 199.4h.3M50.9 200.7h.3M59.5 200.1h.3M52.1 200.7h.3M55.0 200.7h.3M59.1 188.7h.3M58.4 195.9h.3M61.1 189.0h.3M60.9 188.4h.3M59.7 198.9h.3M57.3 206.5h.3M52.9 203.9h.3M57.1 204.2h.3M55.1 195.2h.3M51.7 192.3h.3M51.9 209.5h.3M57.3 205.2h.3M51.8 207.4h.3M53.0 198.0h.3M56.9 192.6h.3M59.9 187.3h.3M56.9 199.5h.3M55.8 197.9h.3M54.8 191.9h.3M59.3 188.1h.3M54.4 194.3h.3M61.4 194.7h.3M55.8 189.4h.3M53.1 198.5h.3M54.5 194.8h.3M53.4 188.3h.3M55.7 192.0h.3M54.4 190.7h.3M56.9 195.8h.3M53.4 197.9h.3M53.0 208.4h.3M50.6 198.0h.3M56.9 193.7h.3M54.3 195.6h.3M61.8 192.6h.3M51.9 193.6h.3M56.0 189.8h.3M59.6 194.0h.3M58.3 188.3h.3M54.8 193.6h.3M54.2 187.8h.3M60.1 195.0h.3M56.9 198.7h.3M51.8 196.8h.3" stroke="#000" stroke-opacity="0.62" stroke-width="0.7" stroke-linecap="square" fill="none"/>
<path d="M64.0 199.9h.3M63.2 197.0h.3M62.2 199.2h.3M64.4 204.0h.3M64.2 201.8h.3M65.6 196.8h.3M65.5 196.3h.3M63.7 193.9h.3M65.1 197.4h.3M65.2 200.6h.3M59.8 208.7h.3M59.8 203.5h.3M63.9 204.5h.3M62.9 204.6h.3M65.7 192.6h.3M61.7 204.9h.3M63.3 192.4h.3M64.6 191.7h.3M61.8 197.5h.3M60.4 204.5h.3M61.0 205.3h.3M59.1 200.3h.3M60.5 207.4h.3M63.3 197.6h.3M64.8 197.7h.3M62.7 191.8h.3M62.1 189.3h.3M61.8 200.5h.3M63.7 195.8h.3M61.4 202.4h.3M63.9 199.5h.3M63.9 194.4h.3M62.5 202.3h.3M61.3 196.5h.3M58.7 204.2h.3M61.5 195.4h.3M61.7 196.4h.3M63.9 198.6h.3M58.7 209.5h.3M64.8 201.4h.3M64.0 199.8h.3M58.9 202.1h.3M59.8 209.2h.3M62.3 197.1h.3M60.3 196.6h.3M60.5 189.4h.3M59.3 206.1h.3M61.6 190.3h.3M60.1 202.8h.3M59.9 196.1h.3M62.3 203.2h.3M60.9 202.4h.3M63.8 190.2h.3M61.1 203.7h.3M59.0 203.2h.3M57.3 207.1h.3M62.5 203.9h.3M65.1 201.8h.3M60.5 200.6h.3M65.8 193.0h.3M62.1 192.5h.3M58.7 193.6h.3M65.5 192.7h.3M64.7 204.0h.3M63.0 204.6h.3M59.7 196.8h.3M62.9 198.3h.3M65.0 199.8h.3M66.3 191.9h.3M60.6 202.6h.3M64.2 191.9h.3M60.6 204.8h.3M63.4 193.0h.3M62.8 200.7h.3M63.9 194.5h.3M65.1 195.4h.3M58.6 205.7h.3M61.3 191.6h.3M63.1 195.0h.3M62.2 192.9h.3M66.3 203.6h.3M62.7 202.9h.3M65.9 192.9h.3M61.4 202.3h.3M67.0 193.5h.3M61.5 197.3h.3M61.4 196.8h.3M57.9 206.5h.3M62.7 197.2h.3M63.1 195.3h.3M60.9 201.4h.3M60.6 207.4h.3M61.1 210.0h.3M63.0 198.6h.3M63.2 191.0h.3M60.2 206.5h.3M60.5 196.2h.3M60.6 207.0h.3M63.7 199.3h.3M60.8 198.4h.3" stroke="#000" stroke-opacity="0.35" stroke-width="0.7" stroke-linecap="square" fill="none"/>
<path d="M52.7 227.9h.3M53.0 215.4h.3M62.9 233.2h.3M61.4 212.1h.3M60.8 227.3h.3M58.3 231.4h.3M58.7 239.1h.3M57.2 231.1h.3M62.2 230.5h.3M51.4 231.4h.3M51.5 235.4h.3M53.8 225.2h.3M60.7 217.6h.3M56.6 216.7h.3M51.6 212.4h.3M53.5 228.5h.3M50.4 211.4h.3M54.9 228.8h.3M61.2 215.6h.3M61.1 238.9h.3M55.9 231.1h.3M54.0 211.6h.3M53.7 219.0h.3M62.1 226.1h.3M60.7 238.9h.3M60.7 213.1h.3M57.0 221.2h.3M51.5 235.6h.3M60.5 230.5h.3M60.6 239.0h.3M56.9 230.5h.3M52.0 227.4h.3M56.6 232.9h.3M54.1 218.0h.3M50.9 235.0h.3M51.4 237.6h.3M51.6 217.2h.3M64.5 218.5h.3M61.5 234.4h.3M56.8 225.0h.3M54.4 233.5h.3M50.5 220.7h.3M55.0 230.7h.3M51.3 217.0h.3M51.6 233.8h.3M58.8 226.3h.3M59.1 227.4h.3M62.6 236.9h.3M63.6 222.7h.3M59.2 225.8h.3M59.5 230.3h.3M55.4 214.0h.3M50.9 232.3h.3M53.9 229.2h.3M57.7 218.8h.3M54.2 217.5h.3M61.6 237.2h.3M56.3 205.6h.3M54.5 238.7h.3M57.9 224.3h.3M60.6 226.8h.3M56.8 236.9h.3M56.1 223.7h.3M52.3 238.0h.3M59.8 230.5h.3M57.7 216.3h.3M53.7 238.3h.3M60.2 228.1h.3M59.9 224.5h.3M52.8 231.6h.3M52.9 235.6h.3M58.8 234.4h.3M55.8 221.0h.3M55.2 226.0h.3M51.3 213.8h.3M63.6 227.2h.3M54.2 216.2h.3M50.2 230.6h.3M55.9 232.8h.3M54.2 217.1h.3M59.4 215.0h.3M59.2 225.1h.3M55.7 220.3h.3M57.5 221.6h.3M58.3 222.0h.3M51.8 217.1h.3M54.9 236.1h.3M60.0 211.4h.3M54.5 228.1h.3M63.0 227.6h.3M59.2 228.8h.3M60.1 235.4h.3M59.8 229.6h.3M51.6 239.0h.3M57.7 217.3h.3M59.5 228.2h.3M54.3 224.0h.3M53.7 226.1h.3M53.7 214.7h.3M50.2 223.3h.3M50.2 229.0h.3M56.2 232.6h.3M52.2 225.1h.3M58.4 230.1h.3M60.0 215.7h.3M62.1 223.1h.3M56.5 239.6h.3M60.7 220.3h.3M61.0 214.8h.3M59.7 222.2h.3M60.8 239.5h.3M51.2 229.8h.3M57.6 223.2h.3M52.5 232.4h.3M53.1 233.6h.3M58.1 223.4h.3M56.0 214.6h.3M52.0 232.6h.3M52.0 214.5h.3M63.8 220.4h.3M57.0 225.8h.3M55.3 230.4h.3M58.7 218.1h.3M51.1 222.9h.3M52.8 223.4h.3M53.6 227.7h.3M54.7 236.9h.3M59.2 214.8h.3M58.3 237.7h.3M54.8 218.7h.3M56.9 237.1h.3M51.5 223.1h.3M60.8 231.9h.3M59.3 232.6h.3M52.1 231.7h.3M54.9 223.3h.3M50.2 211.0h.3M54.1 223.8h.3M56.5 233.7h.3M59.1 239.6h.3M55.3 231.7h.3M55.7 213.8h.3M57.2 236.7h.3M56.5 221.3h.3M60.8 225.5h.3M59.1 236.8h.3M59.0 224.2h.3M51.6 239.6h.3M57.8 219.0h.3M58.3 220.6h.3M53.0 215.6h.3M61.4 234.4h.3M62.6 231.4h.3M52.6 227.2h.3M57.9 224.4h.3M58.7 212.1h.3M52.1 213.3h.3M60.9 218.4h.3M58.3 239.6h.3M62.0 214.6h.3M55.5 221.6h.3M55.5 211.1h.3M60.2 226.0h.3M53.4 210.1h.3M50.7 214.8h.3M58.4 219.5h.3M50.7 237.2h.3M61.1 222.8h.3M53.3 231.9h.3M52.7 225.9h.3M57.0 225.8h.3M53.7 223.3h.3M57.5 221.2h.3M58.1 220.9h.3M50.2 228.6h.3M58.2 226.8h.3M58.7 218.5h.3M53.4 220.8h.3M56.0 215.0h.3M57.2 212.6h.3M56.6 232.3h.3M57.9 229.8h.3M52.3 220.0h.3M53.5 230.0h.3M54.3 229.2h.3M53.2 219.1h.3M56.0 231.5h.3M53.1 234.7h.3M62.4 222.2h.3M58.2 221.6h.3M59.3 234.2h.3M53.9 220.6h.3M51.5 219.6h.3M60.7 225.4h.3M60.8 212.0h.3M52.2 232.3h.3M54.5 217.3h.3M61.5 221.8h.3M61.7 231.4h.3M62.0 222.4h.3M55.6 235.5h.3M63.6 232.2h.3M50.2 218.9h.3M57.0 234.0h.3M55.8 232.3h.3M57.9 224.1h.3M59.9 239.6h.3M57.6 210.9h.3M54.7 214.6h.3M60.1 224.4h.3M59.6 236.5h.3M55.2 237.0h.3M50.5 230.6h.3M63.6 227.5h.3M60.0 234.4h.3M62.8 215.3h.3M56.6 223.4h.3M58.3 216.5h.3M53.3 219.1h.3M57.1 230.4h.3M57.0 213.6h.3M54.9 215.4h.3M54.2 213.4h.3M51.8 216.2h.3M51.5 223.0h.3M59.0 210.9h.3M58.4 214.6h.3M57.9 233.6h.3M56.2 216.2h.3M57.2 222.5h.3M54.4 231.6h.3M55.9 231.7h.3M56.9 210.9h.3M52.7 239.6h.3M57.2 222.2h.3M52.0 225.6h.3M54.6 215.2h.3M62.7 229.7h.3M57.9 221.5h.3M57.3 232.8h.3M57.1 216.6h.3M60.0 214.7h.3M60.0 223.5h.3M56.6 218.3h.3M53.0 239.6h.3M59.9 233.6h.3M56.5 227.6h.3M55.9 219.5h.3M58.6 213.4h.3M57.5 236.6h.3M57.7 226.6h.3M62.5 237.0h.3M52.6 221.5h.3M60.4 237.4h.3M61.0 220.4h.3M52.8 214.6h.3M55.9 220.0h.3M58.1 220.7h.3M53.3 227.7h.3M63.1 232.3h.3M57.9 220.7h.3M52.8 222.9h.3M50.2 218.7h.3M57.5 233.4h.3M63.4 225.7h.3M50.7 228.0h.3M57.6 213.2h.3M52.5 223.6h.3M65.0 231.0h.3M55.0 222.4h.3M61.2 231.7h.3M59.8 225.9h.3M57.8 211.0h.3M53.6 230.3h.3M53.6 232.7h.3M52.9 236.1h.3M50.8 220.1h.3M54.7 214.9h.3M57.8 227.3h.3M56.9 219.7h.3M50.6 226.0h.3M52.9 224.5h.3M60.9 223.4h.3M54.8 216.4h.3M50.4 219.9h.3M57.2 212.7h.3M54.1 215.1h.3M58.7 226.8h.3M61.8 239.6h.3M61.5 238.0h.3M56.6 231.6h.3M55.0 224.3h.3M60.0 218.6h.3M51.9 225.4h.3M52.2 237.3h.3M54.9 222.8h.3M61.1 211.5h.3M57.7 232.5h.3M53.8 234.1h.3M64.1 220.5h.3M58.3 235.2h.3M51.6 212.9h.3M56.7 226.2h.3M60.4 235.3h.3M60.4 230.6h.3M60.4 211.1h.3M60.9 225.2h.3M58.1 222.8h.3M61.4 215.0h.3M57.3 221.4h.3M62.4 227.9h.3M55.6 222.8h.3M52.4 235.6h.3M59.3 233.7h.3M64.8 220.4h.3M60.5 238.4h.3M61.7 221.2h.3M62.0 209.8h.3M55.1 229.6h.3M60.1 215.5h.3M51.2 237.4h.3M61.6 239.5h.3M64.3 220.8h.3M50.8 233.7h.3M57.7 222.5h.3M54.6 231.7h.3M52.5 234.0h.3M59.9 232.4h.3M52.2 215.5h.3M57.1 213.9h.3M59.7 230.7h.3M56.0 226.1h.3M59.0 221.1h.3M57.5 222.3h.3M52.7 216.6h.3M59.9 216.5h.3M61.3 237.0h.3M58.3 220.4h.3M53.6 237.8h.3M61.8 224.9h.3M51.9 215.0h.3M61.2 214.9h.3M58.3 234.0h.3M52.8 231.7h.3M57.7 209.1h.3M55.8 225.4h.3M58.7 229.1h.3M51.8 232.4h.3M60.8 229.1h.3M50.2 227.4h.3M55.5 221.4h.3M58.7 220.0h.3M54.4 232.9h.3M50.4 231.0h.3M60.8 217.0h.3M60.7 231.9h.3M55.6 230.6h.3M57.3 232.4h.3M50.3 226.2h.3M54.6 231.0h.3M52.3 223.4h.3M61.3 222.4h.3M60.8 232.4h.3M59.8 239.6h.3M57.4 223.2h.3M51.9 229.3h.3M53.2 218.9h.3M59.0 213.2h.3M55.5 235.4h.3M63.1 221.4h.3M53.6 221.4h.3M59.0 230.9h.3M54.3 212.5h.3M52.0 220.2h.3M57.3 215.7h.3M59.1 208.7h.3M62.8 224.6h.3M58.0 239.6h.3M59.5 222.8h.3M56.4 224.2h.3M54.5 221.1h.3M52.0 219.6h.3M56.7 219.3h.3M59.5 211.3h.3M51.5 231.9h.3M64.0 234.8h.3M51.4 209.4h.3M60.9 222.2h.3M57.9 217.0h.3M57.4 217.4h.3M56.5 225.4h.3M55.9 228.1h.3M57.6 239.6h.3M57.7 218.7h.3M56.8 225.9h.3M53.0 223.9h.3M58.8 219.5h.3M53.7 215.2h.3M52.8 216.1h.3M53.0 213.5h.3M55.0 236.9h.3M62.0 237.1h.3M55.9 235.1h.3M55.0 230.7h.3M59.3 221.3h.3M52.2 225.3h.3M57.1 213.7h.3M58.1 238.1h.3M55.9 226.8h.3M58.3 212.8h.3M57.1 209.4h.3M51.3 211.0h.3M54.6 212.4h.3M51.7 209.8h.3M65.2 232.3h.3M50.2 233.3h.3M52.7 229.1h.3M52.7 231.6h.3M55.0 221.9h.3M58.1 236.5h.3M61.4 222.6h.3M51.9 213.0h.3M52.7 233.8h.3M52.5 212.4h.3M59.4 224.0h.3M51.7 224.8h.3M58.4 231.5h.3M62.0 213.1h.3M52.2 223.6h.3M54.6 210.0h.3M53.2 214.2h.3M55.2 209.4h.3M54.0 214.3h.3M53.9 213.6h.3M61.8 238.1h.3M53.8 220.8h.3M50.7 219.2h.3M58.1 211.5h.3M63.6 238.2h.3M55.1 236.5h.3M54.3 235.2h.3M58.6 236.6h.3M60.4 222.3h.3M51.6 234.5h.3M61.0 230.8h.3M61.3 211.6h.3M59.9 218.0h.3M60.1 232.3h.3M56.1 219.1h.3M60.2 228.1h.3M55.6 230.9h.3M59.4 231.8h.3M56.1 215.9h.3M60.6 213.4h.3M62.6 239.6h.3M54.4 228.9h.3M52.4 223.2h.3M60.0 234.9h.3M61.6 233.7h.3M58.0 224.3h.3M57.7 226.2h.3M54.4 236.9h.3M57.6 230.3h.3M60.9 238.0h.3M50.2 213.8h.3M58.6 233.2h.3M50.2 233.3h.3M55.4 229.8h.3M61.3 233.6h.3M52.3 212.4h.3M51.7 210.2h.3M56.1 209.4h.3M50.2 222.5h.3M50.3 238.5h.3M56.5 215.8h.3M59.3 224.6h.3M59.1 232.9h.3M54.6 236.3h.3M52.1 226.6h.3M52.9 219.4h.3M52.0 223.7h.3M63.7 229.4h.3M61.2 223.0h.3M58.8 217.3h.3M63.9 230.2h.3M50.2 232.4h.3M54.7 225.6h.3M56.6 215.9h.3M61.6 226.8h.3M58.3 234.3h.3M53.3 212.2h.3M53.8 227.7h.3M57.4 224.2h.3M60.8 218.2h.3M58.2 233.7h.3M52.7 218.2h.3M54.3 215.3h.3M62.0 228.9h.3M53.5 239.6h.3M60.0 236.1h.3M59.5 237.7h.3M58.6 222.3h.3M64.3 228.6h.3M51.0 227.8h.3M62.0 234.5h.3M55.2 211.6h.3M51.7 221.4h.3M50.2 216.4h.3M56.1 227.0h.3M58.7 233.1h.3M51.2 224.2h.3M55.6 216.6h.3M50.2 217.1h.3M55.2 210.8h.3M52.8 214.7h.3M50.8 229.4h.3M59.0 221.2h.3M54.7 213.2h.3M53.3 239.0h.3M62.8 213.0h.3M50.2 225.2h.3M50.2 227.3h.3M60.7 226.1h.3M61.4 229.5h.3M64.5 229.9h.3M57.2 233.7h.3M51.1 232.3h.3M59.6 224.6h.3M59.3 228.2h.3M59.7 218.5h.3M58.8 222.3h.3M51.6 218.4h.3M53.4 225.5h.3M54.0 222.4h.3M53.8 227.4h.3M58.0 216.0h.3M60.6 232.4h.3M56.7 216.2h.3M58.2 230.3h.3M56.3 239.0h.3M60.0 239.6h.3M56.6 236.4h.3M59.6 217.4h.3M56.9 228.9h.3M57.7 223.1h.3M61.7 216.1h.3M59.7 210.1h.3M52.2 216.8h.3M57.3 220.5h.3M56.2 216.4h.3" stroke="#000" stroke-opacity="0.45" stroke-width="0.7" stroke-linecap="square" fill="none"/>
<path d="M57.7 217.3h.3M54.3 230.4h.3M53.2 219.5h.3M55.5 227.1h.3M54.6 226.5h.3M54.6 220.7h.3M53.4 224.6h.3M51.2 224.9h.3M50.2 223.5h.3M52.0 233.2h.3M52.0 230.5h.3M53.2 222.0h.3M57.9 230.3h.3M53.2 239.6h.3M52.4 229.2h.3M51.9 218.8h.3M55.8 221.3h.3M52.4 219.3h.3M50.2 229.4h.3M54.2 233.1h.3M50.2 227.4h.3M55.8 225.8h.3M50.5 232.8h.3M50.6 227.8h.3M55.5 232.6h.3M52.7 229.3h.3M56.4 221.8h.3M51.6 231.0h.3M54.6 234.4h.3M56.4 221.6h.3M51.2 219.6h.3M55.9 230.9h.3M56.1 232.7h.3M51.4 230.0h.3M55.0 235.2h.3M56.2 224.9h.3M58.8 233.7h.3M57.7 219.1h.3M50.4 218.6h.3M55.8 221.0h.3M51.6 232.3h.3M53.5 232.9h.3M56.0 224.7h.3M52.5 226.3h.3M54.4 218.9h.3M51.0 231.7h.3M55.5 235.3h.3M55.7 225.3h.3M58.0 224.6h.3M54.9 223.4h.3M57.7 237.2h.3M52.3 232.0h.3M54.2 232.2h.3M56.3 227.8h.3M58.0 221.6h.3M53.5 232.6h.3M55.8 226.2h.3M54.1 223.5h.3M54.8 229.4h.3M52.4 231.9h.3M54.6 221.4h.3M55.4 234.5h.3M50.4 237.6h.3M52.3 232.4h.3M54.7 229.3h.3M51.0 226.4h.3M54.0 223.4h.3M56.9 231.7h.3M54.1 233.4h.3M50.2 231.0h.3M55.0 222.2h.3M50.8 231.5h.3M54.9 216.6h.3M55.3 219.9h.3M53.2 234.9h.3M55.9 217.7h.3M53.9 228.5h.3M52.1 230.8h.3M59.2 229.7h.3M54.1 230.6h.3M53.7 225.8h.3M50.5 229.1h.3M54.5 235.0h.3M55.2 231.2h.3M55.5 219.9h.3M53.4 223.7h.3M55.5 224.1h.3M54.6 226.9h.3M52.9 227.4h.3M55.6 227.0h.3M53.9 221.3h.3M51.8 228.0h.3M56.7 227.2h.3M50.2 231.7h.3M53.6 228.8h.3M52.6 220.4h.3M59.4 227.8h.3M54.0 217.4h.3M50.6 221.8h.3M55.1 223.3h.3M56.6 217.6h.3M56.8 226.4h.3M54.8 233.8h.3M53.6 233.7h.3M56.6 222.1h.3M50.9 237.0h.3M56.4 239.6h.3M52.6 229.4h.3M51.3 218.6h.3M50.2 233.7h.3M53.1 227.2h.3M52.3 230.8h.3M53.4 237.1h.3M54.3 217.3h.3M50.2 222.0h.3M54.8 225.3h.3M54.1 219.9h.3M54.0 235.2h.3M50.2 226.7h.3M55.8 230.7h.3M57.6 223.2h.3M55.5 222.7h.3M54.3 222.9h.3M53.8 233.5h.3M59.2 222.4h.3M57.9 223.1h.3M52.5 228.4h.3M50.2 233.4h.3M58.8 225.4h.3M52.4 224.0h.3M55.2 238.4h.3M51.1 217.5h.3M53.5 227.5h.3M50.8 228.6h.3M52.2 236.0h.3M54.9 229.2h.3M55.2 215.7h.3M54.1 233.9h.3M52.3 229.6h.3M57.0 221.7h.3M53.3 235.1h.3M57.1 228.5h.3M53.0 229.8h.3M53.4 220.2h.3M54.0 232.0h.3M55.3 229.1h.3M53.8 229.6h.3M52.0 227.6h.3M51.3 226.2h.3M52.9 234.5h.3" stroke="#000" stroke-opacity="0.4" stroke-width="0.7" stroke-linecap="square" fill="none"/>
<path d="M83.5 190.7h.3M79.3 230.6h.3M66.4 189.8h.3M90.2 214.9h.3M84.9 173.0h.3M83.2 211.1h.3M73.0 211.2h.3M68.1 201.0h.3M91.2 208.8h.3M87.6 192.9h.3" stroke="#000" stroke-opacity="0.2" stroke-width="0.7" stroke-linecap="square" fill="none"/>
<path d="M55.4 240.3v-0.9M58.8 240.3v-0.9M61.1 240.3v-0.9M63.0 240.3v-0.9M64.5 240.3v-0.9M65.7 240.3v-0.9M66.8 240.3v-0.9M67.8 240.3v-0.9M74.4 240.3v-0.9M77.7 240.3v-0.9M80.1 240.3v-0.9M81.9 240.3v-0.9M83.4 240.3v-0.9M84.7 240.3v-0.9M85.8 240.3v-0.9M86.8 240.3v-0.9M93.4 240.3v-0.9M96.7 240.3v-0.9M99.1 240.3v-0.9M100.9 240.3v-0.9M102.4 240.3v-0.9M103.7 240.3v-0.9M104.8 240.3v-0.9M105.8 240.3v-0.9M112.3 240.3v-0.9M115.7 240.3v-0.9M118.0 240.3v-0.9M119.9 240.3v-0.9M121.4 240.3v-0.9M122.7 240.3v-0.9M123.8 240.3v-0.9M124.7 240.3v-0.9M49.7 234.3h0.9M49.7 230.8h0.9M49.7 228.3h0.9M49.7 226.3h0.9M49.7 224.7h0.9M49.7 223.4h0.9M49.7 222.2h0.9M49.7 221.2h0.9M49.7 214.3h0.9M49.7 210.8h0.9M49.7 208.3h0.9M49.7 206.3h0.9M49.7 204.7h0.9M49.7 203.4h0.9M49.7 202.2h0.9M49.7 201.2h0.9M49.7 194.3h0.9M49.7 190.8h0.9M49.7 188.3h0.9M49.7 186.3h0.9M49.7 184.7h0.9M49.7 183.4h0.9M49.7 182.2h0.9M49.7 181.2h0.9M49.7 174.3h0.9M49.7 170.8h0.9M49.7 168.3h0.9M49.7 166.3h0.9M49.7 164.7h0.9M49.7 163.4h0.9M49.7 162.2h0.9M49.7 161.2h0.9M49.7 240.3v1.3M68.7 240.3v1.3M87.7 240.3v1.3M106.6 240.3v1.3M125.6 240.3v1.3M49.7 240.3h-1.3M49.7 220.3h-1.3M49.7 200.3h-1.3M49.7 180.3h-1.3M49.7 160.3h-1.3" stroke="#666" stroke-width="0.5" fill="none"/>
<text x="49.1" y="246.8" class="SN" font-size="3.4" text-anchor="middle" fill="#333">10<tspan dy="-1.6" font-size="2.5">0</tspan></text>
<text x="47.1" y="240.6" class="SN" font-size="3.4" text-anchor="middle" fill="#333" transform="rotate(-90 47.1 240.6)">10<tspan dy="-1.6" font-size="2.5">0</tspan></text>
<text x="68.1" y="246.8" class="SN" font-size="3.4" text-anchor="middle" fill="#333">10<tspan dy="-1.6" font-size="2.5">1</tspan></text>
<text x="47.1" y="220.6" class="SN" font-size="3.4" text-anchor="middle" fill="#333" transform="rotate(-90 47.1 220.6)">10<tspan dy="-1.6" font-size="2.5">1</tspan></text>
<text x="87.1" y="246.8" class="SN" font-size="3.4" text-anchor="middle" fill="#333">10<tspan dy="-1.6" font-size="2.5">2</tspan></text>
<text x="47.1" y="200.6" class="SN" font-size="3.4" text-anchor="middle" fill="#333" transform="rotate(-90 47.1 200.6)">10<tspan dy="-1.6" font-size="2.5">2</tspan></text>
<text x="106.0" y="246.8" class="SN" font-size="3.4" text-anchor="middle" fill="#333">10<tspan dy="-1.6" font-size="2.5">3</tspan></text>
<text x="47.1" y="180.6" class="SN" font-size="3.4" text-anchor="middle" fill="#333" transform="rotate(-90 47.1 180.6)">10<tspan dy="-1.6" font-size="2.5">3</tspan></text>
<text x="125.0" y="246.8" class="SN" font-size="3.4" text-anchor="middle" fill="#333">10<tspan dy="-1.6" font-size="2.5">4</tspan></text>
<text x="47.1" y="160.6" class="SN" font-size="3.4" text-anchor="middle" fill="#333" transform="rotate(-90 47.1 160.6)">10<tspan dy="-1.6" font-size="2.5">4</tspan></text>
<text x="84.2" y="249.9" class="SN" font-size="3.3" text-anchor="middle" fill="#333">IFN-g FITC</text>
<text x="41.7" y="201.1" class="SN" font-size="3.3" text-anchor="middle" fill="#333" transform="rotate(-90 41.7 201.1)">CD4 APC</text>
<text x="82.9" y="263.8" class="S" font-size="6.2" text-anchor="middle" textLength="89.2" lengthAdjust="spacingAndGlyphs">+ 1 µg/mL GT1a p26 (aa261-280)</text>
<rect x="170.2" y="160.3" width="75.2" height="80.0" fill="none" stroke="#555" stroke-width="0.7"/>
<line x1="192.2" y1="160.3" x2="192.2" y2="240.3" stroke="#666" stroke-width="0.7"/>
<line x1="170.2" y1="213.0" x2="245.4" y2="213.0" stroke="#666" stroke-width="0.7"/>
<path d="M181.6 190.4h.3M175.9 199.6h.3M184.6 194.2h.3M179.0 190.7h.3M177.5 209.4h.3M184.3 190.1h.3M180.9 190.1h.3M179.2 187.1h.3M181.5 198.9h.3M173.6 198.5h.3M179.1 191.8h.3M178.8 203.0h.3M178.0 196.1h.3M173.6 197.8h.3M183.7 197.4h.3M178.5 185.0h.3M185.5 188.0h.3M180.3 200.7h.3M178.9 193.6h.3M182.5 187.8h.3M171.3 195.2h.3M173.2 205.4h.3M172.8 194.6h.3M171.5 190.3h.3M185.3 196.9h.3M182.6 193.1h.3M182.0 204.8h.3M177.1 190.6h.3M181.1 192.0h.3M173.2 203.7h.3M183.1 197.0h.3M181.0 206.5h.3M171.9 187.6h.3M175.0 189.0h.3M172.6 190.5h.3M182.2 200.6h.3M180.7 189.5h.3M174.2 186.4h.3M181.0 195.3h.3M179.9 193.2h.3M180.5 189.4h.3M183.5 201.3h.3M176.9 195.1h.3M170.7 201.3h.3M173.9 196.6h.3M172.9 191.5h.3M181.1 185.6h.3M183.6 199.3h.3M173.3 196.8h.3M187.1 188.2h.3M175.5 192.6h.3M176.1 200.7h.3M179.1 198.4h.3M173.1 210.1h.3M184.3 196.1h.3M172.6 192.5h.3M182.8 201.6h.3M180.7 201.1h.3M172.7 206.2h.3M171.7 193.6h.3M171.7 202.5h.3M173.0 208.5h.3M179.3 193.1h.3M176.8 198.2h.3M177.6 201.5h.3M176.2 190.4h.3M170.7 206.8h.3M172.8 195.3h.3M175.1 207.0h.3M179.5 187.6h.3M176.8 187.6h.3M181.1 185.8h.3M181.2 195.0h.3M181.2 204.5h.3M177.3 208.2h.3M170.7 198.2h.3M181.9 189.5h.3M174.1 198.0h.3M175.3 202.0h.3M173.0 204.8h.3M179.6 197.3h.3M178.3 201.1h.3M172.6 207.4h.3M175.6 209.7h.3M171.6 203.0h.3M174.9 201.6h.3M170.7 190.6h.3M181.1 209.4h.3M172.8 204.8h.3M178.7 196.9h.3M176.7 195.1h.3M174.7 191.5h.3M178.6 199.8h.3M178.0 194.7h.3M171.8 204.6h.3M176.9 189.9h.3M180.3 202.1h.3M184.0 188.6h.3M181.2 205.5h.3M183.4 194.5h.3M177.7 191.8h.3M171.8 196.8h.3M181.4 194.3h.3M175.3 207.9h.3M174.3 196.7h.3M180.5 195.3h.3M170.8 197.6h.3M175.0 208.9h.3M171.4 201.4h.3M172.3 207.2h.3M178.8 206.1h.3M175.0 199.6h.3M176.6 193.6h.3M173.2 210.2h.3M181.7 190.9h.3M179.1 195.9h.3M179.5 189.6h.3M172.6 190.5h.3M175.5 198.4h.3M175.2 199.0h.3M172.4 206.9h.3M182.6 187.0h.3M178.3 201.1h.3M176.0 208.2h.3M180.5 191.3h.3M172.1 205.4h.3M176.1 201.3h.3M172.8 201.9h.3M173.5 188.2h.3M176.3 207.1h.3M184.6 192.9h.3M175.6 188.2h.3M181.1 199.4h.3M183.2 195.7h.3M176.3 199.8h.3M179.5 189.4h.3M180.9 199.2h.3M176.1 198.3h.3M170.7 193.2h.3M181.8 188.2h.3M181.4 201.9h.3M178.2 206.1h.3M181.4 203.1h.3M172.9 191.0h.3M171.1 196.4h.3M179.4 196.1h.3M172.9 206.3h.3M180.4 189.7h.3M178.2 205.8h.3M183.6 197.0h.3M181.4 202.5h.3M176.3 196.0h.3M172.8 193.5h.3M180.0 187.4h.3M174.6 207.2h.3M172.3 206.2h.3M173.6 200.1h.3M175.8 197.8h.3M183.6 200.8h.3M171.8 191.6h.3M173.0 209.5h.3M174.4 204.7h.3M183.1 191.3h.3M173.2 198.3h.3M176.5 189.7h.3M181.4 203.2h.3M179.2 189.2h.3M172.8 194.4h.3M181.4 188.7h.3M181.9 197.5h.3M172.3 195.6h.3M179.5 202.5h.3M182.4 197.6h.3M178.1 198.4h.3M172.1 200.6h.3M185.0 192.9h.3M176.8 200.2h.3M176.3 198.5h.3M182.5 187.4h.3M178.4 184.5h.3M177.5 191.8h.3M172.0 195.3h.3M179.7 206.4h.3M171.4 199.5h.3M178.6 197.5h.3M181.1 191.9h.3M178.0 205.6h.3M179.0 208.5h.3M173.5 210.4h.3M177.8 190.2h.3M171.3 189.0h.3M173.6 209.9h.3M179.2 186.7h.3M177.0 197.7h.3M174.4 196.6h.3M181.2 194.4h.3M181.3 191.8h.3M172.8 193.9h.3M172.1 204.1h.3M182.4 193.2h.3M179.5 206.9h.3M181.6 194.9h.3M173.5 200.9h.3M183.6 197.8h.3M176.7 186.3h.3M183.0 196.9h.3M173.9 193.2h.3M175.1 204.4h.3M176.1 206.3h.3M178.5 190.2h.3M183.3 186.6h.3M179.9 192.4h.3M182.3 194.8h.3M181.7 186.7h.3M181.8 188.0h.3M178.4 198.1h.3M170.7 204.7h.3M178.4 200.7h.3M171.0 195.0h.3M181.4 191.7h.3M178.7 193.2h.3M180.0 195.7h.3M178.4 200.5h.3M177.9 207.3h.3M174.5 198.4h.3M179.7 190.2h.3M182.1 193.8h.3M177.0 209.8h.3M174.2 199.2h.3M180.9 207.2h.3M181.2 190.2h.3M173.4 192.1h.3M183.7 193.2h.3M181.7 196.3h.3M175.0 191.7h.3M181.1 200.0h.3M175.1 196.1h.3M175.1 206.2h.3M182.2 203.7h.3M171.3 190.7h.3M173.0 188.1h.3M183.7 195.0h.3M179.6 191.9h.3M180.1 207.0h.3M170.7 202.8h.3M181.5 193.3h.3M178.3 209.3h.3M180.5 197.5h.3M180.5 188.9h.3M180.0 202.2h.3M184.8 192.4h.3M180.5 195.8h.3M177.9 196.8h.3M182.3 186.2h.3M178.7 197.4h.3M176.7 189.9h.3M176.5 196.4h.3M186.2 187.6h.3M179.3 205.7h.3M177.8 209.2h.3M179.0 185.7h.3M185.3 193.8h.3M171.9 193.5h.3M179.8 184.5h.3M172.9 206.7h.3M176.1 205.5h.3M173.0 202.2h.3M172.4 191.1h.3M178.5 201.0h.3M176.6 207.2h.3M182.5 203.4h.3M179.4 201.3h.3M182.1 203.1h.3M175.1 185.4h.3M180.0 192.0h.3M176.3 208.6h.3M183.0 195.9h.3M180.9 195.9h.3M173.7 187.8h.3M175.6 191.8h.3M171.0 203.5h.3M172.3 207.7h.3M177.5 204.5h.3M180.0 199.0h.3M174.5 209.8h.3M174.3 194.5h.3M173.0 202.4h.3M172.9 194.7h.3M171.7 203.9h.3M173.5 209.1h.3M174.0 192.5h.3M176.3 200.2h.3M179.7 185.2h.3M180.4 193.7h.3M176.6 185.0h.3M175.6 189.6h.3M173.4 202.5h.3M178.3 186.9h.3M179.1 206.5h.3M176.2 187.3h.3M179.4 195.7h.3M183.2 199.6h.3M183.9 196.5h.3M178.2 203.3h.3M175.2 188.4h.3M181.5 203.9h.3M172.6 205.3h.3M173.3 193.6h.3M175.7 190.4h.3M178.1 203.9h.3M177.4 206.9h.3M178.4 206.5h.3M178.5 194.9h.3M170.7 201.1h.3M183.7 195.2h.3M184.1 190.9h.3M171.3 198.5h.3M173.8 188.9h.3M176.3 197.6h.3M178.0 207.7h.3M176.7 196.3h.3M181.7 204.2h.3M178.5 193.4h.3M176.3 211.2h.3M182.8 189.0h.3M178.4 204.5h.3M178.4 198.9h.3M174.4 209.0h.3M179.0 199.2h.3M171.2 192.5h.3M184.3 194.6h.3M182.9 201.8h.3M175.3 197.6h.3M174.5 198.2h.3M175.8 208.9h.3M176.8 195.3h.3M182.4 203.3h.3M183.0 202.1h.3M177.8 191.2h.3M182.2 204.1h.3M173.4 195.6h.3M174.1 200.1h.3M175.0 200.5h.3M170.7 193.2h.3M172.4 201.7h.3M180.4 184.7h.3M175.5 185.8h.3M178.0 195.7h.3M178.0 191.1h.3M184.4 196.4h.3M174.5 201.1h.3M177.5 201.6h.3M177.9 195.6h.3M179.9 188.1h.3M178.0 191.7h.3M182.1 200.4h.3M181.4 198.4h.3M171.9 211.1h.3M175.0 193.3h.3M178.5 197.3h.3M176.5 195.4h.3M175.4 196.8h.3M182.6 189.0h.3M175.7 197.0h.3M177.9 206.6h.3M177.0 190.3h.3M172.9 196.3h.3M171.4 191.9h.3M182.5 193.1h.3M175.0 207.8h.3M179.5 209.1h.3M174.0 208.4h.3M173.3 207.8h.3M182.1 185.1h.3M172.7 208.0h.3M181.5 189.0h.3M172.4 191.8h.3M181.4 190.9h.3M176.6 204.0h.3M171.6 208.1h.3M177.2 191.9h.3M181.1 185.1h.3M179.5 189.3h.3M173.0 210.6h.3M176.7 195.0h.3M183.0 188.2h.3M173.6 195.1h.3M172.5 212.0h.3M170.7 201.1h.3M176.6 201.0h.3M181.3 193.5h.3M172.8 187.7h.3M172.4 208.3h.3M174.1 209.9h.3M172.6 209.8h.3M178.1 189.5h.3M176.4 201.8h.3M175.5 192.5h.3M181.7 200.0h.3M183.6 200.3h.3M178.6 196.2h.3M170.7 199.9h.3M182.3 190.5h.3M179.4 186.3h.3M181.0 206.5h.3M173.9 205.2h.3M174.9 190.7h.3M182.0 190.4h.3M182.2 195.5h.3M175.8 208.0h.3M181.9 192.9h.3M172.6 200.4h.3M176.5 189.3h.3M174.8 188.8h.3M171.5 190.5h.3M180.0 192.0h.3M172.7 207.9h.3M176.0 207.9h.3M181.0 199.0h.3M175.8 198.1h.3M183.2 206.1h.3M175.8 208.7h.3M185.0 193.2h.3M175.4 191.5h.3M178.5 202.6h.3M178.3 204.5h.3M183.0 195.5h.3M180.5 202.8h.3M180.9 197.8h.3M171.9 205.3h.3M181.0 196.7h.3M182.0 183.4h.3M176.2 205.7h.3M184.2 197.2h.3M173.1 205.2h.3M175.2 191.6h.3M176.8 198.1h.3M179.6 192.1h.3M176.0 186.9h.3M183.5 193.6h.3M183.0 200.2h.3M184.9 188.7h.3M181.3 189.4h.3M177.2 186.9h.3M172.2 188.8h.3M173.2 204.9h.3M181.1 194.5h.3M179.8 188.9h.3M172.7 192.5h.3M173.7 193.0h.3M184.2 191.2h.3M181.8 186.0h.3M184.0 199.0h.3M178.4 199.7h.3M170.8 204.7h.3M177.9 197.8h.3M176.3 187.0h.3M182.1 195.9h.3M174.5 186.8h.3M184.1 198.6h.3M179.8 193.9h.3M174.6 186.0h.3M179.7 190.1h.3M180.8 197.1h.3M170.7 201.8h.3M170.7 204.5h.3M177.6 200.1h.3M171.0 208.9h.3M184.5 191.0h.3M175.5 201.9h.3M180.5 188.4h.3M172.1 195.9h.3M177.9 207.2h.3M178.6 203.1h.3M179.9 188.7h.3M170.7 194.1h.3M170.8 191.0h.3M175.2 190.0h.3M184.8 197.9h.3M178.1 187.7h.3M172.4 209.9h.3M183.3 199.3h.3M182.3 204.5h.3M178.2 208.1h.3M180.2 205.3h.3M176.1 190.3h.3M178.9 189.1h.3M174.7 195.9h.3M177.2 189.0h.3M175.8 194.1h.3M185.2 189.7h.3M176.4 189.3h.3M174.5 208.2h.3M180.7 205.1h.3M181.2 190.5h.3M175.2 189.8h.3M170.7 192.7h.3M178.3 202.8h.3M171.4 202.8h.3M182.0 192.9h.3M175.1 208.7h.3M184.0 194.2h.3M181.1 201.0h.3M174.1 193.2h.3M175.6 198.6h.3M174.6 191.6h.3M184.6 194.9h.3M176.8 192.4h.3M181.4 183.7h.3M172.1 200.5h.3M171.3 195.0h.3M174.4 186.9h.3M180.1 204.0h.3M184.8 198.8h.3M174.5 200.5h.3M173.1 199.8h.3M173.4 209.4h.3M171.0 203.9h.3M176.0 198.3h.3M179.3 198.1h.3M173.9 201.8h.3M182.0 198.2h.3M176.0 194.9h.3M180.8 190.2h.3M176.9 200.5h.3M183.6 202.7h.3M172.4 203.4h.3M177.8 189.3h.3M178.5 202.1h.3M174.6 187.0h.3M178.8 204.9h.3M182.3 196.5h.3M177.6 190.7h.3M181.6 189.5h.3M178.0 208.3h.3M182.0 198.9h.3M179.5 205.8h.3M182.4 193.9h.3M181.7 191.6h.3M183.2 202.5h.3M180.8 197.6h.3M180.5 196.7h.3M176.9 197.2h.3M181.4 199.1h.3M183.2 199.6h.3M172.7 200.5h.3M179.5 185.5h.3M173.1 206.5h.3M176.0 186.2h.3M176.4 203.2h.3M173.8 203.9h.3M179.6 199.9h.3M175.8 205.1h.3M181.4 202.3h.3M177.5 204.5h.3M177.2 194.8h.3M184.9 193.3h.3M180.1 195.3h.3M173.0 190.9h.3M180.5 202.8h.3M179.4 191.8h.3M181.0 201.8h.3M182.4 201.2h.3M177.5 208.5h.3M183.5 189.3h.3M183.1 195.9h.3M176.8 189.5h.3M178.3 190.6h.3M177.0 188.6h.3M181.6 194.1h.3M184.5 191.0h.3M177.0 198.9h.3M184.1 189.7h.3M174.9 186.8h.3M180.8 188.7h.3M182.5 184.6h.3M174.4 192.3h.3M170.8 205.8h.3M182.2 189.5h.3M176.2 196.9h.3M170.7 206.7h.3M177.2 186.7h.3M172.0 199.3h.3M171.3 197.7h.3M179.7 197.1h.3M184.7 200.4h.3M175.0 205.5h.3M172.5 192.8h.3M183.8 188.7h.3M175.3 208.7h.3M176.1 198.6h.3M170.7 192.8h.3M181.0 197.9h.3M180.4 188.0h.3M177.7 205.1h.3M179.2 193.4h.3M176.6 195.6h.3M183.0 190.2h.3M173.8 208.5h.3M183.7 197.1h.3M180.5 204.0h.3M173.6 201.3h.3M171.3 194.5h.3M175.8 203.2h.3M171.1 200.0h.3M178.5 191.3h.3M183.6 196.1h.3M183.5 200.1h.3M182.3 201.8h.3M174.7 199.3h.3M173.8 208.4h.3M176.3 198.9h.3M183.6 192.4h.3M176.0 202.3h.3M175.2 204.8h.3M175.2 201.4h.3M170.8 204.7h.3M178.1 189.7h.3M180.9 200.2h.3M172.7 190.5h.3M173.8 194.8h.3M179.1 199.6h.3M178.2 190.4h.3M172.1 197.3h.3M183.6 199.6h.3M174.7 211.2h.3M179.9 185.5h.3M177.2 193.0h.3M182.7 188.7h.3M173.2 193.5h.3M172.9 198.0h.3M175.3 187.4h.3M175.0 188.1h.3M173.5 188.2h.3M174.3 196.5h.3M177.2 203.4h.3M181.3 198.5h.3M181.9 205.6h.3M182.7 196.3h.3M172.8 200.5h.3M174.0 190.5h.3M182.7 187.3h.3M174.9 200.0h.3M172.1 201.5h.3M180.9 191.5h.3M176.6 192.2h.3M172.2 187.8h.3M175.1 203.6h.3M180.2 203.8h.3M176.0 193.9h.3M183.1 187.5h.3M172.9 195.7h.3M175.9 204.2h.3M181.6 203.3h.3M176.8 198.8h.3M175.7 196.7h.3M181.2 193.9h.3M181.6 187.0h.3M178.8 186.1h.3M175.0 187.9h.3M177.7 195.3h.3M173.4 187.5h.3M174.0 188.3h.3M180.0 202.8h.3M171.0 194.6h.3M171.4 189.4h.3M180.1 192.0h.3M170.7 190.6h.3M175.4 208.3h.3M177.5 206.9h.3M170.7 203.6h.3M181.7 192.3h.3M180.7 195.0h.3M178.6 186.1h.3M180.5 188.1h.3M170.7 199.0h.3M183.8 197.7h.3M174.5 205.7h.3M176.5 205.1h.3M171.3 193.4h.3M182.2 194.1h.3M177.9 193.6h.3M175.3 201.5h.3M174.2 197.4h.3M175.3 186.7h.3M179.7 185.1h.3M173.3 195.3h.3M176.8 194.3h.3M181.9 196.9h.3M172.6 203.7h.3M173.3 202.7h.3M171.5 202.7h.3M173.8 208.3h.3M181.8 193.3h.3M179.1 203.6h.3M182.2 188.3h.3M179.0 186.7h.3M182.0 191.7h.3M176.0 201.0h.3M176.7 204.2h.3M173.6 195.5h.3M179.2 188.4h.3M171.9 198.6h.3M183.1 202.8h.3M182.4 193.9h.3M174.0 198.1h.3M171.4 197.6h.3M178.3 205.1h.3M184.1 199.9h.3M172.7 204.3h.3M182.3 200.7h.3M176.6 201.4h.3M183.0 190.5h.3M183.8 186.5h.3M171.4 204.4h.3M178.1 206.4h.3M171.3 202.6h.3M173.9 198.0h.3M174.7 206.8h.3M178.4 190.4h.3M172.8 210.2h.3M174.8 192.8h.3M182.2 201.4h.3M177.3 186.9h.3M184.1 187.0h.3M171.1 202.5h.3M171.4 192.1h.3M180.1 197.9h.3M183.3 195.9h.3M174.2 205.9h.3M175.9 192.6h.3M181.5 194.4h.3M177.7 203.9h.3M181.8 201.4h.3M180.8 196.0h.3M175.9 210.9h.3M178.6 189.9h.3M179.3 202.5h.3M174.5 195.1h.3M179.3 186.7h.3M174.0 197.4h.3M180.9 194.7h.3M179.5 197.5h.3M175.7 205.3h.3M170.9 192.0h.3M180.8 193.8h.3M181.1 199.3h.3M181.0 186.3h.3M172.4 208.6h.3M172.7 206.7h.3M181.8 189.1h.3M177.6 205.3h.3M180.7 185.4h.3M173.6 196.0h.3M183.1 194.9h.3M174.0 198.7h.3M181.1 199.8h.3M176.2 197.7h.3M179.4 186.0h.3M172.5 195.2h.3M174.7 186.9h.3M178.4 207.9h.3M179.2 188.8h.3M177.1 185.0h.3M173.7 204.0h.3M180.2 189.2h.3M173.7 187.9h.3M183.1 200.8h.3M179.0 202.2h.3M177.3 192.1h.3M176.3 184.8h.3M180.5 199.4h.3M181.1 203.5h.3M175.1 201.9h.3M178.8 191.3h.3M174.4 209.0h.3M174.3 208.2h.3M173.1 195.8h.3M178.0 197.8h.3M176.8 206.8h.3M183.2 187.6h.3M183.8 186.9h.3M181.2 199.7h.3M173.4 206.3h.3M175.6 186.5h.3M172.0 195.0h.3M182.1 194.4h.3M172.7 199.4h.3M176.1 210.2h.3M173.8 203.8h.3M180.2 197.8h.3M172.5 209.4h.3M185.4 196.9h.3M177.8 202.4h.3M172.7 194.9h.3M171.9 200.4h.3M172.4 189.2h.3M180.8 194.5h.3M177.9 192.8h.3M179.5 194.0h.3M183.3 191.8h.3M175.6 209.1h.3M179.2 189.6h.3M177.8 190.7h.3M173.5 192.3h.3M171.4 198.3h.3M171.5 210.1h.3M172.4 202.5h.3M176.5 211.2h.3M177.3 205.1h.3M173.9 197.8h.3M179.4 199.8h.3M180.1 204.1h.3M177.5 191.1h.3M173.9 201.0h.3M180.1 194.8h.3M176.4 189.3h.3M177.7 192.5h.3M183.4 197.6h.3M182.0 192.9h.3M172.1 205.5h.3M177.6 199.2h.3M175.6 201.0h.3M175.3 189.5h.3M171.4 209.2h.3M172.2 204.8h.3M173.3 207.7h.3M179.2 191.5h.3M176.1 198.9h.3M175.2 202.5h.3M174.2 207.3h.3M181.8 201.0h.3M173.2 204.4h.3M177.0 186.1h.3M181.9 202.3h.3M175.7 195.2h.3M180.8 204.0h.3M182.6 197.4h.3M180.1 205.3h.3M184.0 188.4h.3M173.1 199.3h.3M175.6 196.6h.3M182.6 197.1h.3M173.2 189.9h.3M173.8 207.6h.3M180.7 185.8h.3M179.1 190.9h.3M180.4 198.7h.3M176.9 203.0h.3M172.7 211.4h.3M175.3 199.7h.3M181.6 189.9h.3M183.7 192.4h.3M181.4 187.7h.3M183.7 195.7h.3M172.6 203.1h.3M182.4 203.0h.3M179.8 207.8h.3M175.5 189.0h.3M178.5 200.1h.3M179.8 189.8h.3M175.2 210.4h.3M174.5 203.7h.3M176.7 207.2h.3M180.2 188.0h.3M179.8 191.0h.3M176.5 206.5h.3M182.9 195.3h.3M174.0 203.3h.3M185.2 194.7h.3M180.0 186.6h.3M181.2 207.8h.3M182.0 196.0h.3M184.5 198.3h.3M182.9 191.0h.3M172.3 198.3h.3M181.0 187.8h.3M171.8 186.9h.3M181.6 198.9h.3M175.0 196.1h.3M178.0 192.4h.3M180.7 209.6h.3M178.5 187.1h.3M173.4 191.0h.3M173.7 205.6h.3M170.7 199.5h.3M181.0 202.2h.3M178.9 199.5h.3M173.8 193.9h.3M183.2 198.9h.3M178.0 189.8h.3M176.5 209.0h.3M181.6 202.9h.3M175.2 198.2h.3M170.7 206.7h.3M174.8 188.4h.3M171.6 196.0h.3M172.4 193.1h.3M173.9 193.1h.3M175.3 198.3h.3M170.9 209.5h.3M179.8 199.0h.3M181.4 195.1h.3M171.7 191.6h.3M182.5 196.3h.3M172.5 196.9h.3M175.6 194.4h.3M183.5 188.9h.3M176.7 193.0h.3M175.3 202.0h.3M176.6 197.2h.3M178.6 207.8h.3M173.6 193.2h.3M174.2 188.5h.3M171.6 190.4h.3M177.3 200.0h.3M171.7 194.9h.3M177.4 204.0h.3M172.5 190.4h.3M180.2 186.8h.3M172.2 202.9h.3M173.0 190.3h.3M178.5 190.3h.3M173.5 203.5h.3M174.3 209.6h.3M181.0 189.3h.3M178.0 203.4h.3M171.2 210.5h.3M178.1 191.6h.3M181.4 189.4h.3M175.6 191.0h.3M174.1 207.4h.3M180.4 184.9h.3M175.4 208.6h.3M180.1 201.4h.3M180.5 201.0h.3M179.6 198.0h.3M181.2 185.8h.3M179.5 197.9h.3M173.4 204.0h.3M176.7 194.7h.3M172.2 192.6h.3M180.3 186.5h.3M184.5 192.0h.3M178.3 195.1h.3M175.5 195.7h.3M170.7 207.5h.3M173.8 202.2h.3M182.3 188.5h.3M175.8 196.1h.3M174.7 190.0h.3M173.9 188.6h.3M176.9 197.0h.3M170.9 196.1h.3M184.6 195.2h.3M180.8 185.7h.3M173.1 198.8h.3M182.1 197.8h.3M176.7 200.0h.3M183.1 191.7h.3M183.8 186.9h.3M174.7 198.2h.3M180.6 206.0h.3M173.7 188.4h.3M181.7 195.5h.3M174.3 208.7h.3M172.8 204.6h.3M173.5 190.4h.3M177.7 200.2h.3M171.0 201.4h.3M174.5 188.7h.3M180.2 204.1h.3M174.8 187.0h.3M171.1 195.3h.3M180.7 191.0h.3M176.9 195.6h.3M170.8 195.2h.3M181.3 201.2h.3M170.8 190.2h.3M182.7 195.4h.3M180.3 198.9h.3M181.3 196.2h.3M181.6 194.5h.3M180.0 190.4h.3M171.3 210.6h.3M172.6 199.0h.3M171.1 203.5h.3M172.5 207.3h.3M182.8 196.4h.3M175.0 186.0h.3M174.8 199.1h.3M172.9 188.3h.3M182.1 203.0h.3M176.9 198.2h.3M181.8 196.1h.3M174.5 192.3h.3M175.1 198.6h.3M177.4 192.8h.3M177.7 207.7h.3M174.1 206.2h.3M180.2 188.6h.3M175.8 191.1h.3M183.8 197.3h.3M178.8 190.5h.3M180.3 207.1h.3M182.2 186.4h.3M170.7 191.5h.3M183.9 185.4h.3M185.0 197.3h.3M177.2 201.7h.3M179.0 189.2h.3M180.4 205.6h.3M172.8 192.9h.3M181.0 203.8h.3M176.7 184.5h.3M182.8 203.3h.3M172.5 191.9h.3M179.6 192.4h.3M179.9 194.1h.3M183.0 191.4h.3M177.1 201.8h.3M179.4 205.5h.3M173.3 207.0h.3M177.5 195.7h.3M174.3 187.4h.3M178.9 207.9h.3M180.2 200.9h.3M175.6 207.1h.3M177.2 193.7h.3M173.2 192.8h.3M177.4 190.1h.3M179.1 204.2h.3M173.5 197.5h.3M174.8 209.7h.3M173.6 196.1h.3M170.7 199.2h.3M174.0 191.5h.3M179.8 194.8h.3M175.2 203.3h.3M178.9 197.4h.3M178.1 196.7h.3M175.6 200.2h.3M175.8 188.2h.3M174.4 211.0h.3M177.0 199.0h.3M176.9 202.7h.3M173.0 195.4h.3M177.1 195.7h.3M173.6 187.0h.3M171.9 209.6h.3M185.7 188.2h.3M177.5 206.4h.3M175.8 198.7h.3M178.3 186.7h.3M174.8 200.5h.3M179.8 196.6h.3M173.3 209.9h.3M171.8 204.3h.3M177.4 206.1h.3M170.7 191.9h.3M175.4 204.4h.3M177.8 189.2h.3M181.8 193.7h.3M180.3 204.0h.3M180.5 200.3h.3M178.5 200.6h.3M180.3 203.9h.3M177.7 199.1h.3M174.9 207.0h.3M182.1 194.4h.3M176.2 189.8h.3M172.2 203.5h.3M179.0 189.7h.3M181.5 186.4h.3M172.4 204.2h.3M180.5 188.4h.3M171.8 196.5h.3M177.4 196.4h.3M179.9 205.3h.3M176.1 203.2h.3M172.1 187.8h.3M182.5 192.3h.3M174.0 187.2h.3M181.4 206.2h.3M171.2 192.0h.3M180.0 203.2h.3M172.0 207.4h.3M180.9 189.6h.3M180.1 207.7h.3M181.6 199.6h.3M181.8 200.9h.3M177.3 199.8h.3M178.2 188.4h.3M183.6 191.0h.3M175.9 201.9h.3M172.4 207.0h.3M183.4 191.7h.3M180.5 186.3h.3M173.1 194.6h.3M174.0 196.0h.3M181.8 195.7h.3M172.9 189.2h.3M171.1 190.3h.3M172.7 190.7h.3M184.2 199.2h.3M175.6 190.7h.3M177.8 190.9h.3M177.6 187.0h.3M174.6 190.6h.3M184.0 194.6h.3M171.4 211.3h.3M176.5 206.9h.3M176.4 190.4h.3M174.8 196.8h.3M182.4 201.4h.3M178.0 189.0h.3M171.6 189.1h.3M171.6 193.1h.3M173.2 192.2h.3M181.5 190.1h.3M176.7 193.8h.3M183.6 201.2h.3M183.8 186.3h.3M179.7 191.7h.3M172.7 202.0h.3M172.9 207.5h.3M179.9 209.9h.3M173.2 193.9h.3M175.7 205.1h.3M171.3 197.4h.3M179.5 207.1h.3M171.0 190.3h.3M177.4 208.7h.3M171.0 191.6h.3M177.6 186.2h.3M170.7 199.0h.3M180.5 187.7h.3M185.4 194.0h.3M174.3 206.8h.3M177.6 195.1h.3M172.9 203.9h.3M175.2 197.0h.3M177.0 200.2h.3M175.9 202.1h.3M172.3 192.7h.3M180.8 205.6h.3M181.8 199.9h.3M176.3 198.4h.3M182.2 187.3h.3M175.7 190.1h.3M184.0 187.6h.3M173.3 199.4h.3M179.2 206.7h.3M177.3 192.6h.3M178.6 199.6h.3M183.3 201.4h.3M184.1 197.0h.3M176.7 190.8h.3M180.7 184.5h.3M177.8 203.2h.3M178.9 193.5h.3M173.8 201.2h.3M172.9 207.4h.3M180.8 206.9h.3M181.3 196.7h.3M174.6 192.0h.3M180.2 186.9h.3M177.5 196.7h.3M178.0 204.8h.3M179.2 195.9h.3M173.8 198.3h.3M179.6 188.6h.3M178.4 209.2h.3M176.2 187.6h.3M181.9 195.7h.3M183.6 193.0h.3M173.8 195.2h.3M173.5 209.8h.3M177.2 206.0h.3M170.8 203.4h.3M179.8 198.4h.3M180.8 197.7h.3M182.2 186.8h.3M172.2 195.8h.3M170.9 209.4h.3M171.7 196.2h.3M183.3 188.3h.3M173.6 197.1h.3M173.5 204.9h.3M173.3 199.0h.3M183.9 196.2h.3M180.6 205.7h.3M176.9 205.6h.3M170.7 201.4h.3M179.9 191.5h.3M176.1 201.8h.3M183.0 195.6h.3M182.2 186.8h.3M184.9 196.4h.3M171.6 196.5h.3M170.9 189.2h.3M178.4 198.6h.3M178.0 203.5h.3M179.1 189.8h.3M172.8 191.6h.3M173.2 209.1h.3M179.2 185.6h.3M171.6 197.1h.3M173.1 198.7h.3M181.2 202.8h.3M174.8 188.6h.3M179.4 193.9h.3M176.2 185.9h.3M179.0 193.9h.3M180.1 192.1h.3M181.8 207.7h.3M178.6 190.2h.3M179.3 192.2h.3M172.1 204.5h.3M182.3 201.0h.3M184.9 194.8h.3M182.1 195.5h.3M179.7 193.1h.3M174.8 204.6h.3M172.8 195.2h.3M174.7 197.7h.3M179.0 196.3h.3M179.8 187.2h.3M176.2 193.5h.3M180.0 192.2h.3M172.6 206.7h.3M179.5 194.0h.3M173.5 204.7h.3M183.7 195.1h.3M179.4 192.3h.3M173.8 211.2h.3M174.3 209.0h.3M173.0 196.5h.3M182.1 197.6h.3M181.7 191.9h.3M177.2 206.3h.3M184.7 194.8h.3M170.9 206.9h.3M173.8 207.8h.3M181.7 201.8h.3M174.9 208.7h.3M170.7 204.9h.3M181.3 204.2h.3M184.8 190.4h.3M184.7 193.8h.3M180.0 204.6h.3M179.9 201.7h.3M178.0 206.6h.3M178.4 202.5h.3M170.8 203.6h.3M175.8 197.1h.3M171.2 205.9h.3M170.7 196.4h.3M176.1 202.2h.3M173.2 203.6h.3M173.9 201.9h.3M180.0 191.0h.3M175.7 187.2h.3M181.9 199.0h.3M180.3 194.5h.3M177.5 196.0h.3M181.6 188.4h.3M170.7 201.9h.3M173.3 190.0h.3M172.6 194.7h.3M181.5 193.9h.3M179.2 189.5h.3M180.3 190.1h.3M176.3 195.5h.3M181.2 203.8h.3M172.6 196.6h.3M182.8 204.5h.3M180.0 195.3h.3M182.6 198.8h.3M182.1 202.4h.3M180.3 195.3h.3M183.5 196.5h.3M178.6 189.3h.3M182.9 192.0h.3M178.7 198.2h.3M171.8 204.3h.3M180.1 210.1h.3M180.1 183.6h.3M181.9 196.3h.3M176.9 186.8h.3M176.8 202.1h.3M180.3 206.9h.3M175.2 193.3h.3M176.6 201.2h.3M176.5 191.9h.3M175.2 198.6h.3M181.2 188.2h.3M179.9 207.4h.3M180.2 187.2h.3M176.8 192.8h.3M184.2 198.8h.3M183.2 200.7h.3M181.1 195.1h.3M170.7 200.8h.3M180.3 205.8h.3M172.6 190.5h.3M182.0 194.8h.3M179.6 192.4h.3M181.4 207.8h.3M170.7 192.2h.3M171.3 190.8h.3M175.0 197.5h.3M182.8 197.8h.3M174.3 204.0h.3M181.8 187.4h.3M180.5 193.0h.3M173.1 195.6h.3M170.8 193.3h.3M170.7 191.7h.3M176.9 200.2h.3M175.1 209.8h.3M172.2 189.5h.3M174.3 192.9h.3M182.1 188.1h.3M174.5 205.1h.3M173.8 203.4h.3M174.1 195.5h.3M180.9 194.6h.3M179.2 187.6h.3M176.4 194.0h.3M180.4 202.0h.3M172.2 209.9h.3M175.9 188.8h.3M173.6 186.7h.3M174.2 208.8h.3M183.2 197.1h.3M177.3 201.2h.3M175.4 196.7h.3M177.1 185.4h.3M175.4 195.0h.3M173.9 196.8h.3M179.7 205.4h.3M170.7 191.1h.3M171.3 200.4h.3M174.6 207.6h.3M178.5 186.0h.3M176.6 201.7h.3M178.4 192.8h.3M179.3 196.7h.3M179.3 193.4h.3M174.0 196.2h.3M178.7 192.9h.3M172.7 196.0h.3M178.0 189.5h.3M179.8 186.2h.3M183.4 187.5h.3M177.5 196.9h.3M175.9 188.2h.3M171.2 200.1h.3M180.7 187.5h.3M180.6 204.6h.3M183.9 195.1h.3M182.3 189.5h.3M183.6 199.7h.3M177.7 198.9h.3M177.0 198.7h.3M176.5 208.0h.3M180.2 203.3h.3M182.5 193.4h.3M183.6 199.0h.3M174.6 202.7h.3M180.0 186.4h.3M175.5 194.7h.3M178.8 190.5h.3M172.7 203.8h.3M178.0 201.3h.3M182.9 201.8h.3M180.0 203.9h.3M178.9 185.1h.3M176.3 198.6h.3M172.0 200.5h.3M175.9 193.1h.3M177.3 191.9h.3M171.7 206.0h.3M175.4 205.1h.3M171.5 196.0h.3M172.8 197.9h.3M174.4 200.0h.3M181.1 203.7h.3M176.3 206.1h.3M179.3 184.9h.3M183.7 190.2h.3M170.7 198.6h.3M178.6 197.7h.3M174.2 209.4h.3M183.5 192.7h.3M177.8 187.1h.3M183.9 188.8h.3M177.1 199.3h.3M170.7 200.8h.3M179.6 196.8h.3M178.2 192.0h.3M181.8 199.3h.3M180.0 201.0h.3M175.5 190.7h.3M170.7 197.7h.3M176.2 205.2h.3M173.4 188.5h.3M172.7 210.2h.3M183.6 192.3h.3M173.9 201.1h.3M183.0 204.4h.3M174.5 191.8h.3M175.2 193.2h.3M181.2 199.0h.3M181.1 189.7h.3M173.1 197.4h.3M174.6 184.5h.3M184.2 190.4h.3M175.3 190.6h.3M180.4 207.0h.3M172.3 190.9h.3M171.4 208.6h.3M176.4 210.9h.3M178.9 204.6h.3M171.0 206.4h.3M175.6 198.8h.3M170.9 202.0h.3M173.9 185.7h.3M172.7 203.7h.3M183.3 190.2h.3M184.8 192.4h.3M177.5 189.9h.3M176.9 187.2h.3M176.6 199.8h.3M181.9 205.9h.3M176.4 201.7h.3M176.8 194.5h.3M181.8 199.9h.3M174.6 186.0h.3M183.4 190.6h.3M183.1 195.6h.3M180.7 204.9h.3M178.8 197.9h.3M178.7 206.0h.3M184.5 189.7h.3M172.3 210.6h.3M176.3 196.4h.3M176.6 204.1h.3M181.8 198.7h.3M178.8 184.5h.3M176.3 192.1h.3M181.1 194.0h.3M181.5 191.1h.3M180.9 193.5h.3M175.0 204.1h.3M174.4 200.5h.3M171.0 189.5h.3M171.2 192.3h.3M180.2 203.8h.3M182.2 203.4h.3M175.6 191.3h.3M176.2 201.7h.3M172.3 198.8h.3M177.4 193.5h.3M181.2 201.5h.3M174.3 189.1h.3M172.1 200.9h.3M180.1 191.0h.3M174.6 186.9h.3M179.5 195.1h.3M176.2 195.3h.3M172.8 191.0h.3M172.4 210.1h.3M175.7 207.9h.3M178.2 209.2h.3M174.3 192.3h.3M174.5 208.8h.3M181.8 202.9h.3M176.2 204.8h.3M176.3 191.0h.3M177.1 196.0h.3M181.4 185.5h.3M178.6 196.1h.3M178.3 185.5h.3M172.7 200.0h.3M171.7 196.5h.3M177.2 201.2h.3M174.3 202.0h.3M183.8 192.9h.3M171.4 189.8h.3M171.8 191.6h.3M180.1 203.8h.3M174.1 198.0h.3M174.9 207.8h.3M171.0 208.9h.3M180.6 202.5h.3M178.2 188.0h.3M183.4 195.3h.3M177.7 200.5h.3" stroke="#000" stroke-opacity="0.66" stroke-width="0.7" stroke-linecap="square" fill="none"/>
<path d="M175.7 194.0h.3M175.2 205.5h.3M173.8 206.0h.3M178.3 193.0h.3M177.7 195.7h.3M179.2 199.0h.3M174.0 199.6h.3M180.7 196.7h.3M177.1 202.7h.3M175.0 194.1h.3M181.0 198.5h.3M175.1 194.1h.3M174.3 204.6h.3M171.3 202.6h.3M172.2 193.4h.3M172.2 199.3h.3M176.5 201.8h.3M176.7 195.5h.3M176.1 190.5h.3M176.3 200.7h.3M176.8 190.2h.3M176.8 199.7h.3M173.8 193.3h.3M178.8 194.3h.3M176.0 198.3h.3M176.7 205.6h.3M172.6 196.6h.3M173.1 196.2h.3M174.0 199.1h.3M176.2 196.4h.3M173.7 201.5h.3M170.9 192.3h.3M174.0 206.6h.3M180.0 187.7h.3M172.1 191.9h.3M177.5 205.5h.3M181.3 189.6h.3M176.3 196.7h.3M182.4 197.4h.3M181.6 196.5h.3M180.3 194.2h.3M179.5 195.2h.3M171.8 201.0h.3M181.7 190.9h.3M174.0 201.3h.3M172.7 201.3h.3M180.5 192.8h.3M180.4 187.1h.3M173.7 193.7h.3M170.7 192.6h.3M181.0 200.4h.3M178.6 204.1h.3M176.5 195.0h.3M179.7 189.9h.3M179.8 193.7h.3M175.4 197.4h.3M180.4 201.7h.3M178.9 187.2h.3M174.1 202.7h.3M172.5 204.1h.3M177.0 194.6h.3M175.7 190.7h.3M178.9 201.7h.3M171.9 199.7h.3M174.2 204.4h.3M178.7 196.8h.3M180.7 189.6h.3M181.4 195.9h.3M175.5 188.4h.3M172.3 201.9h.3M181.1 195.5h.3M173.5 193.7h.3M174.9 208.5h.3M173.3 200.3h.3M175.8 190.2h.3M177.4 190.8h.3M176.2 198.7h.3M173.7 206.7h.3M181.4 197.5h.3M175.1 201.0h.3M180.0 193.4h.3M171.5 202.0h.3M174.5 193.7h.3M178.0 193.3h.3M174.2 194.1h.3M180.2 207.6h.3M178.4 193.8h.3M173.9 195.8h.3M176.1 189.3h.3M172.2 192.1h.3M175.6 200.6h.3M181.0 201.4h.3M180.9 192.3h.3M181.0 197.9h.3M175.2 205.3h.3M172.9 196.9h.3M175.8 205.3h.3M179.9 189.9h.3M173.3 198.9h.3M174.2 191.0h.3M180.5 196.3h.3M178.8 202.8h.3M177.9 193.1h.3M178.7 188.9h.3M175.1 197.8h.3M177.4 197.5h.3M177.0 204.4h.3M173.6 204.8h.3M173.5 202.6h.3M174.6 194.3h.3M178.7 193.4h.3M173.0 195.1h.3M172.4 189.5h.3M178.9 192.4h.3M178.9 193.1h.3M174.7 191.1h.3M182.2 190.6h.3M181.5 191.2h.3M174.8 192.1h.3M179.2 203.6h.3M177.2 196.6h.3M171.7 202.1h.3M176.6 205.0h.3M177.0 186.8h.3M176.5 195.4h.3M181.0 194.0h.3M177.2 188.8h.3M170.7 191.9h.3M174.2 200.6h.3M177.5 202.6h.3M181.3 196.6h.3M176.3 205.2h.3M176.7 192.9h.3M179.8 188.2h.3M176.3 199.0h.3M179.4 191.4h.3M180.8 198.0h.3M176.2 193.3h.3M174.4 195.1h.3M173.8 198.4h.3M174.6 194.6h.3M174.7 190.4h.3M173.5 193.2h.3M176.1 193.2h.3M182.2 189.1h.3M178.7 190.7h.3M172.8 200.6h.3M174.0 199.0h.3M174.8 195.7h.3M171.9 196.6h.3M175.0 189.7h.3M178.7 195.0h.3M171.8 198.4h.3M181.1 199.9h.3M171.9 202.3h.3M176.4 199.1h.3M180.1 194.4h.3M171.5 201.2h.3M180.9 187.9h.3M181.6 189.4h.3M181.4 201.1h.3M179.2 202.5h.3M172.7 198.0h.3M179.9 199.4h.3M174.4 191.2h.3M180.9 197.7h.3M173.0 201.4h.3M172.3 200.3h.3M179.4 191.3h.3M181.9 194.9h.3M179.9 192.3h.3M177.8 191.0h.3M173.3 202.2h.3M175.9 205.9h.3M177.5 203.1h.3M181.4 194.2h.3M181.0 198.8h.3M175.3 205.7h.3M172.8 193.9h.3M178.5 200.3h.3M178.9 189.9h.3M173.4 201.4h.3M171.9 199.9h.3M174.6 188.4h.3M179.4 199.4h.3M180.3 192.7h.3M180.9 190.4h.3M180.9 200.7h.3M179.6 188.8h.3M180.8 188.7h.3M181.5 201.1h.3M180.1 190.8h.3M173.5 202.6h.3M173.1 198.8h.3M173.4 193.1h.3M173.0 196.9h.3M181.2 195.7h.3M175.6 191.4h.3M177.5 203.0h.3M175.6 203.7h.3M177.1 194.0h.3M175.9 189.6h.3M180.6 196.1h.3M177.6 195.6h.3M176.6 201.2h.3M172.9 202.8h.3M181.9 190.0h.3M174.1 192.3h.3M179.2 196.8h.3M177.5 207.4h.3M176.7 191.7h.3M177.0 204.7h.3M180.4 193.6h.3M179.6 187.1h.3M175.9 203.1h.3M180.4 196.8h.3M172.4 189.2h.3M176.3 191.4h.3M178.0 188.2h.3M176.3 197.3h.3M180.0 205.5h.3M174.0 191.0h.3M172.5 205.1h.3M178.7 196.1h.3M173.3 194.7h.3M177.7 202.3h.3M179.9 192.7h.3M178.8 200.4h.3M176.3 196.5h.3M173.0 202.8h.3M183.6 194.8h.3M176.8 203.4h.3M178.4 190.9h.3M174.1 194.9h.3M174.5 194.2h.3M180.7 203.4h.3M174.9 204.0h.3M175.2 205.1h.3M171.9 193.7h.3M180.1 197.7h.3M175.8 202.9h.3M173.8 204.4h.3M178.8 188.5h.3M174.3 203.3h.3M180.6 204.1h.3M170.7 198.1h.3M179.8 190.2h.3M178.6 199.4h.3M171.8 206.4h.3M171.1 189.8h.3M174.4 192.7h.3M179.6 192.5h.3M181.4 189.1h.3M177.1 191.1h.3M172.5 206.5h.3M176.5 198.7h.3M176.0 192.8h.3M175.0 196.3h.3M177.0 202.8h.3M176.2 197.5h.3M173.0 198.2h.3M175.4 192.7h.3M174.6 192.5h.3M181.9 199.5h.3M177.5 202.6h.3M180.8 200.2h.3M182.0 200.7h.3M179.2 199.7h.3M180.2 197.0h.3M178.1 206.4h.3M176.7 203.0h.3M178.9 202.1h.3M180.7 202.8h.3M177.2 196.2h.3M178.0 206.3h.3M173.3 201.8h.3M179.5 199.6h.3M181.6 194.1h.3M173.9 195.9h.3M181.2 200.6h.3M175.3 190.9h.3M174.0 189.9h.3M178.9 196.3h.3M180.7 190.9h.3M180.1 191.3h.3M178.6 203.7h.3M175.8 196.9h.3M175.1 194.0h.3M179.1 202.6h.3M176.8 203.0h.3M182.0 195.8h.3M174.1 196.8h.3M175.2 192.7h.3M176.9 203.3h.3M180.7 204.4h.3M181.2 188.9h.3M172.4 190.9h.3M171.0 194.3h.3M178.2 208.2h.3M175.5 198.4h.3M176.9 202.7h.3M173.1 196.5h.3M177.5 195.2h.3M173.1 191.0h.3M176.5 207.8h.3M173.6 203.5h.3M176.2 203.7h.3M175.4 206.8h.3M175.0 201.8h.3M178.3 198.5h.3M181.2 193.5h.3M182.0 198.8h.3M176.9 198.3h.3M172.2 200.0h.3M176.1 199.4h.3M173.7 194.3h.3M177.9 198.4h.3M176.3 205.8h.3M175.6 195.0h.3M180.9 201.2h.3M173.2 192.3h.3M178.2 193.0h.3M172.7 200.3h.3M178.9 187.4h.3M177.1 197.8h.3M177.9 194.2h.3M176.7 200.7h.3M181.7 201.3h.3M176.9 205.6h.3M179.2 196.9h.3M173.4 194.3h.3M180.7 189.2h.3M172.3 197.5h.3M173.8 207.0h.3M179.6 195.5h.3M173.3 199.6h.3M181.3 195.7h.3M180.8 190.7h.3M178.0 203.5h.3M177.3 194.6h.3M175.9 191.0h.3M174.2 202.9h.3M181.6 195.5h.3M178.3 194.3h.3M175.3 199.2h.3M174.1 202.5h.3M179.4 196.4h.3M175.5 207.0h.3M172.3 193.6h.3M175.0 190.1h.3M173.3 198.7h.3M177.8 201.2h.3M172.9 198.2h.3M172.4 201.0h.3M177.3 193.8h.3M172.6 192.3h.3M180.8 188.5h.3M176.0 194.1h.3M180.6 191.2h.3M178.1 190.8h.3M181.2 193.4h.3M178.9 197.2h.3M181.1 191.4h.3M181.6 193.3h.3M174.5 202.8h.3M181.9 193.6h.3M174.2 193.4h.3M173.1 205.6h.3M173.9 191.8h.3M173.2 190.8h.3M181.9 195.4h.3M182.4 202.0h.3M174.2 193.0h.3M175.5 198.1h.3M171.6 201.7h.3M172.6 207.0h.3M175.9 202.2h.3M179.5 193.9h.3M172.6 192.3h.3M174.0 192.1h.3M172.2 195.9h.3M171.4 191.5h.3M173.3 207.4h.3M177.1 198.2h.3M180.8 199.2h.3M177.6 190.8h.3M173.7 206.7h.3M173.1 200.9h.3M178.0 191.5h.3M179.2 196.8h.3M171.9 204.9h.3M177.1 191.7h.3M174.1 196.2h.3M176.7 188.4h.3M177.7 190.0h.3M173.1 204.4h.3M176.2 189.1h.3M178.0 194.1h.3M176.6 206.5h.3M181.1 197.6h.3M178.3 189.2h.3M173.9 203.5h.3M174.8 190.5h.3M178.4 195.0h.3M174.6 189.8h.3M181.3 194.7h.3M178.5 206.1h.3M173.9 207.1h.3M171.8 195.5h.3M181.8 192.9h.3M175.2 189.8h.3M181.5 189.8h.3M178.2 206.0h.3M179.5 200.3h.3M172.0 199.2h.3M172.7 199.8h.3M175.5 194.1h.3M181.3 196.3h.3M173.7 202.3h.3M180.4 197.5h.3M180.2 197.9h.3M173.0 191.9h.3M178.8 204.0h.3M176.6 187.2h.3M176.2 202.3h.3M177.2 193.1h.3M181.2 200.2h.3M170.8 202.4h.3M179.7 199.3h.3M181.1 199.4h.3M179.7 193.5h.3M177.1 198.9h.3M171.5 198.5h.3M178.4 197.9h.3M181.1 200.7h.3M178.8 206.4h.3M182.1 201.2h.3M179.5 196.8h.3M182.4 199.6h.3M172.3 190.9h.3M171.0 198.8h.3M181.9 192.8h.3M182.0 202.3h.3M173.6 195.7h.3M177.8 192.5h.3M178.4 198.1h.3M175.2 205.1h.3M179.9 187.1h.3M171.7 199.7h.3M177.6 205.9h.3M176.2 194.4h.3M176.0 190.8h.3M180.5 191.7h.3M177.0 202.4h.3M180.3 195.0h.3M181.0 191.4h.3M176.4 205.6h.3M178.7 190.4h.3M179.8 187.5h.3M177.0 202.3h.3M181.1 200.7h.3M173.6 201.3h.3M178.7 187.8h.3M175.1 204.4h.3M178.9 194.8h.3M175.7 202.4h.3M176.9 199.0h.3M177.8 203.0h.3M177.3 199.7h.3M174.1 192.1h.3M175.6 201.3h.3M176.2 196.1h.3M173.2 193.2h.3M181.4 201.2h.3M182.6 201.2h.3M174.7 197.9h.3M170.9 195.4h.3M173.5 195.4h.3M174.0 203.6h.3M176.2 193.2h.3M177.7 191.4h.3M180.6 196.0h.3M181.3 198.7h.3M177.5 202.6h.3M176.1 200.5h.3M181.2 197.4h.3M179.6 191.9h.3M178.5 199.2h.3M172.8 204.7h.3M173.7 192.4h.3M179.0 197.4h.3M177.7 195.4h.3M171.5 196.3h.3M176.7 190.7h.3M179.5 206.3h.3M179.0 190.5h.3M183.5 189.0h.3M182.2 191.6h.3M178.8 198.4h.3M171.2 201.2h.3" stroke="#000" stroke-opacity="0.62" stroke-width="0.7" stroke-linecap="square" fill="none"/>
<path d="M185.4 194.3h.3M181.7 205.5h.3M186.0 205.9h.3M187.1 195.1h.3M183.9 203.6h.3M184.5 202.2h.3M183.3 195.7h.3M184.2 195.3h.3M180.3 207.1h.3M184.8 194.8h.3M185.8 200.6h.3M183.5 193.4h.3M184.4 204.8h.3M184.0 202.7h.3M183.8 186.7h.3M183.9 190.3h.3M184.8 204.6h.3M184.8 200.5h.3M184.9 193.4h.3M185.8 196.1h.3M183.8 192.8h.3M185.6 200.9h.3M182.8 189.8h.3M186.7 196.2h.3M184.0 206.9h.3M185.0 191.9h.3M185.6 203.1h.3M182.4 205.3h.3M183.9 193.9h.3M185.5 194.5h.3M186.6 193.1h.3M183.8 196.4h.3M186.7 200.2h.3M183.1 194.4h.3M186.0 200.1h.3M184.0 193.1h.3M185.5 192.8h.3M183.3 194.7h.3M184.0 201.1h.3M182.7 206.4h.3M182.8 194.0h.3M186.5 201.8h.3M183.8 191.0h.3M184.5 194.6h.3M182.8 201.3h.3M185.4 198.9h.3M184.6 197.5h.3M184.9 191.3h.3M185.7 200.4h.3M185.0 200.0h.3M186.6 201.7h.3M185.1 195.7h.3M183.7 206.5h.3M184.9 204.6h.3M187.4 197.0h.3M184.8 196.0h.3M185.6 198.3h.3M185.2 201.9h.3M183.8 204.6h.3M186.4 196.1h.3M187.6 201.9h.3M181.0 206.2h.3M182.7 206.0h.3M182.2 207.8h.3M182.1 208.8h.3M183.5 191.5h.3M181.9 197.9h.3M184.5 205.5h.3M184.9 202.8h.3M184.2 199.1h.3M183.2 195.9h.3M183.5 202.6h.3M182.3 206.7h.3M185.9 190.6h.3M182.3 194.2h.3M181.6 196.9h.3M181.1 201.4h.3M182.0 209.1h.3M185.1 200.1h.3M186.1 207.7h.3M181.6 207.7h.3M186.0 197.5h.3M184.4 193.8h.3M186.1 200.7h.3M184.1 206.9h.3M180.9 208.5h.3M185.2 191.3h.3M184.7 205.6h.3M179.9 206.6h.3M185.2 202.7h.3M184.8 198.2h.3M186.3 200.0h.3M186.3 196.9h.3M180.0 206.4h.3M185.7 193.9h.3M182.5 203.1h.3M186.3 202.3h.3M186.0 195.5h.3M181.0 201.1h.3M184.8 196.0h.3M182.4 199.3h.3M186.0 197.3h.3M186.6 198.3h.3M186.2 205.0h.3M180.7 207.3h.3M185.4 196.9h.3M180.7 200.2h.3M184.2 206.4h.3M185.2 198.3h.3M184.6 205.4h.3M184.6 191.7h.3M183.6 196.1h.3M188.2 197.7h.3M186.3 196.2h.3M181.7 201.2h.3M184.6 202.9h.3M180.8 195.3h.3M180.0 206.9h.3M181.8 208.4h.3M185.3 195.1h.3" stroke="#000" stroke-opacity="0.35" stroke-width="0.7" stroke-linecap="square" fill="none"/>
<path d="M184.7 232.2h.3M183.4 235.8h.3M179.7 234.2h.3M184.0 230.8h.3M185.0 230.5h.3M176.4 239.6h.3M183.7 230.5h.3M184.1 221.6h.3M175.3 238.0h.3M175.5 239.4h.3M172.9 232.5h.3M182.6 210.2h.3M173.3 227.4h.3M183.6 223.1h.3M184.8 222.6h.3M183.2 239.6h.3M185.1 238.2h.3M182.3 214.3h.3M172.1 222.9h.3M177.4 239.6h.3M177.3 211.3h.3M174.3 221.6h.3M176.9 236.8h.3M180.7 228.5h.3M174.3 215.8h.3M177.9 221.5h.3M181.3 225.1h.3M183.7 225.5h.3M182.4 215.2h.3M179.9 218.8h.3M184.2 221.0h.3M183.1 216.9h.3M172.4 220.0h.3M177.0 215.9h.3M179.9 226.9h.3M182.0 220.7h.3M172.2 238.0h.3M182.2 220.6h.3M179.6 223.1h.3M179.0 221.5h.3M179.8 230.0h.3M182.4 218.6h.3M185.0 226.2h.3M177.2 239.6h.3M180.7 234.7h.3M174.8 234.0h.3M185.5 213.0h.3M176.9 221.8h.3M182.1 232.2h.3M174.3 231.3h.3M184.8 236.8h.3M184.5 228.2h.3M178.0 213.8h.3M171.1 217.5h.3M175.4 235.1h.3M172.5 210.4h.3M176.4 213.3h.3M183.6 230.0h.3M179.1 212.2h.3M175.1 221.6h.3M184.3 233.6h.3M175.8 221.8h.3M188.7 222.4h.3M178.8 213.1h.3M177.5 222.5h.3M185.2 229.0h.3M180.3 229.3h.3M181.2 235.3h.3M182.5 210.3h.3M181.5 231.3h.3M184.8 220.1h.3M175.1 221.1h.3M173.6 223.0h.3M180.0 211.8h.3M175.8 218.8h.3M176.2 231.4h.3M183.9 222.2h.3M188.1 238.8h.3M183.5 236.7h.3M174.5 227.0h.3M178.0 234.4h.3M179.2 228.3h.3M174.0 211.2h.3M185.6 226.3h.3M184.3 236.1h.3M180.1 230.0h.3M175.7 239.0h.3M181.9 231.0h.3M173.2 224.6h.3M180.6 221.6h.3M179.5 234.9h.3M175.0 228.5h.3M184.6 221.1h.3M179.2 226.0h.3M178.6 229.5h.3M175.4 215.4h.3M171.6 214.5h.3M186.0 227.4h.3M179.8 226.7h.3M171.3 223.5h.3M170.7 217.3h.3M185.8 233.3h.3M175.0 214.8h.3M184.6 224.8h.3M177.1 226.1h.3M177.3 235.3h.3M183.7 220.0h.3M184.5 232.6h.3M170.7 219.7h.3M175.5 218.3h.3M172.2 236.1h.3M182.9 221.1h.3M180.1 222.8h.3M174.2 232.2h.3M178.5 228.4h.3M183.7 225.6h.3M172.1 233.9h.3M182.9 211.9h.3M173.5 225.8h.3M179.0 222.6h.3M171.2 227.3h.3M180.3 221.9h.3M181.1 234.8h.3M187.9 239.6h.3M185.4 218.2h.3M179.6 233.9h.3M184.1 230.0h.3M181.6 231.3h.3M179.5 235.6h.3M171.5 213.5h.3M172.8 228.6h.3M182.2 231.3h.3M177.7 222.0h.3M178.0 231.0h.3M177.3 212.2h.3M175.6 227.1h.3M180.7 231.4h.3M171.5 212.2h.3M175.8 218.8h.3M183.7 213.5h.3M177.5 212.8h.3M180.9 237.4h.3M175.1 221.2h.3M173.1 235.2h.3M182.8 218.6h.3M177.7 225.1h.3M185.2 227.0h.3M183.6 230.1h.3M176.4 213.6h.3M174.8 229.8h.3M182.4 225.7h.3M172.2 221.3h.3M182.1 231.0h.3M173.0 235.8h.3M185.7 227.6h.3M173.7 209.0h.3M180.5 229.9h.3M177.9 234.6h.3M175.3 215.8h.3M180.9 230.3h.3M171.3 233.6h.3M184.9 226.8h.3M180.6 222.5h.3M175.9 238.0h.3M173.9 212.8h.3M182.7 237.8h.3M177.8 217.1h.3M174.9 220.3h.3M182.4 216.7h.3M175.9 239.6h.3M177.9 220.9h.3M185.6 224.4h.3M179.4 231.2h.3M183.2 225.3h.3M184.9 233.5h.3M179.9 231.9h.3M176.0 228.2h.3M183.5 228.0h.3M183.6 238.7h.3M170.7 239.1h.3M172.6 225.7h.3M183.2 237.6h.3M177.5 211.4h.3M185.9 233.4h.3M184.6 232.6h.3M179.6 226.5h.3M173.2 215.0h.3M185.3 234.5h.3M174.6 236.2h.3M172.5 214.9h.3M174.8 226.5h.3M186.6 229.0h.3M182.0 232.9h.3M172.4 226.4h.3M185.2 232.5h.3M181.1 239.1h.3M184.2 223.3h.3M174.7 232.5h.3M177.2 233.5h.3M172.4 220.1h.3M183.7 213.2h.3M178.3 217.6h.3M185.4 229.0h.3M184.3 214.9h.3M183.5 216.4h.3M179.3 227.8h.3M175.2 212.3h.3M179.5 212.1h.3M174.4 230.5h.3M174.0 225.5h.3M172.1 233.4h.3M183.2 237.8h.3M184.4 215.6h.3M177.3 218.3h.3M172.8 221.9h.3M175.4 235.7h.3M185.4 213.8h.3M181.2 232.0h.3M171.9 230.8h.3M184.0 225.4h.3M177.3 238.4h.3M181.9 235.1h.3M182.4 233.6h.3M183.5 228.2h.3M178.1 233.7h.3M186.5 231.0h.3M182.1 236.8h.3M183.9 223.6h.3M177.9 220.9h.3M180.7 216.6h.3M181.5 225.6h.3M177.9 228.3h.3M171.7 231.5h.3M180.7 224.2h.3M184.7 217.9h.3M176.9 236.4h.3M173.7 232.4h.3M178.2 215.0h.3M171.9 221.2h.3M179.8 225.3h.3M184.2 235.2h.3M173.9 220.5h.3M185.9 216.6h.3M172.9 225.9h.3M182.5 215.0h.3M174.9 222.4h.3M179.0 220.0h.3M170.7 229.7h.3M181.5 213.1h.3M172.2 218.7h.3M177.8 224.9h.3M185.2 239.6h.3M181.2 223.5h.3M180.5 218.3h.3M177.0 225.6h.3M184.5 232.7h.3M178.4 234.0h.3M179.9 238.6h.3M173.7 235.2h.3M181.8 218.3h.3M182.9 210.8h.3M178.1 226.0h.3M183.5 221.8h.3M182.1 220.7h.3M185.3 233.9h.3M179.8 226.3h.3M184.8 238.7h.3M175.6 236.0h.3M176.5 227.1h.3M176.2 232.5h.3M180.4 218.4h.3M185.5 212.4h.3M173.4 217.5h.3M176.9 231.9h.3M182.4 238.9h.3M174.0 224.0h.3M177.3 234.3h.3M175.9 213.5h.3M185.6 228.6h.3M184.0 225.3h.3M180.5 216.2h.3M175.5 228.6h.3M174.1 227.1h.3M180.3 227.6h.3M177.8 236.5h.3M184.8 218.4h.3M176.8 210.2h.3M181.9 218.1h.3M185.7 227.9h.3M173.2 221.5h.3M184.0 219.5h.3M186.2 228.8h.3M185.1 225.9h.3M170.8 225.7h.3M174.4 212.1h.3M170.7 210.3h.3M184.9 225.0h.3M174.6 232.4h.3M178.3 239.6h.3M184.7 227.2h.3M174.5 211.3h.3M184.1 229.7h.3M180.9 212.2h.3M176.7 227.6h.3M176.0 236.2h.3M186.0 236.6h.3M178.9 231.6h.3M171.6 218.7h.3M175.2 222.4h.3M173.5 209.9h.3M185.6 221.3h.3M183.0 229.0h.3M179.2 220.8h.3M184.5 216.3h.3M184.9 217.4h.3M182.8 236.2h.3M180.7 223.0h.3M181.3 218.9h.3M178.7 220.6h.3M182.4 222.2h.3M176.7 215.4h.3M183.9 234.8h.3M175.6 235.9h.3M180.4 212.7h.3M172.5 237.1h.3M182.0 237.7h.3M183.2 235.7h.3M177.9 239.3h.3M180.6 227.0h.3M177.4 224.4h.3M181.0 222.4h.3M180.0 213.1h.3M183.6 231.2h.3M171.9 219.0h.3M178.4 233.3h.3M180.5 218.8h.3M178.9 239.2h.3M181.0 212.9h.3M172.5 230.0h.3M182.2 230.6h.3M184.0 227.0h.3M184.0 225.9h.3M175.5 222.3h.3M186.5 224.5h.3M174.5 211.2h.3M176.3 213.8h.3M175.3 238.4h.3M171.7 228.0h.3M174.9 217.4h.3M180.8 227.5h.3M178.8 214.5h.3M179.8 222.8h.3M170.7 214.6h.3M174.7 212.6h.3M185.5 229.2h.3M172.4 216.1h.3M185.5 236.8h.3M178.5 225.8h.3M184.9 214.6h.3M181.3 210.4h.3M184.3 237.1h.3M174.4 225.4h.3M181.7 237.1h.3M176.8 223.9h.3M173.4 238.7h.3M171.2 212.0h.3M180.2 217.5h.3M183.0 210.2h.3M170.9 226.6h.3M178.7 212.6h.3M177.1 223.2h.3M187.6 215.3h.3M176.6 217.4h.3M175.5 222.3h.3M183.0 236.4h.3M178.2 238.5h.3M178.2 230.3h.3M184.0 228.6h.3M171.9 233.6h.3M178.6 224.7h.3M173.2 235.4h.3M177.9 210.3h.3M176.8 229.9h.3M170.7 215.8h.3M177.5 232.4h.3M170.7 211.4h.3M183.8 233.3h.3M178.2 223.8h.3M181.8 214.8h.3M171.0 220.2h.3M171.1 216.4h.3M172.6 239.5h.3M171.1 224.7h.3M170.7 210.6h.3M175.6 228.3h.3M186.0 224.4h.3M173.4 230.0h.3M181.1 234.0h.3M175.2 229.1h.3M174.7 236.7h.3M179.1 219.3h.3M182.1 215.2h.3M171.4 225.6h.3M179.5 236.3h.3M171.1 219.6h.3M181.5 212.9h.3M177.8 225.4h.3M181.3 230.8h.3M176.5 221.2h.3M175.1 233.2h.3M179.5 230.2h.3M175.0 217.5h.3M177.1 233.7h.3M175.3 220.4h.3M178.9 226.1h.3M175.8 217.6h.3M178.7 239.4h.3M184.8 236.9h.3M181.3 223.9h.3M179.7 223.4h.3M184.1 231.7h.3M173.1 235.9h.3M185.9 222.6h.3M178.9 238.7h.3M176.9 220.5h.3M183.8 226.0h.3M175.6 223.3h.3M185.7 221.2h.3M177.8 222.1h.3M182.0 219.4h.3M183.9 214.8h.3M172.7 228.3h.3M173.8 210.3h.3M180.5 230.9h.3M173.7 222.6h.3M175.2 230.5h.3M176.4 235.5h.3M181.2 239.6h.3M178.1 234.5h.3M180.9 219.1h.3M170.7 216.1h.3M178.5 211.1h.3M173.1 222.2h.3M186.0 226.6h.3M180.4 233.8h.3M180.9 237.6h.3M175.6 212.8h.3M183.7 214.8h.3M172.9 239.2h.3M179.4 224.4h.3M179.2 209.9h.3M176.8 237.7h.3M176.3 222.5h.3M174.2 220.5h.3M181.9 227.1h.3M184.2 222.6h.3M175.2 218.6h.3M182.9 221.7h.3M180.7 225.6h.3M183.1 212.3h.3M183.8 213.9h.3M178.3 223.2h.3M177.5 213.2h.3M176.2 228.2h.3M183.6 223.9h.3M172.3 217.4h.3M177.4 225.0h.3M179.0 216.7h.3M185.2 225.6h.3M178.0 227.2h.3M175.0 211.0h.3M178.1 215.2h.3M180.7 218.6h.3M181.5 221.5h.3M184.6 219.0h.3M185.0 216.2h.3M177.2 215.7h.3M181.6 211.5h.3M183.4 215.7h.3M170.7 219.5h.3M175.9 235.5h.3M173.8 239.4h.3M172.2 238.2h.3M184.2 227.7h.3M179.6 231.2h.3M184.5 214.5h.3M183.2 216.1h.3M180.0 227.6h.3M186.3 230.4h.3M176.9 219.5h.3M175.0 228.7h.3M179.6 225.8h.3M171.8 230.5h.3M173.9 214.3h.3M184.5 235.0h.3M177.1 237.1h.3M181.0 210.6h.3M173.5 229.6h.3M179.7 239.5h.3M177.8 218.9h.3M179.5 225.5h.3M180.4 224.0h.3M173.3 228.7h.3M181.9 213.9h.3M180.6 214.0h.3M178.0 224.2h.3M179.2 215.7h.3M180.1 224.0h.3M187.6 236.4h.3M183.1 220.4h.3M175.3 215.2h.3M174.7 225.5h.3M176.2 236.3h.3M182.2 215.3h.3M174.3 215.0h.3M172.6 234.9h.3M180.9 226.9h.3M170.7 228.0h.3M188.2 239.6h.3M176.4 211.5h.3M177.6 233.2h.3M176.1 214.0h.3M181.6 236.9h.3M171.8 219.0h.3M175.1 228.7h.3M174.5 212.4h.3M178.3 239.6h.3M171.7 212.8h.3M173.3 219.2h.3M177.1 231.6h.3M179.7 232.2h.3M184.3 215.6h.3M185.5 213.7h.3M173.9 230.2h.3M180.8 233.3h.3M172.9 211.3h.3M171.4 215.0h.3M184.5 222.6h.3M173.7 230.4h.3M172.2 226.2h.3M175.2 220.1h.3M176.8 218.6h.3M171.1 215.9h.3M180.4 217.2h.3M183.9 236.4h.3M174.7 216.8h.3M182.6 237.5h.3M180.6 213.1h.3M170.8 211.2h.3M177.2 236.4h.3M175.8 218.5h.3M178.6 231.0h.3M181.4 210.3h.3M171.0 221.5h.3M180.4 226.5h.3M170.7 220.2h.3M170.7 234.0h.3M180.4 226.3h.3M176.5 229.4h.3M176.0 224.8h.3M176.6 212.9h.3M181.4 214.7h.3M177.6 239.6h.3M176.1 236.0h.3M172.5 230.0h.3M181.5 213.6h.3M173.2 213.3h.3M171.6 230.6h.3M175.2 224.7h.3M175.8 214.8h.3M171.9 224.5h.3M176.3 211.7h.3M171.7 224.7h.3M182.9 214.0h.3M181.7 235.3h.3M180.4 212.8h.3M178.4 221.3h.3M175.0 215.0h.3M183.7 234.6h.3M175.5 223.6h.3M178.7 231.0h.3M176.8 222.2h.3M183.3 217.5h.3M183.7 227.4h.3M179.3 223.9h.3M179.2 233.6h.3M179.8 227.8h.3M179.5 223.4h.3M174.5 220.9h.3M177.7 231.6h.3M171.0 236.5h.3M176.1 215.7h.3M179.0 227.9h.3M180.1 226.8h.3M180.7 219.1h.3M177.3 236.1h.3M182.7 223.7h.3M173.9 227.9h.3M174.2 209.7h.3M182.6 226.6h.3" stroke="#000" stroke-opacity="0.45" stroke-width="0.7" stroke-linecap="square" fill="none"/>
<path d="M176.6 231.3h.3M176.3 228.2h.3M182.4 220.0h.3M174.1 216.5h.3M179.9 233.0h.3M178.6 224.9h.3M178.1 224.1h.3M176.4 222.1h.3M180.3 221.7h.3M172.6 228.3h.3M173.1 218.8h.3M172.1 227.8h.3M181.2 222.4h.3M180.3 223.9h.3M177.1 227.8h.3M175.1 214.3h.3M175.5 236.1h.3M172.0 228.4h.3M176.7 224.6h.3M173.1 228.9h.3M180.1 232.3h.3M182.9 225.4h.3M173.8 234.5h.3M178.3 234.5h.3M173.3 231.6h.3M177.9 225.2h.3M174.6 223.2h.3M175.4 212.5h.3M181.3 224.0h.3M179.5 219.8h.3M177.0 218.3h.3M175.0 223.6h.3M175.5 226.4h.3M173.9 220.6h.3M174.8 232.7h.3M176.5 225.3h.3M180.4 237.4h.3M180.8 218.3h.3M173.0 224.4h.3M176.7 231.3h.3M173.8 230.2h.3M181.8 230.2h.3M178.1 233.4h.3M174.4 227.7h.3M180.2 223.8h.3M180.8 231.9h.3M175.7 222.2h.3M172.9 223.4h.3M174.9 229.1h.3M182.4 221.4h.3M181.1 231.0h.3M180.6 225.7h.3M179.0 237.6h.3M179.9 219.2h.3M177.5 225.2h.3M176.8 230.2h.3M172.6 225.3h.3M177.9 233.4h.3M173.1 222.2h.3M176.0 222.9h.3M177.1 213.9h.3M174.5 236.7h.3M180.7 223.2h.3M173.9 223.8h.3M175.4 223.8h.3M180.4 225.5h.3M177.7 228.4h.3M176.2 225.2h.3M177.7 234.8h.3M178.8 228.0h.3M174.8 224.9h.3M174.6 231.2h.3M173.4 221.5h.3M179.4 219.7h.3M173.9 223.6h.3M176.2 227.6h.3M177.0 225.3h.3M179.1 232.9h.3M179.7 232.0h.3M179.7 213.8h.3M182.9 223.1h.3M176.9 227.2h.3M176.4 228.7h.3M177.3 230.8h.3M174.9 218.5h.3M174.7 223.5h.3M172.9 229.0h.3M173.0 224.0h.3M173.4 223.2h.3M180.2 230.4h.3M182.6 223.4h.3M179.7 221.9h.3M178.5 220.1h.3M174.2 223.2h.3M175.9 229.0h.3M179.8 235.0h.3M173.0 217.7h.3M179.9 223.4h.3M175.4 233.6h.3M175.0 224.3h.3M177.5 222.0h.3M182.4 226.8h.3M176.8 225.6h.3M175.5 232.7h.3M177.9 229.6h.3M177.7 227.0h.3M176.1 234.7h.3M172.7 228.4h.3M173.0 215.0h.3M175.0 221.9h.3M175.7 227.6h.3M175.5 220.5h.3M179.4 228.5h.3M172.1 220.0h.3M174.9 224.8h.3M177.4 228.9h.3M179.8 234.2h.3M180.9 214.7h.3M176.9 229.3h.3M177.9 216.5h.3M175.8 222.5h.3M176.4 234.5h.3M177.4 230.2h.3M177.6 216.7h.3M174.1 221.4h.3M173.8 222.1h.3M179.6 229.1h.3M182.5 232.6h.3M176.1 218.0h.3M176.1 222.1h.3M176.5 225.6h.3M172.0 218.9h.3M177.4 218.2h.3M178.9 235.1h.3M179.1 233.9h.3M173.6 237.7h.3M171.8 231.3h.3M179.8 225.2h.3M179.0 228.9h.3M183.1 223.1h.3M181.6 227.5h.3M172.3 220.1h.3M180.5 228.3h.3M177.2 226.3h.3M175.9 227.1h.3M174.1 227.3h.3M176.2 223.2h.3M175.8 222.6h.3M175.6 226.8h.3M177.2 226.0h.3" stroke="#000" stroke-opacity="0.4" stroke-width="0.7" stroke-linecap="square" fill="none"/>
<path d="M207.4 235.8h.3M198.4 186.7h.3M194.2 223.5h.3M203.8 232.9h.3M209.7 207.3h.3M188.7 174.6h.3M196.9 209.3h.3M219.2 235.0h.3M209.9 209.5h.3M209.4 204.6h.3M206.6 234.1h.3M215.1 215.8h.3" stroke="#000" stroke-opacity="0.2" stroke-width="0.7" stroke-linecap="square" fill="none"/>
<path d="M175.9 240.3v-0.9M179.2 240.3v-0.9M181.5 240.3v-0.9M183.3 240.3v-0.9M184.8 240.3v-0.9M186.1 240.3v-0.9M187.2 240.3v-0.9M188.1 240.3v-0.9M194.7 240.3v-0.9M198.0 240.3v-0.9M200.3 240.3v-0.9M202.1 240.3v-0.9M203.6 240.3v-0.9M204.9 240.3v-0.9M206.0 240.3v-0.9M206.9 240.3v-0.9M213.5 240.3v-0.9M216.8 240.3v-0.9M219.1 240.3v-0.9M220.9 240.3v-0.9M222.4 240.3v-0.9M223.7 240.3v-0.9M224.8 240.3v-0.9M225.7 240.3v-0.9M232.3 240.3v-0.9M235.6 240.3v-0.9M237.9 240.3v-0.9M239.7 240.3v-0.9M241.2 240.3v-0.9M242.5 240.3v-0.9M243.6 240.3v-0.9M244.5 240.3v-0.9M170.2 234.3h0.9M170.2 230.8h0.9M170.2 228.3h0.9M170.2 226.3h0.9M170.2 224.7h0.9M170.2 223.4h0.9M170.2 222.2h0.9M170.2 221.2h0.9M170.2 214.3h0.9M170.2 210.8h0.9M170.2 208.3h0.9M170.2 206.3h0.9M170.2 204.7h0.9M170.2 203.4h0.9M170.2 202.2h0.9M170.2 201.2h0.9M170.2 194.3h0.9M170.2 190.8h0.9M170.2 188.3h0.9M170.2 186.3h0.9M170.2 184.7h0.9M170.2 183.4h0.9M170.2 182.2h0.9M170.2 181.2h0.9M170.2 174.3h0.9M170.2 170.8h0.9M170.2 168.3h0.9M170.2 166.3h0.9M170.2 164.7h0.9M170.2 163.4h0.9M170.2 162.2h0.9M170.2 161.2h0.9M170.2 240.3v1.3M189.0 240.3v1.3M207.8 240.3v1.3M226.6 240.3v1.3M245.4 240.3v1.3M170.2 240.3h-1.3M170.2 220.3h-1.3M170.2 200.3h-1.3M170.2 180.3h-1.3M170.2 160.3h-1.3" stroke="#666" stroke-width="0.5" fill="none"/>
<text x="169.6" y="246.8" class="SN" font-size="3.4" text-anchor="middle" fill="#333">10<tspan dy="-1.6" font-size="2.5">0</tspan></text>
<text x="167.6" y="240.6" class="SN" font-size="3.4" text-anchor="middle" fill="#333" transform="rotate(-90 167.6 240.6)">10<tspan dy="-1.6" font-size="2.5">0</tspan></text>
<text x="188.4" y="246.8" class="SN" font-size="3.4" text-anchor="middle" fill="#333">10<tspan dy="-1.6" font-size="2.5">1</tspan></text>
<text x="167.6" y="220.6" class="SN" font-size="3.4" text-anchor="middle" fill="#333" transform="rotate(-90 167.6 220.6)">10<tspan dy="-1.6" font-size="2.5">1</tspan></text>
<text x="207.2" y="246.8" class="SN" font-size="3.4" text-anchor="middle" fill="#333">10<tspan dy="-1.6" font-size="2.5">2</tspan></text>
<text x="167.6" y="200.6" class="SN" font-size="3.4" text-anchor="middle" fill="#333" transform="rotate(-90 167.6 200.6)">10<tspan dy="-1.6" font-size="2.5">2</tspan></text>
<text x="226.0" y="246.8" class="SN" font-size="3.4" text-anchor="middle" fill="#333">10<tspan dy="-1.6" font-size="2.5">3</tspan></text>
<text x="167.6" y="180.6" class="SN" font-size="3.4" text-anchor="middle" fill="#333" transform="rotate(-90 167.6 180.6)">10<tspan dy="-1.6" font-size="2.5">3</tspan></text>
<text x="244.8" y="246.8" class="SN" font-size="3.4" text-anchor="middle" fill="#333">10<tspan dy="-1.6" font-size="2.5">4</tspan></text>
<text x="167.6" y="160.6" class="SN" font-size="3.4" text-anchor="middle" fill="#333" transform="rotate(-90 167.6 160.6)">10<tspan dy="-1.6" font-size="2.5">4</tspan></text>
<text x="204.4" y="249.9" class="SN" font-size="3.3" text-anchor="middle" fill="#333">IFN-g FITC</text>
<text x="162.2" y="201.1" class="SN" font-size="3.3" text-anchor="middle" fill="#333" transform="rotate(-90 162.2 201.1)">CD4 APC</text>
<text x="206.8" y="263.8" class="S" font-size="6.2" text-anchor="middle" textLength="121.5" lengthAdjust="spacingAndGlyphs">+ 1 µg/mL autologous GT4 p26 (aa261-280)</text>
<text x="327.6" y="11.9" class="S" font-size="10.0">D</text>
<line x1="352.5" y1="30.8" x2="352.5" y2="113.5" stroke="#222" stroke-width="0.9"/>
<line x1="350.1" y1="113.5" x2="352.5" y2="113.5" stroke="#222" stroke-width="0.8"/>
<text x="349.3" y="115.6" class="S" font-size="5.9" text-anchor="end">0</text>
<line x1="350.1" y1="99.8" x2="352.5" y2="99.8" stroke="#222" stroke-width="0.8"/>
<text x="349.3" y="101.9" class="S" font-size="5.9" text-anchor="end">100</text>
<line x1="350.1" y1="86.1" x2="352.5" y2="86.1" stroke="#222" stroke-width="0.8"/>
<text x="349.3" y="88.2" class="S" font-size="5.9" text-anchor="end">200</text>
<line x1="350.1" y1="72.3" x2="352.5" y2="72.3" stroke="#222" stroke-width="0.8"/>
<text x="349.3" y="74.5" class="S" font-size="5.9" text-anchor="end">300</text>
<line x1="350.1" y1="58.6" x2="352.5" y2="58.6" stroke="#222" stroke-width="0.8"/>
<text x="349.3" y="60.8" class="S" font-size="5.9" text-anchor="end">400</text>
<line x1="350.1" y1="44.9" x2="352.5" y2="44.9" stroke="#222" stroke-width="0.8"/>
<text x="349.3" y="47.0" class="S" font-size="5.9" text-anchor="end">500</text>
<line x1="350.1" y1="31.2" x2="352.5" y2="31.2" stroke="#222" stroke-width="0.8"/>
<text x="349.3" y="33.3" class="S" font-size="5.9" text-anchor="end">600</text>
<line x1="352.5" y1="113.5" x2="476.5" y2="113.5" stroke="#222" stroke-width="0.9"/>
<line x1="352.5" y1="113.5" x2="352.5" y2="115.7" stroke="#222" stroke-width="0.8"/>
<text x="352.5" y="122.0" class="S" font-size="6.0" text-anchor="middle">10</text>
<line x1="373.2" y1="113.5" x2="373.2" y2="115.7" stroke="#222" stroke-width="0.8"/>
<text x="373.2" y="122.0" class="S" font-size="6.0" text-anchor="middle">1</text>
<line x1="394.0" y1="113.5" x2="394.0" y2="115.7" stroke="#222" stroke-width="0.8"/>
<text x="394.0" y="122.0" class="S" font-size="6.0" text-anchor="middle">0.1</text>
<line x1="414.6" y1="113.5" x2="414.6" y2="115.7" stroke="#222" stroke-width="0.8"/>
<text x="414.6" y="122.0" class="S" font-size="6.0" text-anchor="middle">0.01</text>
<line x1="435.2" y1="113.5" x2="435.2" y2="115.7" stroke="#222" stroke-width="0.8"/>
<text x="435.2" y="122.0" class="S" font-size="6.0" text-anchor="middle">0.001</text>
<line x1="455.6" y1="113.5" x2="455.6" y2="115.7" stroke="#222" stroke-width="0.8"/>
<text x="455.6" y="122.0" class="S" font-size="6.0" text-anchor="middle">0.0001</text>
<line x1="476.5" y1="113.5" x2="476.5" y2="115.7" stroke="#222" stroke-width="0.8"/>
<text x="476.5" y="122.0" class="S" font-size="6.0" text-anchor="middle">0.00001</text>
<text x="416.0" y="132.8" class="S" font-size="6.8" text-anchor="middle">µg/mL</text>
<polyline points="352.5,72.3 373.2,88.8 394.0,84.7 414.6,107.3 435.2,113.5" fill="none" stroke="#858585" stroke-width="1.3" stroke-linejoin="round"/>
<path d="M350.7 73.8L354.3 73.8L352.5 70.5z" fill="#858585"/>
<path d="M371.4 90.2L375.0 90.2L373.2 87.0z" fill="#858585"/>
<path d="M392.2 86.1L395.8 86.1L394.0 82.9z" fill="#858585"/>
<path d="M412.8 108.8L416.4 108.8L414.6 105.5z" fill="#858585"/>
<path d="M433.4 114.9L437.0 114.9L435.2 111.7z" fill="#858585"/>
<polyline points="352.5,41.5 373.2,38.7 394.0,66.9 414.6,92.2 435.2,101.2 455.6,113.5 476.5,113.5" fill="none" stroke="#000" stroke-width="1.4" stroke-linejoin="round"/>
<rect x="350.6" y="39.6" width="3.8" height="3.8" fill="#000"/>
<rect x="371.3" y="36.8" width="3.8" height="3.8" fill="#000"/>
<rect x="392.1" y="65.0" width="3.8" height="3.8" fill="#000"/>
<rect x="412.7" y="90.3" width="3.8" height="3.8" fill="#000"/>
<rect x="433.3" y="99.3" width="3.8" height="3.8" fill="#000"/>
<path d="M453.7 112.0L457.5 112.0L455.6 115.4z" fill="#000"/>
<path d="M474.6 112.0L478.4 112.0L476.5 115.4z" fill="#000"/>
<text x="333.4" y="73.0" class="S" font-size="6.8" text-anchor="middle" textLength="67.7" lengthAdjust="spacingAndGlyphs" transform="rotate(-90 333.4 73.0)">SFC / 1000000 PBMC</text>
<line x1="368.6" y1="11.7" x2="381.0" y2="11.7" stroke="#111" stroke-width="1.0"/>
<rect x="373.0" y="9.9" width="3.6" height="3.6" fill="#000"/>
<line x1="368.6" y1="22.2" x2="381.0" y2="22.2" stroke="#999" stroke-width="0.9"/>
<path d="M373.2 23.5L376.4 23.5L374.8 20.6z" fill="#8c8c8c"/>
<text x="382.0" y="13.7" class="M" font-size="6.3" fill="#929292" textLength="41.0" lengthAdjust="spacingAndGlyphs">p158 (GT1a)</text>
<text x="382.0" y="24.2" class="M" font-size="6.3" fill="#929292" textLength="67.8" lengthAdjust="spacingAndGlyphs">p158 (autol. GT2b)</text>
<text x="453.7" y="11.4" class="M" font-size="6.3" fill="#929292" textLength="66.5" lengthAdjust="spacingAndGlyphs">EHLPYLVAYQATVCARAQAP</text>
<text x="452.7" y="24.2" class="M" font-size="6.3" fill="#929292" textLength="64.0" lengthAdjust="spacingAndGlyphs">D-PA-T-----------K--</text>
<line x1="353.4" y1="164.4" x2="353.4" y2="248.0" stroke="#222" stroke-width="0.9"/>
<line x1="351.0" y1="248.0" x2="353.4" y2="248.0" stroke="#222" stroke-width="0.8"/>
<text x="350.2" y="250.1" class="S" font-size="5.9" text-anchor="end">0</text>
<line x1="351.0" y1="231.4" x2="353.4" y2="231.4" stroke="#222" stroke-width="0.8"/>
<text x="350.2" y="233.5" class="S" font-size="5.9" text-anchor="end">50</text>
<line x1="351.0" y1="214.7" x2="353.4" y2="214.7" stroke="#222" stroke-width="0.8"/>
<text x="350.2" y="216.8" class="S" font-size="5.9" text-anchor="end">100</text>
<line x1="351.0" y1="198.1" x2="353.4" y2="198.1" stroke="#222" stroke-width="0.8"/>
<text x="350.2" y="200.2" class="S" font-size="5.9" text-anchor="end">150</text>
<line x1="351.0" y1="181.4" x2="353.4" y2="181.4" stroke="#222" stroke-width="0.8"/>
<text x="350.2" y="183.6" class="S" font-size="5.9" text-anchor="end">200</text>
<line x1="351.0" y1="164.8" x2="353.4" y2="164.8" stroke="#222" stroke-width="0.8"/>
<text x="350.2" y="166.9" class="S" font-size="5.9" text-anchor="end">250</text>
<line x1="353.4" y1="248.0" x2="478.3" y2="248.0" stroke="#222" stroke-width="0.9"/>
<line x1="353.4" y1="248.0" x2="353.4" y2="250.2" stroke="#222" stroke-width="0.8"/>
<text x="353.4" y="256.6" class="S" font-size="6.0" text-anchor="middle">10</text>
<line x1="373.9" y1="248.0" x2="373.9" y2="250.2" stroke="#222" stroke-width="0.8"/>
<text x="373.9" y="256.6" class="S" font-size="6.0" text-anchor="middle">1</text>
<line x1="394.8" y1="248.0" x2="394.8" y2="250.2" stroke="#222" stroke-width="0.8"/>
<text x="394.8" y="256.6" class="S" font-size="6.0" text-anchor="middle">0.1</text>
<line x1="415.8" y1="248.0" x2="415.8" y2="250.2" stroke="#222" stroke-width="0.8"/>
<text x="415.8" y="256.6" class="S" font-size="6.0" text-anchor="middle">0.01</text>
<line x1="436.6" y1="248.0" x2="436.6" y2="250.2" stroke="#222" stroke-width="0.8"/>
<text x="436.6" y="256.6" class="S" font-size="6.0" text-anchor="middle">0.001</text>
<line x1="457.1" y1="248.0" x2="457.1" y2="250.2" stroke="#222" stroke-width="0.8"/>
<text x="457.1" y="256.6" class="S" font-size="6.0" text-anchor="middle">0.0001</text>
<line x1="478.3" y1="248.0" x2="478.3" y2="250.2" stroke="#222" stroke-width="0.8"/>
<text x="478.3" y="256.6" class="S" font-size="6.0" text-anchor="middle">0.00001</text>
<text x="416.4" y="266.8" class="S" font-size="6.8" text-anchor="middle">µg/mL</text>
<polyline points="353.4,221.4 373.9,211.4 394.8,226.4 415.8,228.0 436.6,231.4 457.1,238.0 478.3,238.0" fill="none" stroke="#858585" stroke-width="1.3" stroke-linejoin="round"/>
<path d="M351.6 222.8L355.2 222.8L353.4 219.6z" fill="#858585"/>
<path d="M372.1 212.8L375.7 212.8L373.9 209.6z" fill="#858585"/>
<path d="M393.0 227.8L396.6 227.8L394.8 224.6z" fill="#858585"/>
<path d="M414.0 229.5L417.6 229.5L415.8 226.2z" fill="#858585"/>
<path d="M434.8 232.8L438.4 232.8L436.6 229.6z" fill="#858585"/>
<rect x="455.6" y="236.5" width="3.0" height="3.0" fill="#999" stroke="#333" stroke-width="0.6"/>
<rect x="476.8" y="236.5" width="3.0" height="3.0" fill="#999" stroke="#333" stroke-width="0.6"/>
<polyline points="353.4,178.1 373.9,194.8 394.8,194.8 415.8,218.0 436.6,229.7 457.1,238.0" fill="none" stroke="#000" stroke-width="1.4" stroke-linejoin="round"/>
<rect x="351.5" y="176.2" width="3.8" height="3.8" fill="#000"/>
<rect x="372.0" y="192.9" width="3.8" height="3.8" fill="#000"/>
<rect x="392.9" y="192.9" width="3.8" height="3.8" fill="#000"/>
<rect x="413.9" y="216.1" width="3.8" height="3.8" fill="#000"/>
<rect x="434.7" y="227.8" width="3.8" height="3.8" fill="#000"/>
<rect x="455.5" y="236.4" width="3.2" height="3.2" fill="#999" stroke="#333" stroke-width="0.6"/>
<text x="333.6" y="206.5" class="S" font-size="6.8" text-anchor="middle" textLength="69.0" lengthAdjust="spacingAndGlyphs" transform="rotate(-90 333.6 206.5)">SFC / 1000000 PBMC</text>
<line x1="372.3" y1="159.2" x2="384.4" y2="159.2" stroke="#111" stroke-width="1.0"/>
<rect x="376.6" y="157.4" width="3.6" height="3.6" fill="#000"/>
<line x1="372.3" y1="170.2" x2="384.4" y2="170.2" stroke="#999" stroke-width="0.9"/>
<path d="M376.8 171.5L380.0 171.5L378.4 168.6z" fill="#8c8c8c"/>
<text x="385.9" y="161.0" class="M" font-size="5.6" fill="#929292" textLength="34.6" lengthAdjust="spacingAndGlyphs">p180 (GT1a)</text>
<text x="385.9" y="172.0" class="M" font-size="5.6" fill="#929292" textLength="56.2" lengthAdjust="spacingAndGlyphs">p180 (autol.GT2b)</text>
<text x="444.4" y="161.0" class="M" font-size="5.6" fill="#929292" textLength="68.4" lengthAdjust="spacingAndGlyphs">LTTSQTLLFNILGGWVAAQL</text>
<text x="444.4" y="172.0" class="M" font-size="5.6" fill="#929292" textLength="66.9" lengthAdjust="spacingAndGlyphs">-P--Y-I-L--M---L-E-I</text>
<text x="6.0" y="286.3" class="S" font-size="12.0" textLength="7.6" lengthAdjust="spacingAndGlyphs">C</text>
<line x1="30.4" y1="294.5" x2="30.4" y2="371.5" stroke="#555" stroke-width="1.1"/>
<line x1="28.4" y1="371.5" x2="30.4" y2="371.5" stroke="#555" stroke-width="0.8"/>
<text x="27.8" y="373.4" class="S" font-size="5.2" text-anchor="end">0</text>
<line x1="28.4" y1="352.4" x2="30.4" y2="352.4" stroke="#555" stroke-width="0.8"/>
<text x="27.8" y="354.2" class="S" font-size="5.2" text-anchor="end">5</text>
<line x1="28.4" y1="333.2" x2="30.4" y2="333.2" stroke="#555" stroke-width="0.8"/>
<text x="27.8" y="335.1" class="S" font-size="5.2" text-anchor="end">10</text>
<line x1="28.4" y1="314.0" x2="30.4" y2="314.0" stroke="#555" stroke-width="0.8"/>
<text x="27.8" y="315.9" class="S" font-size="5.2" text-anchor="end">15</text>
<line x1="28.4" y1="294.9" x2="30.4" y2="294.9" stroke="#555" stroke-width="0.8"/>
<text x="27.8" y="296.8" class="S" font-size="5.2" text-anchor="end">20</text>
<line x1="30.4" y1="371.5" x2="144.0" y2="371.5" stroke="#333" stroke-width="1.1"/>
<line x1="30.4" y1="370.3" x2="30.4" y2="373.0" stroke="#555" stroke-width="0.8"/>
<text x="30.4" y="380.0" class="S" font-size="5.4" text-anchor="middle">1</text>
<line x1="68.2" y1="370.3" x2="68.2" y2="373.0" stroke="#555" stroke-width="0.8"/>
<text x="68.2" y="380.0" class="S" font-size="5.4" text-anchor="middle">0.1</text>
<line x1="106.2" y1="370.3" x2="106.2" y2="373.0" stroke="#555" stroke-width="0.8"/>
<text x="106.2" y="380.0" class="S" font-size="5.4" text-anchor="middle">0.01</text>
<line x1="144.0" y1="370.3" x2="144.0" y2="373.0" stroke="#555" stroke-width="0.8"/>
<text x="144.0" y="380.0" class="S" font-size="5.4" text-anchor="middle">0.001</text>
<text x="88.7" y="389.8" class="S" font-size="5.8" text-anchor="middle">µg/mL</text>
<polyline points="30.4,371.5 68.2,371.5 106.2,371.5" fill="none" stroke="#999" stroke-width="1.8" stroke-linejoin="round"/>
<path d="M29.2 372.5L31.6 372.5L30.4 370.3z" fill="#999"/>
<path d="M67.0 372.5L69.4 372.5L68.2 370.3z" fill="#999"/>
<path d="M105.0 372.5L107.4 372.5L106.2 370.3z" fill="#999"/>
<polyline points="30.4,298.7 68.2,344.7 106.2,368.4" fill="none" stroke="#000" stroke-width="1.2" stroke-linejoin="round"/>
<rect x="28.8" y="297.1" width="3.2" height="3.2" fill="#000"/>
<rect x="66.6" y="343.1" width="3.2" height="3.2" fill="#000"/>
<rect x="104.6" y="366.8" width="3.2" height="3.2" fill="#000"/>
<text x="12.4" y="333.0" class="S" font-size="7.0" text-anchor="middle" textLength="68.0" lengthAdjust="spacingAndGlyphs" transform="rotate(-90 12.4 333.0)">% of CD3<tspan dy="-2.8" font-size="5.5">+</tspan><tspan dy="2.8">/CD4</tspan><tspan dy="-2.8" font-size="5.5">+</tspan><tspan dy="2.8">/IFN-g</tspan><tspan dy="-2.8" font-size="5.5">+</tspan></text>
<line x1="47.0" y1="283.8" x2="57.7" y2="283.8" stroke="#111" stroke-width="1.0"/>
<rect x="50.6" y="282.0" width="3.6" height="3.6" fill="#000"/>
<line x1="47.0" y1="293.5" x2="57.7" y2="293.5" stroke="#999" stroke-width="0.9"/>
<path d="M50.8 294.8L54.0 294.8L52.4 291.9z" fill="#8c8c8c"/>
<text x="59.0" y="285.8" class="M" font-size="6.3" fill="#929292" textLength="11.3" lengthAdjust="spacingAndGlyphs">p21</text>
<text x="59.0" y="295.5" class="M" font-size="6.3" fill="#929292" textLength="60.4" lengthAdjust="spacingAndGlyphs">p21 (autol. GT4)</text>
<text x="120.6" y="284.6" class="M" font-size="6.3" fill="#929292" textLength="67.7" lengthAdjust="spacingAndGlyphs">SIVYEAADAILHTPGCVPCV</text>
<text x="120.6" y="295.5" class="M" font-size="6.3" fill="#929292" textLength="64.0" lengthAdjust="spacingAndGlyphs">------DNH---L-------</text>
<line x1="29.0" y1="415.3" x2="29.0" y2="488.2" stroke="#555" stroke-width="1.1"/>
<line x1="27.0" y1="488.2" x2="29.0" y2="488.2" stroke="#555" stroke-width="0.8"/>
<text x="26.4" y="489.9" class="S" font-size="4.7" text-anchor="end">0</text>
<line x1="27.0" y1="451.9" x2="29.0" y2="451.9" stroke="#555" stroke-width="0.8"/>
<text x="26.4" y="453.6" class="S" font-size="4.7" text-anchor="end">5</text>
<line x1="27.0" y1="415.7" x2="29.0" y2="415.7" stroke="#555" stroke-width="0.8"/>
<text x="26.4" y="417.4" class="S" font-size="4.7" text-anchor="end">10</text>
<line x1="29.0" y1="488.2" x2="138.3" y2="488.2" stroke="#333" stroke-width="1.1"/>
<line x1="29.0" y1="487.0" x2="29.0" y2="489.7" stroke="#555" stroke-width="0.8"/>
<text x="29.0" y="496.0" class="S" font-size="4.8" text-anchor="middle">1</text>
<line x1="66.2" y1="487.0" x2="66.2" y2="489.7" stroke="#555" stroke-width="0.8"/>
<text x="66.2" y="496.0" class="S" font-size="4.8" text-anchor="middle">0.1</text>
<line x1="102.5" y1="487.0" x2="102.5" y2="489.7" stroke="#555" stroke-width="0.8"/>
<text x="102.5" y="496.0" class="S" font-size="4.8" text-anchor="middle">0.01</text>
<line x1="138.3" y1="487.0" x2="138.3" y2="489.7" stroke="#555" stroke-width="0.8"/>
<text x="138.3" y="496.0" class="S" font-size="4.8" text-anchor="middle">0.001</text>
<text x="85.5" y="505.6" class="S" font-size="5.7" text-anchor="middle">µg/mL</text>
<polyline points="29.0,488.2 66.2,488.2 102.5,488.2" fill="none" stroke="#999" stroke-width="1.4" stroke-linejoin="round"/>
<path d="M27.8 489.2L30.2 489.2L29.0 487.0z" fill="#999"/>
<path d="M65.0 489.2L67.4 489.2L66.2 487.0z" fill="#999"/>
<path d="M101.3 489.2L103.7 489.2L102.5 487.0z" fill="#999"/>
<polyline points="29.0,441.8 66.2,450.5 102.5,488.2" fill="none" stroke="#000" stroke-width="1.2" stroke-linejoin="round"/>
<rect x="27.5" y="440.3" width="3.0" height="3.0" fill="#000"/>
<rect x="64.7" y="449.0" width="3.0" height="3.0" fill="#000"/>
<rect x="101.0" y="486.7" width="3.0" height="3.0" fill="#000"/>
<text x="12.0" y="453.6" class="S" font-size="7.0" text-anchor="middle" textLength="67.0" lengthAdjust="spacingAndGlyphs" transform="rotate(-90 12.0 453.6)">% of CD3<tspan dy="-2.8" font-size="5.5">+</tspan><tspan dy="2.8">/CD4</tspan><tspan dy="-2.8" font-size="5.5">+</tspan><tspan dy="2.8">/IFN-g</tspan><tspan dy="-2.8" font-size="5.5">+</tspan></text>
<line x1="45.2" y1="412.9" x2="55.8" y2="412.9" stroke="#111" stroke-width="1.0"/>
<rect x="48.7" y="411.1" width="3.6" height="3.6" fill="#000"/>
<line x1="45.2" y1="421.4" x2="55.8" y2="421.4" stroke="#999" stroke-width="0.9"/>
<path d="M48.9 422.7L52.1 422.7L50.5 419.8z" fill="#8c8c8c"/>
<text x="57.2" y="414.8" class="M" font-size="5.9" fill="#929292" textLength="34.6" lengthAdjust="spacingAndGlyphs">p26 (GT1a)</text>
<text x="57.2" y="423.3" class="M" font-size="5.9" fill="#929292" textLength="57.1" lengthAdjust="spacingAndGlyphs">p26 (autol. GT4)</text>
<text x="119.2" y="412.6" class="M" font-size="5.9" fill="#929292" textLength="64.5" lengthAdjust="spacingAndGlyphs">HIDLLVGSATLCSALYVGDL</text>
<text x="119.2" y="423.3" class="M" font-size="5.9" fill="#929292" textLength="62.8" lengthAdjust="spacingAndGlyphs">-V--M--A-V------I---</text>
<line x1="228.9" y1="420.5" x2="228.9" y2="487.6" stroke="#555" stroke-width="1.1"/>
<line x1="226.9" y1="487.6" x2="228.9" y2="487.6" stroke="#555" stroke-width="0.8"/>
<text x="226.3" y="489.3" class="S" font-size="4.6" text-anchor="end">0</text>
<line x1="226.9" y1="465.4" x2="228.9" y2="465.4" stroke="#555" stroke-width="0.8"/>
<text x="226.3" y="467.0" class="S" font-size="4.6" text-anchor="end">5</text>
<line x1="226.9" y1="443.1" x2="228.9" y2="443.1" stroke="#555" stroke-width="0.8"/>
<text x="226.3" y="444.8" class="S" font-size="4.6" text-anchor="end">10</text>
<line x1="226.9" y1="420.9" x2="228.9" y2="420.9" stroke="#555" stroke-width="0.8"/>
<text x="226.3" y="422.6" class="S" font-size="4.6" text-anchor="end">15</text>
<line x1="228.9" y1="487.6" x2="320.5" y2="487.6" stroke="#333" stroke-width="1.1"/>
<line x1="228.9" y1="486.4" x2="228.9" y2="489.1" stroke="#555" stroke-width="0.8"/>
<text x="228.9" y="494.3" class="S" font-size="4.7" text-anchor="middle">1</text>
<line x1="259.8" y1="486.4" x2="259.8" y2="489.1" stroke="#555" stroke-width="0.8"/>
<text x="259.8" y="494.3" class="S" font-size="4.7" text-anchor="middle">0.1</text>
<line x1="289.8" y1="486.4" x2="289.8" y2="489.1" stroke="#555" stroke-width="0.8"/>
<text x="289.8" y="494.3" class="S" font-size="4.7" text-anchor="middle">0.01</text>
<line x1="320.5" y1="486.4" x2="320.5" y2="489.1" stroke="#555" stroke-width="0.8"/>
<text x="320.5" y="494.3" class="S" font-size="4.7" text-anchor="middle">0.001</text>
<text x="276.0" y="502.0" class="S" font-size="5.6" text-anchor="middle">µg/mL</text>
<polyline points="228.9,484.9 259.8,484.9 289.8,484.9" fill="none" stroke="#999" stroke-width="1.3" stroke-linejoin="round"/>
<path d="M227.6 486.0L230.2 486.0L228.9 483.6z" fill="#999"/>
<path d="M258.5 486.0L261.1 486.0L259.8 483.6z" fill="#999"/>
<path d="M288.5 486.0L291.1 486.0L289.8 483.6z" fill="#999"/>
<polyline points="228.9,429.8 259.8,437.4 289.8,454.2" fill="none" stroke="#000" stroke-width="1.15" stroke-linejoin="round"/>
<circle cx="228.9" cy="429.8" r="1.6" fill="#000"/>
<circle cx="259.8" cy="437.4" r="1.6" fill="#000"/>
<circle cx="289.8" cy="454.2" r="1.6" fill="#000"/>
<text x="215.0" y="454.7" class="S" font-size="7.0" text-anchor="middle" textLength="66.5" lengthAdjust="spacingAndGlyphs" transform="rotate(-90 215.0 454.7)">% of CD3<tspan dy="-2.8" font-size="5.5">+</tspan><tspan dy="2.8">/CD4</tspan><tspan dy="-2.8" font-size="5.5">+</tspan><tspan dy="2.8">/IFN-g</tspan><tspan dy="-2.8" font-size="5.5">+</tspan></text>
<line x1="247.2" y1="410.8" x2="255.9" y2="410.8" stroke="#111" stroke-width="1.0"/>
<circle cx="251.6" cy="410.8" r="1.8" fill="#000"/>
<line x1="247.2" y1="420.5" x2="255.9" y2="420.5" stroke="#999" stroke-width="0.9"/>
<path d="M250.0 421.8L253.2 421.8L251.6 418.9z" fill="#8c8c8c"/>
<text x="257.0" y="412.4" class="M" font-size="5.1" fill="#929292" textLength="33.0" lengthAdjust="spacingAndGlyphs">p227 (GT1a)</text>
<text x="257.0" y="422.1" class="M" font-size="5.1" fill="#929292" textLength="52.0" lengthAdjust="spacingAndGlyphs">p227 (autol. GT4)</text>
<text x="310.5" y="412.4" class="M" font-size="5.1" fill="#929292" textLength="61.5" lengthAdjust="spacingAndGlyphs">PAEILRKSRRFAQALPVWAR</text>
<text x="310.5" y="422.1" class="M" font-size="5.1" fill="#929292" textLength="61.5" lengthAdjust="spacingAndGlyphs">A-----PAK--PP---I---</text>
<line x1="29.0" y1="540.3" x2="29.0" y2="613.3" stroke="#555" stroke-width="1.1"/>
<line x1="27.0" y1="613.3" x2="29.0" y2="613.3" stroke="#555" stroke-width="0.8"/>
<text x="26.4" y="615.0" class="S" font-size="4.7" text-anchor="end">0</text>
<line x1="27.0" y1="602.9" x2="29.0" y2="602.9" stroke="#555" stroke-width="0.8"/>
<text x="26.4" y="604.6" class="S" font-size="4.7" text-anchor="end">1</text>
<line x1="27.0" y1="592.6" x2="29.0" y2="592.6" stroke="#555" stroke-width="0.8"/>
<text x="26.4" y="594.2" class="S" font-size="4.7" text-anchor="end">2</text>
<line x1="27.0" y1="582.2" x2="29.0" y2="582.2" stroke="#555" stroke-width="0.8"/>
<text x="26.4" y="583.9" class="S" font-size="4.7" text-anchor="end">3</text>
<line x1="27.0" y1="571.8" x2="29.0" y2="571.8" stroke="#555" stroke-width="0.8"/>
<text x="26.4" y="573.5" class="S" font-size="4.7" text-anchor="end">4</text>
<line x1="27.0" y1="561.4" x2="29.0" y2="561.4" stroke="#555" stroke-width="0.8"/>
<text x="26.4" y="563.1" class="S" font-size="4.7" text-anchor="end">5</text>
<line x1="27.0" y1="551.1" x2="29.0" y2="551.1" stroke="#555" stroke-width="0.8"/>
<text x="26.4" y="552.8" class="S" font-size="4.7" text-anchor="end">6</text>
<line x1="27.0" y1="540.7" x2="29.0" y2="540.7" stroke="#555" stroke-width="0.8"/>
<text x="26.4" y="542.4" class="S" font-size="4.7" text-anchor="end">7</text>
<line x1="29.0" y1="613.3" x2="138.3" y2="613.3" stroke="#333" stroke-width="1.1"/>
<line x1="29.0" y1="612.1" x2="29.0" y2="614.8" stroke="#555" stroke-width="0.8"/>
<text x="29.0" y="621.3" class="S" font-size="4.8" text-anchor="middle">1</text>
<line x1="65.6" y1="612.1" x2="65.6" y2="614.8" stroke="#555" stroke-width="0.8"/>
<text x="65.6" y="621.3" class="S" font-size="4.8" text-anchor="middle">0.1</text>
<line x1="102.0" y1="612.1" x2="102.0" y2="614.8" stroke="#555" stroke-width="0.8"/>
<text x="102.0" y="621.3" class="S" font-size="4.8" text-anchor="middle">0.01</text>
<line x1="138.3" y1="612.1" x2="138.3" y2="614.8" stroke="#555" stroke-width="0.8"/>
<text x="138.3" y="621.3" class="S" font-size="4.8" text-anchor="middle">0.001</text>
<text x="85.5" y="629.5" class="S" font-size="5.7" text-anchor="middle">µg/mL</text>
<polyline points="29.0,606.6 65.6,611.2 102.0,612.8" fill="none" stroke="#999" stroke-width="1.3" stroke-linejoin="round"/>
<path d="M27.6 607.7L30.4 607.7L29.0 605.2z" fill="#999"/>
<path d="M64.2 612.3L67.0 612.3L65.6 609.8z" fill="#999"/>
<path d="M100.6 613.9L103.4 613.9L102.0 611.4z" fill="#999"/>
<polyline points="29.0,560.4 65.6,569.7 102.0,601.9" fill="none" stroke="#000" stroke-width="1.3" stroke-linejoin="round"/>
<rect x="27.3" y="558.7" width="3.4" height="3.4" fill="#000"/>
<rect x="63.9" y="568.0" width="3.4" height="3.4" fill="#000"/>
<rect x="100.3" y="600.2" width="3.4" height="3.4" fill="#000"/>
<text x="12.0" y="579.5" class="S" font-size="7.0" text-anchor="middle" textLength="67.6" lengthAdjust="spacingAndGlyphs" transform="rotate(-90 12.0 579.5)">% of CD3<tspan dy="-2.8" font-size="5.5">+</tspan><tspan dy="2.8">/CD4</tspan><tspan dy="-2.8" font-size="5.5">+</tspan><tspan dy="2.8">/IFN-g</tspan><tspan dy="-2.8" font-size="5.5">+</tspan></text>
<line x1="44.3" y1="531.8" x2="55.9" y2="531.8" stroke="#111" stroke-width="1.0"/>
<rect x="48.3" y="530.0" width="3.6" height="3.6" fill="#000"/>
<line x1="44.3" y1="540.8" x2="55.9" y2="540.8" stroke="#999" stroke-width="0.9"/>
<path d="M48.5 542.1L51.7 542.1L50.1 539.2z" fill="#8c8c8c"/>
<text x="56.4" y="533.7" class="M" font-size="5.9" fill="#929292" textLength="14.0" lengthAdjust="spacingAndGlyphs">p244</text>
<text x="56.4" y="542.7" class="M" font-size="5.9" fill="#929292" textLength="60.0" lengthAdjust="spacingAndGlyphs">p244 (autol. GT4)</text>
<text x="120.8" y="531.6" class="M" font-size="5.9" fill="#929292" textLength="63.5" lengthAdjust="spacingAndGlyphs">LPINALSNSLLRHHNLVYST</text>
<text x="120.8" y="542.7" class="M" font-size="5.9" fill="#929292" textLength="63.4" lengthAdjust="spacingAndGlyphs">---SP---------M--A-</text>
<line x1="233.3" y1="542.8" x2="233.3" y2="613.5" stroke="#555" stroke-width="1.1"/>
<line x1="231.3" y1="613.5" x2="233.3" y2="613.5" stroke="#555" stroke-width="0.8"/>
<text x="230.7" y="615.2" class="S" font-size="4.7" text-anchor="end">0</text>
<line x1="231.3" y1="578.4" x2="233.3" y2="578.4" stroke="#555" stroke-width="0.8"/>
<text x="230.7" y="580.0" class="S" font-size="4.7" text-anchor="end">5</text>
<line x1="231.3" y1="543.2" x2="233.3" y2="543.2" stroke="#555" stroke-width="0.8"/>
<text x="230.7" y="544.9" class="S" font-size="4.7" text-anchor="end">10</text>
<line x1="233.3" y1="613.5" x2="339.3" y2="613.5" stroke="#333" stroke-width="1.1"/>
<line x1="233.3" y1="612.3" x2="233.3" y2="615.0" stroke="#555" stroke-width="0.8"/>
<text x="233.3" y="621.3" class="S" font-size="4.8" text-anchor="middle">1</text>
<line x1="268.5" y1="612.3" x2="268.5" y2="615.0" stroke="#555" stroke-width="0.8"/>
<text x="268.5" y="621.3" class="S" font-size="4.8" text-anchor="middle">0.1</text>
<line x1="304.0" y1="612.3" x2="304.0" y2="615.0" stroke="#555" stroke-width="0.8"/>
<text x="304.0" y="621.3" class="S" font-size="4.8" text-anchor="middle">0.01</text>
<line x1="339.3" y1="612.3" x2="339.3" y2="615.0" stroke="#555" stroke-width="0.8"/>
<text x="339.3" y="621.3" class="S" font-size="4.8" text-anchor="middle">0.001</text>
<text x="284.6" y="629.5" class="S" font-size="5.7" text-anchor="middle">µg/mL</text>
<polyline points="233.3,612.7 268.5,612.7 304.0,612.7" fill="none" stroke="#999" stroke-width="1.8" stroke-linejoin="round"/>
<path d="M232.1 613.6L234.5 613.6L233.3 611.5z" fill="#999"/>
<path d="M267.3 613.6L269.7 613.6L268.5 611.5z" fill="#999"/>
<path d="M302.8 613.6L305.2 613.6L304.0 611.5z" fill="#999"/>
<polyline points="233.3,561.5 268.5,573.8 304.0,586.4" fill="none" stroke="#000" stroke-width="1.15" stroke-linejoin="round"/>
<rect x="231.8" y="560.0" width="3.0" height="3.0" fill="#000"/>
<rect x="267.0" y="572.3" width="3.0" height="3.0" fill="#000"/>
<rect x="302.5" y="584.9" width="3.0" height="3.0" fill="#000"/>
<text x="215.0" y="579.3" class="S" font-size="7.0" text-anchor="middle" textLength="68.0" lengthAdjust="spacingAndGlyphs" transform="rotate(-90 215.0 579.3)">% of CD3<tspan dy="-2.8" font-size="5.5">+</tspan><tspan dy="2.8">/CD4</tspan><tspan dy="-2.8" font-size="5.5">+</tspan><tspan dy="2.8">/IFN-g</tspan><tspan dy="-2.8" font-size="5.5">+</tspan></text>
<line x1="247.4" y1="535.1" x2="257.6" y2="535.1" stroke="#111" stroke-width="1.0"/>
<circle cx="252.5" cy="535.1" r="1.8" fill="#000"/>
<line x1="247.4" y1="544.0" x2="257.6" y2="544.0" stroke="#999" stroke-width="0.9"/>
<path d="M250.9 545.3L254.1 545.3L252.5 542.4z" fill="#8c8c8c"/>
<text x="259.0" y="537.0" class="M" font-size="5.8" fill="#929292" textLength="14.0" lengthAdjust="spacingAndGlyphs">p267</text>
<text x="259.0" y="545.9" class="M" font-size="5.8" fill="#929292" textLength="59.5" lengthAdjust="spacingAndGlyphs">p267 (autol. GT4)</text>
<text x="320.6" y="534.8" class="M" font-size="5.8" fill="#929292" textLength="64.0" lengthAdjust="spacingAndGlyphs">VAIKSLTEHLVVGGPLTNSR</text>
<text x="320.6" y="545.9" class="M" font-size="5.8" fill="#929292" textLength="64.0" lengthAdjust="spacingAndGlyphs">KV-TA---------MN-E-</text>
</svg>
</body></html>
